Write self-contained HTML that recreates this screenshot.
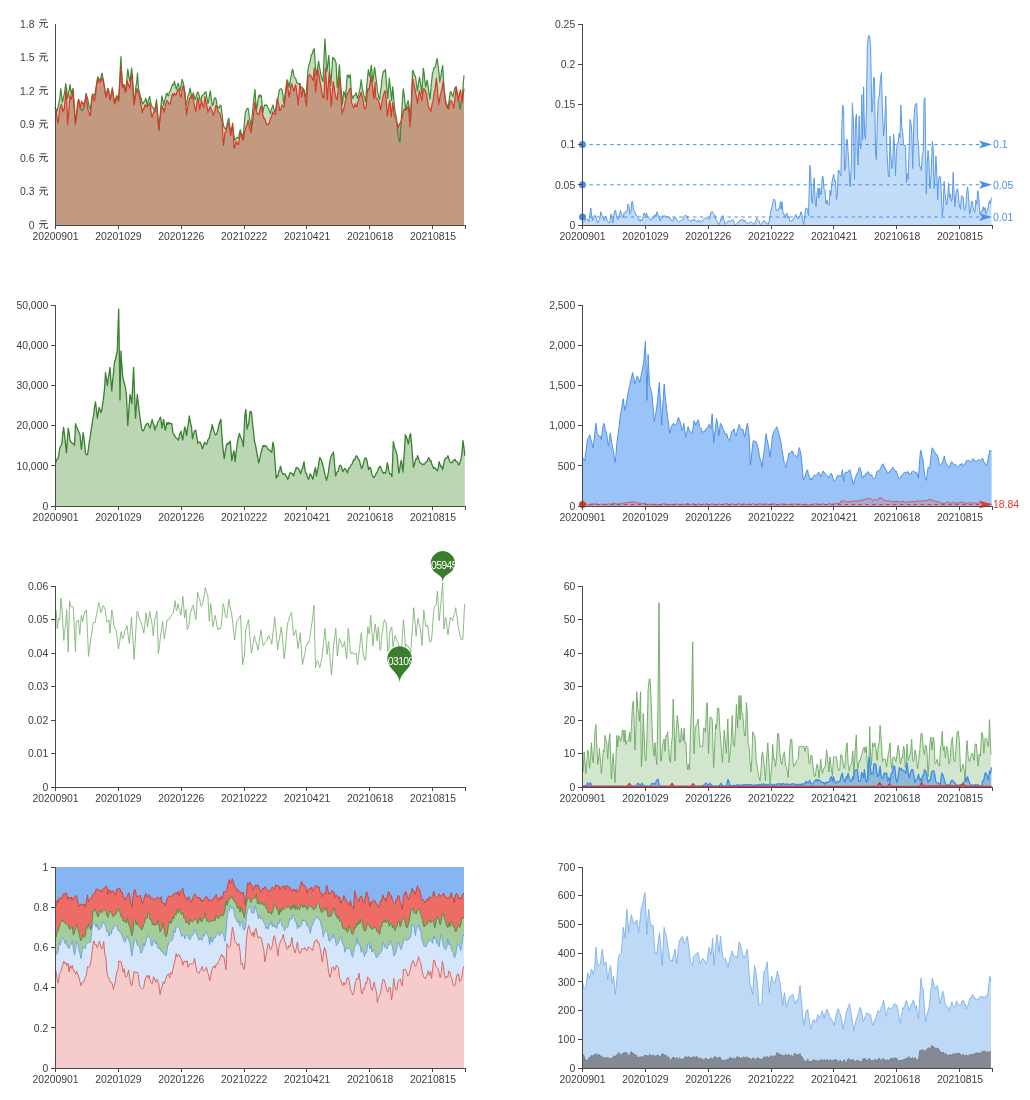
<!DOCTYPE html><html><head><meta charset="utf-8"><style>html,body{margin:0;padding:0;background:#fff;overflow:hidden;}svg{display:block;will-change:transform;filter:blur(0.4px)}text{font-family:"Liberation Sans",sans-serif;font-size:10.4px;fill:#3d3d3d}</style></head><body>
<svg width="1030" height="1100" viewBox="0 0 1030 1100">
<path d="M55.0,107.0 L56.0,109.2 L56.9,111.8 L57.9,107.7 L58.9,103.1 L59.9,97.4 L60.8,88.5 L61.6,95.2 L62.3,102.1 L63.3,98.3 L64.2,94.4 L65.0,89.3 L65.7,83.7 L66.7,89.8 L67.6,98.3 L68.4,93.8 L69.2,89.7 L70.0,84.7 L70.8,90.6 L71.5,94.4 L72.2,90.0 L73.0,88.5 L73.8,99.5 L74.6,110.4 L75.4,123.5 L76.4,116.8 L77.3,108.7 L78.3,100.2 L79.3,101.8 L80.2,108.4 L81.2,109.9 L82.2,110.9 L83.2,109.2 L84.1,108.0 L85.1,101.1 L86.1,93.4 L87.0,96.4 L88.0,100.1 L89.0,106.0 L89.7,108.1 L90.4,109.9 L91.4,100.6 L92.4,94.4 L93.2,93.9 L94.0,94.7 L94.8,96.3 L95.8,88.1 L96.7,83.2 L97.7,76.9 L98.7,78.6 L99.7,80.8 L100.5,79.4 L101.3,75.7 L102.1,73.0 L102.8,77.4 L103.5,80.8 L104.4,86.0 L105.2,91.7 L106.0,96.3 L106.9,92.3 L107.9,88.5 L108.7,91.3 L109.5,97.5 L110.3,99.2 L111.3,95.2 L112.3,87.6 L113.1,94.0 L113.9,98.7 L114.7,103.1 L115.7,98.6 L116.7,95.3 L117.6,96.8 L118.6,100.2 L119.4,84.9 L120.2,69.5 L121.0,56.5 L121.7,72.5 L122.5,86.6 L123.4,85.3 L124.4,84.7 L125.1,88.8 L125.9,90.5 L126.8,79.4 L127.8,69.1 L128.8,76.6 L129.8,80.8 L130.7,75.7 L131.7,68.2 L132.5,77.7 L133.3,89.8 L134.1,102.1 L135.0,96.3 L135.8,87.5 L136.7,82.0 L137.5,73.0 L138.5,88.5 L139.5,92.1 L140.4,96.3 L141.4,98.7 L142.4,104.1 L143.1,103.6 L143.8,102.1 L144.8,101.2 L145.8,98.3 L146.5,101.3 L147.2,106.0 L148.0,101.3 L148.9,98.9 L149.7,96.3 L150.5,101.5 L151.3,104.4 L152.1,107.0 L153.1,107.4 L154.0,109.6 L155.0,112.3 L155.7,104.5 L156.5,99.7 L157.3,108.4 L158.1,121.4 L158.9,130.7 L159.9,117.9 L160.8,107.6 L161.8,95.8 L162.8,100.4 L163.7,105.5 L164.5,100.5 L165.4,98.6 L166.2,93.8 L167.0,93.2 L167.8,95.6 L168.6,95.8 L169.4,92.1 L170.2,91.0 L171.0,89.0 L171.9,86.0 L172.7,84.3 L173.6,84.9 L174.4,81.2 L175.4,86.2 L176.4,89.0 L177.3,85.4 L178.3,83.2 L179.3,88.4 L180.2,90.9 L181.2,84.1 L182.2,79.3 L183.2,82.8 L184.1,87.0 L185.1,97.5 L186.1,105.5 L187.0,101.6 L188.0,95.3 L189.0,94.1 L190.0,88.0 L190.9,92.3 L191.9,98.7 L192.6,94.9 L193.3,92.9 L194.3,97.2 L195.3,99.7 L196.1,96.5 L196.9,93.7 L197.7,91.9 L198.5,93.3 L199.3,96.2 L200.1,100.6 L201.1,99.0 L202.1,95.8 L203.1,94.8 L204.0,94.2 L205.0,92.4 L206.0,91.9 L206.9,97.5 L207.9,103.5 L208.7,101.0 L209.5,95.1 L210.3,90.9 L211.3,98.5 L212.3,105.5 L213.3,104.2 L214.2,99.2 L215.2,97.7 L216.2,99.7 L217.1,105.7 L218.1,107.4 L219.1,107.9 L220.0,105.2 L221.0,105.5 L222.0,113.1 L223.0,123.0 L223.9,126.7 L224.9,128.8 L225.9,128.9 L226.8,125.9 L227.8,120.9 L228.8,118.1 L229.8,126.5 L230.7,131.7 L231.7,130.2 L232.7,125.9 L233.6,133.5 L234.6,140.4 L235.5,139.7 L236.3,138.0 L237.2,137.3 L238.0,138.5 L238.8,137.2 L239.6,131.7 L240.4,129.8 L241.2,133.4 L242.1,134.7 L242.9,138.5 L243.7,130.9 L244.5,121.4 L245.3,112.3 L246.3,110.2 L247.2,108.5 L248.2,108.4 L249.2,116.0 L250.1,120.4 L251.1,128.8 L252.1,116.2 L253.1,105.5 L254.0,97.6 L255.0,89.4 L255.7,100.8 L256.5,109.8 L257.3,105.3 L258.1,99.3 L258.9,95.2 L259.7,97.0 L260.5,94.8 L261.3,96.2 L262.0,102.7 L262.8,112.7 L263.7,108.0 L264.7,104.9 L265.6,105.4 L266.4,104.8 L267.3,105.9 L268.1,107.8 L268.9,109.3 L269.7,112.0 L270.5,113.6 L271.3,109.4 L272.2,107.3 L273.0,104.9 L273.8,108.6 L274.6,111.2 L275.4,111.7 L276.4,106.9 L277.3,101.7 L278.3,96.0 L279.3,90.3 L280.2,89.0 L281.2,88.7 L282.2,90.3 L282.9,94.9 L283.6,103.0 L284.5,98.6 L285.3,92.0 L286.2,87.2 L287.0,79.7 L288.0,81.8 L289.0,87.4 L289.8,83.3 L290.7,78.1 L291.5,74.4 L292.4,69.0 L293.2,71.2 L294.0,76.6 L294.8,77.7 L295.8,78.6 L296.7,82.6 L297.7,83.1 L298.7,84.1 L299.7,83.5 L300.5,86.3 L301.3,87.0 L302.1,87.4 L303.1,89.1 L304.0,89.4 L305.0,94.3 L306.0,97.1 L306.9,85.0 L307.9,70.0 L308.8,65.5 L309.6,62.9 L310.5,59.7 L311.3,54.4 L312.3,53.8 L313.3,50.2 L314.2,48.6 L315.2,63.2 L316.2,75.8 L317.0,72.2 L317.8,66.3 L318.6,61.2 L319.4,66.5 L320.2,70.5 L321.0,75.8 L322.0,79.0 L323.0,81.6 L323.9,60.6 L324.9,38.9 L325.9,53.9 L326.8,71.9 L327.8,64.1 L328.8,55.4 L329.8,72.2 L330.7,85.5 L331.7,72.8 L332.7,57.3 L333.4,59.0 L334.2,58.6 L335.0,59.9 L336.1,63.2 L337.2,87.7 L338.3,77.1 L339.4,64.8 L340.2,76.6 L341.0,87.7 L341.7,95.7 L342.4,104.1 L343.0,99.0 L343.7,91.6 L344.5,93.1 L345.4,97.6 L346.3,87.3 L347.3,75.2 L348.1,74.9 L348.9,77.9 L349.6,76.6 L350.3,74.6 L351.4,94.3 L352.2,96.4 L353.0,98.6 L353.7,96.0 L354.4,95.4 L355.2,94.7 L356.0,92.6 L356.7,95.6 L357.4,98.6 L358.2,96.3 L359.0,93.2 L360.1,87.9 L361.2,79.5 L362.3,88.8 L363.1,91.5 L363.9,95.9 L364.7,97.2 L365.6,101.9 L366.6,87.7 L367.5,78.0 L368.3,69.7 L369.1,73.9 L369.9,76.8 L370.6,70.0 L371.3,65.4 L372.0,72.6 L372.6,82.3 L373.5,76.9 L374.3,68.6 L374.7,67.5 L375.7,76.1 L376.7,83.4 L377.6,91.7 L378.6,97.0 L379.6,99.5 L380.4,92.1 L381.3,86.5 L382.1,78.0 L383.0,72.3 L383.8,71.1 L384.6,71.5 L385.4,69.4 L386.2,80.6 L387.0,90.2 L387.8,98.5 L388.5,87.9 L389.3,78.2 L390.1,85.9 L390.9,92.4 L391.7,100.5 L392.7,86.9 L393.6,96.3 L394.6,108.3 L395.3,112.1 L396.1,116.0 L396.9,124.4 L397.7,131.5 L398.5,137.4 L399.2,140.6 L400.0,142.2 L400.9,126.9 L401.9,108.3 L402.6,97.7 L403.3,88.8 L404.2,94.8 L405.0,102.9 L405.8,110.2 L406.6,106.1 L407.4,102.7 L408.2,100.5 L409.0,106.0 L409.8,112.6 L410.6,118.0 L411.6,94.2 L412.6,70.4 L413.5,71.7 L414.5,75.5 L415.5,76.2 L416.5,85.2 L417.4,90.8 L418.4,83.8 L419.4,77.2 L420.2,81.2 L421.0,86.5 L421.8,93.7 L422.5,82.4 L423.3,68.4 L424.1,72.9 L424.9,81.5 L425.7,86.9 L426.4,83.7 L427.1,80.1 L428.1,85.9 L429.1,94.1 L430.0,99.5 L430.9,89.0 L431.7,80.7 L432.5,73.3 L433.3,71.2 L434.1,67.7 L434.9,67.5 L435.7,65.7 L436.5,60.7 L437.3,58.7 L438.1,65.2 L438.9,72.6 L439.8,82.0 L440.7,77.0 L441.7,70.8 L442.7,65.5 L443.6,81.1 L444.6,95.6 L445.6,100.4 L446.6,105.2 L447.5,108.3 L448.5,104.4 L449.5,97.9 L450.4,91.7 L451.2,92.3 L452.1,94.9 L452.9,96.6 L453.8,92.2 L454.8,88.4 L455.8,86.9 L456.6,91.0 L457.4,96.1 L458.2,99.5 L459.2,103.2 L460.1,109.2 L461.1,103.1 L462.1,98.5 L463.1,86.3 L464.0,75.2 L464.0,225 L55.0,225 Z" fill="#c6ddc0" stroke="none" />
<path d="M55.0,108.0 L56.0,109.9 L56.9,116.6 L57.9,123.5 L58.9,116.3 L59.9,108.0 L60.6,106.6 L61.3,104.1 L62.0,106.7 L62.8,111.8 L63.5,109.1 L64.2,109.9 L65.2,98.8 L66.2,88.5 L66.9,105.7 L67.6,124.5 L68.4,115.9 L69.2,105.7 L70.0,95.3 L70.8,97.6 L71.5,99.2 L72.2,95.1 L73.0,90.5 L73.8,102.4 L74.6,111.9 L75.4,124.5 L76.4,115.0 L77.3,106.0 L78.1,101.4 L78.8,99.2 L79.5,105.1 L80.2,108.0 L81.0,103.0 L81.7,101.2 L82.5,103.9 L83.3,102.9 L84.1,106.0 L85.1,100.9 L86.1,94.4 L87.0,101.5 L88.0,109.9 L88.8,111.5 L89.6,115.0 L90.4,115.7 L91.4,103.8 L92.4,95.3 L93.3,96.7 L94.3,101.2 L95.2,97.1 L96.0,90.0 L96.9,82.9 L97.7,78.8 L98.7,81.6 L99.7,82.4 L100.6,81.7 L101.6,78.4 L102.6,77.9 L103.4,82.4 L104.3,86.3 L105.1,91.8 L106.0,97.3 L106.9,93.3 L107.9,88.5 L108.7,91.2 L109.5,97.0 L110.3,100.2 L111.3,93.2 L112.3,89.5 L113.1,93.2 L113.9,100.4 L114.7,104.1 L115.5,101.5 L116.3,99.3 L117.1,97.3 L117.9,99.6 L118.6,101.2 L119.4,89.4 L120.2,77.4 L121.0,66.2 L121.7,75.2 L122.5,87.6 L123.2,86.9 L123.9,84.7 L124.7,90.2 L125.4,92.4 L126.4,88.3 L127.3,80.8 L128.1,84.0 L128.9,85.4 L129.8,88.5 L130.7,80.3 L131.7,73.0 L132.5,84.4 L133.3,95.0 L134.1,105.0 L135.1,98.2 L136.1,93.1 L137.0,88.5 L138.0,91.3 L139.0,95.1 L140.0,98.3 L140.8,104.2 L141.6,108.0 L142.4,112.8 L143.2,108.5 L144.0,108.8 L144.8,105.0 L145.6,105.4 L146.4,106.4 L147.2,107.0 L148.0,104.7 L148.9,104.1 L149.7,103.1 L150.5,107.6 L151.3,113.8 L152.1,117.7 L153.1,113.5 L154.0,112.3 L155.0,109.4 L155.7,105.3 L156.5,103.5 L157.3,112.7 L158.1,118.7 L158.9,128.8 L159.9,120.2 L160.8,112.7 L161.8,105.5 L162.6,108.2 L163.4,108.4 L164.2,112.3 L165.0,108.3 L165.8,103.5 L166.7,100.6 L167.6,101.1 L168.6,103.1 L169.6,104.5 L170.5,102.6 L171.5,97.3 L172.5,93.8 L173.4,95.8 L174.4,93.3 L175.4,94.8 L176.2,94.9 L177.1,91.4 L177.9,89.3 L178.8,89.0 L179.8,94.2 L180.7,97.7 L181.7,93.4 L182.7,86.1 L183.5,86.6 L184.3,89.8 L185.1,92.9 L185.8,105.0 L186.6,115.2 L187.3,109.8 L188.0,105.5 L188.8,102.0 L189.6,98.5 L190.4,97.7 L191.2,95.1 L192.1,96.2 L192.9,94.8 L193.8,102.0 L194.8,107.6 L195.8,111.3 L196.7,104.5 L197.7,97.7 L198.7,101.8 L199.7,109.4 L200.6,104.4 L201.6,100.6 L202.6,105.1 L203.5,107.4 L204.3,103.3 L205.0,96.7 L206.0,102.4 L206.9,106.1 L207.9,112.3 L208.7,110.4 L209.5,108.3 L210.3,106.5 L211.3,109.8 L212.3,111.4 L213.3,115.2 L214.1,113.6 L214.9,110.1 L215.7,105.5 L216.5,106.0 L217.4,108.1 L218.2,111.9 L219.1,112.3 L220.0,113.7 L221.0,118.4 L222.0,119.1 L222.7,132.2 L223.4,145.3 L224.2,139.7 L224.9,132.7 L225.9,131.0 L226.8,127.8 L227.8,124.4 L228.8,123.0 L229.8,128.5 L230.7,135.6 L231.7,128.4 L232.7,123.0 L233.4,136.2 L234.1,148.2 L234.9,146.6 L235.7,142.3 L236.6,141.4 L237.5,144.3 L238.5,144.3 L239.5,138.2 L240.4,132.7 L241.2,134.3 L242.1,137.6 L242.9,140.4 L243.7,138.3 L244.5,132.9 L245.3,128.8 L246.3,126.3 L247.2,124.5 L248.2,120.0 L249.2,125.9 L250.1,129.4 L251.1,132.7 L252.1,125.1 L253.1,118.1 L254.0,110.4 L255.0,102.0 L255.7,108.3 L256.5,111.7 L257.3,113.7 L258.1,113.9 L258.9,114.6 L259.7,111.1 L260.5,108.3 L261.3,105.9 L262.3,112.1 L263.3,116.6 L264.1,118.7 L264.9,118.7 L265.7,122.4 L266.5,123.8 L267.3,125.1 L268.1,124.3 L268.9,123.5 L269.7,121.9 L270.5,118.5 L271.3,117.7 L272.2,114.1 L273.0,111.7 L273.8,113.7 L274.6,113.2 L275.4,114.6 L276.4,104.9 L277.3,98.1 L278.1,101.8 L278.9,105.8 L279.8,110.7 L280.6,110.3 L281.4,107.5 L282.2,104.9 L283.2,106.0 L284.1,106.8 L285.1,98.9 L286.1,88.7 L287.0,81.6 L288.0,89.5 L289.0,97.1 L289.8,93.3 L290.6,87.7 L291.4,83.5 L292.2,85.2 L293.0,88.4 L293.8,91.3 L294.8,87.3 L295.8,84.5 L296.6,92.0 L297.4,96.8 L298.2,104.9 L299.2,92.7 L300.1,83.5 L300.9,89.7 L301.6,97.1 L302.3,93.5 L303.1,88.4 L303.8,91.8 L304.5,93.3 L305.5,100.1 L306.5,105.9 L307.2,92.9 L307.9,76.7 L308.9,75.9 L309.9,74.4 L310.8,75.8 L311.6,77.4 L312.4,78.8 L313.3,80.6 L314.2,68.0 L315.0,79.0 L315.7,92.3 L316.7,80.7 L317.6,68.0 L318.4,72.0 L319.2,76.1 L320.0,81.6 L321.0,86.8 L322.0,93.3 L323.0,97.3 L323.9,98.1 L324.7,81.3 L325.4,68.0 L326.4,83.5 L327.3,100.0 L328.3,85.2 L329.3,71.9 L330.2,88.3 L331.2,106.8 L332.2,94.0 L333.2,81.6 L334.1,86.4 L335.0,93.2 L336.1,98.0 L337.2,99.7 L338.3,88.3 L339.4,76.8 L340.2,87.1 L341.0,95.9 L342.1,113.9 L342.9,110.5 L343.7,109.6 L344.5,105.3 L345.4,101.4 L346.3,97.7 L347.3,93.2 L348.2,92.8 L349.2,89.9 L350.0,88.5 L350.8,88.8 L351.4,102.5 L352.5,104.8 L353.5,107.4 L354.4,106.7 L355.2,103.6 L356.0,106.4 L356.8,106.8 L357.9,101.8 L359.0,98.6 L360.1,95.5 L361.2,92.1 L362.0,96.3 L362.8,98.6 L363.6,103.5 L364.5,109.0 L365.3,108.5 L366.1,106.8 L366.9,98.4 L367.7,88.8 L368.6,90.0 L369.4,87.7 L370.2,81.9 L371.0,75.7 L371.8,82.1 L372.6,87.2 L373.7,98.6 L375.0,82.3 L375.7,97.6 L376.7,98.0 L377.6,100.4 L378.6,100.5 L379.6,104.7 L380.5,110.2 L381.3,105.7 L382.2,100.6 L383.0,96.6 L383.8,94.0 L384.6,91.4 L385.4,90.8 L386.4,102.4 L387.3,116.0 L388.1,111.0 L388.9,104.8 L389.8,100.5 L390.5,107.1 L391.2,117.0 L391.9,110.8 L392.7,102.4 L393.4,107.5 L394.1,114.1 L395.1,117.6 L396.1,118.0 L397.0,123.2 L398.0,127.7 L398.7,125.3 L399.5,123.8 L400.4,123.2 L401.4,119.9 L402.2,118.1 L403.0,112.8 L403.8,110.2 L404.8,108.8 L405.8,110.2 L406.6,109.4 L407.4,108.8 L408.2,106.3 L409.2,116.9 L410.1,126.7 L411.0,111.5 L411.8,94.0 L412.6,78.2 L413.5,82.9 L414.5,86.9 L415.5,91.5 L416.5,97.6 L417.4,103.4 L418.4,96.7 L419.4,90.8 L420.2,93.6 L421.0,96.9 L421.8,100.5 L422.5,95.8 L423.3,88.8 L424.2,88.9 L425.2,90.4 L426.2,92.7 L427.1,97.7 L428.1,104.4 L429.1,108.3 L430.0,109.0 L431.0,111.2 L432.0,104.1 L433.0,101.4 L433.9,94.7 L434.7,90.5 L435.6,84.8 L436.4,78.2 L437.2,86.4 L438.0,96.5 L438.8,104.4 L439.6,99.5 L440.4,94.6 L441.2,91.7 L442.2,87.7 L443.2,81.1 L444.0,89.4 L444.8,94.3 L445.6,102.4 L446.6,106.1 L447.5,105.2 L448.5,109.2 L449.3,105.6 L450.1,101.6 L450.9,100.5 L451.9,101.9 L452.9,104.5 L453.8,108.3 L454.6,101.9 L455.5,93.3 L456.3,86.9 L457.2,92.6 L458.2,100.5 L459.0,95.8 L459.8,92.7 L460.6,89.8 L461.4,97.4 L462.1,102.4 L463.1,96.0 L464.0,88.8 L464.0,225 L55.0,225 Z" fill="#c19a80" stroke="none" />
<path d="M55.0,107.0 L56.0,109.2 L56.9,111.8 L57.9,107.7 L58.9,103.1 L59.9,97.4 L60.8,88.5 L61.6,95.2 L62.3,102.1 L63.3,98.3 L64.2,94.4 L65.0,89.3 L65.7,83.7 L66.7,89.8 L67.6,98.3 L68.4,93.8 L69.2,89.7 L70.0,84.7 L70.8,90.6 L71.5,94.4 L72.2,90.0 L73.0,88.5 L73.8,99.5 L74.6,110.4 L75.4,123.5 L76.4,116.8 L77.3,108.7 L78.3,100.2 L79.3,101.8 L80.2,108.4 L81.2,109.9 L82.2,110.9 L83.2,109.2 L84.1,108.0 L85.1,101.1 L86.1,93.4 L87.0,96.4 L88.0,100.1 L89.0,106.0 L89.7,108.1 L90.4,109.9 L91.4,100.6 L92.4,94.4 L93.2,93.9 L94.0,94.7 L94.8,96.3 L95.8,88.1 L96.7,83.2 L97.7,76.9 L98.7,78.6 L99.7,80.8 L100.5,79.4 L101.3,75.7 L102.1,73.0 L102.8,77.4 L103.5,80.8 L104.4,86.0 L105.2,91.7 L106.0,96.3 L106.9,92.3 L107.9,88.5 L108.7,91.3 L109.5,97.5 L110.3,99.2 L111.3,95.2 L112.3,87.6 L113.1,94.0 L113.9,98.7 L114.7,103.1 L115.7,98.6 L116.7,95.3 L117.6,96.8 L118.6,100.2 L119.4,84.9 L120.2,69.5 L121.0,56.5 L121.7,72.5 L122.5,86.6 L123.4,85.3 L124.4,84.7 L125.1,88.8 L125.9,90.5 L126.8,79.4 L127.8,69.1 L128.8,76.6 L129.8,80.8 L130.7,75.7 L131.7,68.2 L132.5,77.7 L133.3,89.8 L134.1,102.1 L135.0,96.3 L135.8,87.5 L136.7,82.0 L137.5,73.0 L138.5,88.5 L139.5,92.1 L140.4,96.3 L141.4,98.7 L142.4,104.1 L143.1,103.6 L143.8,102.1 L144.8,101.2 L145.8,98.3 L146.5,101.3 L147.2,106.0 L148.0,101.3 L148.9,98.9 L149.7,96.3 L150.5,101.5 L151.3,104.4 L152.1,107.0 L153.1,107.4 L154.0,109.6 L155.0,112.3 L155.7,104.5 L156.5,99.7 L157.3,108.4 L158.1,121.4 L158.9,130.7 L159.9,117.9 L160.8,107.6 L161.8,95.8 L162.8,100.4 L163.7,105.5 L164.5,100.5 L165.4,98.6 L166.2,93.8 L167.0,93.2 L167.8,95.6 L168.6,95.8 L169.4,92.1 L170.2,91.0 L171.0,89.0 L171.9,86.0 L172.7,84.3 L173.6,84.9 L174.4,81.2 L175.4,86.2 L176.4,89.0 L177.3,85.4 L178.3,83.2 L179.3,88.4 L180.2,90.9 L181.2,84.1 L182.2,79.3 L183.2,82.8 L184.1,87.0 L185.1,97.5 L186.1,105.5 L187.0,101.6 L188.0,95.3 L189.0,94.1 L190.0,88.0 L190.9,92.3 L191.9,98.7 L192.6,94.9 L193.3,92.9 L194.3,97.2 L195.3,99.7 L196.1,96.5 L196.9,93.7 L197.7,91.9 L198.5,93.3 L199.3,96.2 L200.1,100.6 L201.1,99.0 L202.1,95.8 L203.1,94.8 L204.0,94.2 L205.0,92.4 L206.0,91.9 L206.9,97.5 L207.9,103.5 L208.7,101.0 L209.5,95.1 L210.3,90.9 L211.3,98.5 L212.3,105.5 L213.3,104.2 L214.2,99.2 L215.2,97.7 L216.2,99.7 L217.1,105.7 L218.1,107.4 L219.1,107.9 L220.0,105.2 L221.0,105.5 L222.0,113.1 L223.0,123.0 L223.9,126.7 L224.9,128.8 L225.9,128.9 L226.8,125.9 L227.8,120.9 L228.8,118.1 L229.8,126.5 L230.7,131.7 L231.7,130.2 L232.7,125.9 L233.6,133.5 L234.6,140.4 L235.5,139.7 L236.3,138.0 L237.2,137.3 L238.0,138.5 L238.8,137.2 L239.6,131.7 L240.4,129.8 L241.2,133.4 L242.1,134.7 L242.9,138.5 L243.7,130.9 L244.5,121.4 L245.3,112.3 L246.3,110.2 L247.2,108.5 L248.2,108.4 L249.2,116.0 L250.1,120.4 L251.1,128.8 L252.1,116.2 L253.1,105.5 L254.0,97.6 L255.0,89.4 L255.7,100.8 L256.5,109.8 L257.3,105.3 L258.1,99.3 L258.9,95.2 L259.7,97.0 L260.5,94.8 L261.3,96.2 L262.0,102.7 L262.8,112.7 L263.7,108.0 L264.7,104.9 L265.6,105.4 L266.4,104.8 L267.3,105.9 L268.1,107.8 L268.9,109.3 L269.7,112.0 L270.5,113.6 L271.3,109.4 L272.2,107.3 L273.0,104.9 L273.8,108.6 L274.6,111.2 L275.4,111.7 L276.4,106.9 L277.3,101.7 L278.3,96.0 L279.3,90.3 L280.2,89.0 L281.2,88.7 L282.2,90.3 L282.9,94.9 L283.6,103.0 L284.5,98.6 L285.3,92.0 L286.2,87.2 L287.0,79.7 L288.0,81.8 L289.0,87.4 L289.8,83.3 L290.7,78.1 L291.5,74.4 L292.4,69.0 L293.2,71.2 L294.0,76.6 L294.8,77.7 L295.8,78.6 L296.7,82.6 L297.7,83.1 L298.7,84.1 L299.7,83.5 L300.5,86.3 L301.3,87.0 L302.1,87.4 L303.1,89.1 L304.0,89.4 L305.0,94.3 L306.0,97.1 L306.9,85.0 L307.9,70.0 L308.8,65.5 L309.6,62.9 L310.5,59.7 L311.3,54.4 L312.3,53.8 L313.3,50.2 L314.2,48.6 L315.2,63.2 L316.2,75.8 L317.0,72.2 L317.8,66.3 L318.6,61.2 L319.4,66.5 L320.2,70.5 L321.0,75.8 L322.0,79.0 L323.0,81.6 L323.9,60.6 L324.9,38.9 L325.9,53.9 L326.8,71.9 L327.8,64.1 L328.8,55.4 L329.8,72.2 L330.7,85.5 L331.7,72.8 L332.7,57.3 L333.4,59.0 L334.2,58.6 L335.0,59.9 L336.1,63.2 L337.2,87.7 L338.3,77.1 L339.4,64.8 L340.2,76.6 L341.0,87.7 L341.7,95.7 L342.4,104.1 L343.0,99.0 L343.7,91.6 L344.5,93.1 L345.4,97.6 L346.3,87.3 L347.3,75.2 L348.1,74.9 L348.9,77.9 L349.6,76.6 L350.3,74.6 L351.4,94.3 L352.2,96.4 L353.0,98.6 L353.7,96.0 L354.4,95.4 L355.2,94.7 L356.0,92.6 L356.7,95.6 L357.4,98.6 L358.2,96.3 L359.0,93.2 L360.1,87.9 L361.2,79.5 L362.3,88.8 L363.1,91.5 L363.9,95.9 L364.7,97.2 L365.6,101.9 L366.6,87.7 L367.5,78.0 L368.3,69.7 L369.1,73.9 L369.9,76.8 L370.6,70.0 L371.3,65.4 L372.0,72.6 L372.6,82.3 L373.5,76.9 L374.3,68.6 L374.7,67.5 L375.7,76.1 L376.7,83.4 L377.6,91.7 L378.6,97.0 L379.6,99.5 L380.4,92.1 L381.3,86.5 L382.1,78.0 L383.0,72.3 L383.8,71.1 L384.6,71.5 L385.4,69.4 L386.2,80.6 L387.0,90.2 L387.8,98.5 L388.5,87.9 L389.3,78.2 L390.1,85.9 L390.9,92.4 L391.7,100.5 L392.7,86.9 L393.6,96.3 L394.6,108.3 L395.3,112.1 L396.1,116.0 L396.9,124.4 L397.7,131.5 L398.5,137.4 L399.2,140.6 L400.0,142.2 L400.9,126.9 L401.9,108.3 L402.6,97.7 L403.3,88.8 L404.2,94.8 L405.0,102.9 L405.8,110.2 L406.6,106.1 L407.4,102.7 L408.2,100.5 L409.0,106.0 L409.8,112.6 L410.6,118.0 L411.6,94.2 L412.6,70.4 L413.5,71.7 L414.5,75.5 L415.5,76.2 L416.5,85.2 L417.4,90.8 L418.4,83.8 L419.4,77.2 L420.2,81.2 L421.0,86.5 L421.8,93.7 L422.5,82.4 L423.3,68.4 L424.1,72.9 L424.9,81.5 L425.7,86.9 L426.4,83.7 L427.1,80.1 L428.1,85.9 L429.1,94.1 L430.0,99.5 L430.9,89.0 L431.7,80.7 L432.5,73.3 L433.3,71.2 L434.1,67.7 L434.9,67.5 L435.7,65.7 L436.5,60.7 L437.3,58.7 L438.1,65.2 L438.9,72.6 L439.8,82.0 L440.7,77.0 L441.7,70.8 L442.7,65.5 L443.6,81.1 L444.6,95.6 L445.6,100.4 L446.6,105.2 L447.5,108.3 L448.5,104.4 L449.5,97.9 L450.4,91.7 L451.2,92.3 L452.1,94.9 L452.9,96.6 L453.8,92.2 L454.8,88.4 L455.8,86.9 L456.6,91.0 L457.4,96.1 L458.2,99.5 L459.2,103.2 L460.1,109.2 L461.1,103.1 L462.1,98.5 L463.1,86.3 L464.0,75.2" fill="none" stroke="#3d8b35" stroke-width="1.2" stroke-linejoin="round"/>
<path d="M55.0,108.0 L56.0,109.9 L56.9,116.6 L57.9,123.5 L58.9,116.3 L59.9,108.0 L60.6,106.6 L61.3,104.1 L62.0,106.7 L62.8,111.8 L63.5,109.1 L64.2,109.9 L65.2,98.8 L66.2,88.5 L66.9,105.7 L67.6,124.5 L68.4,115.9 L69.2,105.7 L70.0,95.3 L70.8,97.6 L71.5,99.2 L72.2,95.1 L73.0,90.5 L73.8,102.4 L74.6,111.9 L75.4,124.5 L76.4,115.0 L77.3,106.0 L78.1,101.4 L78.8,99.2 L79.5,105.1 L80.2,108.0 L81.0,103.0 L81.7,101.2 L82.5,103.9 L83.3,102.9 L84.1,106.0 L85.1,100.9 L86.1,94.4 L87.0,101.5 L88.0,109.9 L88.8,111.5 L89.6,115.0 L90.4,115.7 L91.4,103.8 L92.4,95.3 L93.3,96.7 L94.3,101.2 L95.2,97.1 L96.0,90.0 L96.9,82.9 L97.7,78.8 L98.7,81.6 L99.7,82.4 L100.6,81.7 L101.6,78.4 L102.6,77.9 L103.4,82.4 L104.3,86.3 L105.1,91.8 L106.0,97.3 L106.9,93.3 L107.9,88.5 L108.7,91.2 L109.5,97.0 L110.3,100.2 L111.3,93.2 L112.3,89.5 L113.1,93.2 L113.9,100.4 L114.7,104.1 L115.5,101.5 L116.3,99.3 L117.1,97.3 L117.9,99.6 L118.6,101.2 L119.4,89.4 L120.2,77.4 L121.0,66.2 L121.7,75.2 L122.5,87.6 L123.2,86.9 L123.9,84.7 L124.7,90.2 L125.4,92.4 L126.4,88.3 L127.3,80.8 L128.1,84.0 L128.9,85.4 L129.8,88.5 L130.7,80.3 L131.7,73.0 L132.5,84.4 L133.3,95.0 L134.1,105.0 L135.1,98.2 L136.1,93.1 L137.0,88.5 L138.0,91.3 L139.0,95.1 L140.0,98.3 L140.8,104.2 L141.6,108.0 L142.4,112.8 L143.2,108.5 L144.0,108.8 L144.8,105.0 L145.6,105.4 L146.4,106.4 L147.2,107.0 L148.0,104.7 L148.9,104.1 L149.7,103.1 L150.5,107.6 L151.3,113.8 L152.1,117.7 L153.1,113.5 L154.0,112.3 L155.0,109.4 L155.7,105.3 L156.5,103.5 L157.3,112.7 L158.1,118.7 L158.9,128.8 L159.9,120.2 L160.8,112.7 L161.8,105.5 L162.6,108.2 L163.4,108.4 L164.2,112.3 L165.0,108.3 L165.8,103.5 L166.7,100.6 L167.6,101.1 L168.6,103.1 L169.6,104.5 L170.5,102.6 L171.5,97.3 L172.5,93.8 L173.4,95.8 L174.4,93.3 L175.4,94.8 L176.2,94.9 L177.1,91.4 L177.9,89.3 L178.8,89.0 L179.8,94.2 L180.7,97.7 L181.7,93.4 L182.7,86.1 L183.5,86.6 L184.3,89.8 L185.1,92.9 L185.8,105.0 L186.6,115.2 L187.3,109.8 L188.0,105.5 L188.8,102.0 L189.6,98.5 L190.4,97.7 L191.2,95.1 L192.1,96.2 L192.9,94.8 L193.8,102.0 L194.8,107.6 L195.8,111.3 L196.7,104.5 L197.7,97.7 L198.7,101.8 L199.7,109.4 L200.6,104.4 L201.6,100.6 L202.6,105.1 L203.5,107.4 L204.3,103.3 L205.0,96.7 L206.0,102.4 L206.9,106.1 L207.9,112.3 L208.7,110.4 L209.5,108.3 L210.3,106.5 L211.3,109.8 L212.3,111.4 L213.3,115.2 L214.1,113.6 L214.9,110.1 L215.7,105.5 L216.5,106.0 L217.4,108.1 L218.2,111.9 L219.1,112.3 L220.0,113.7 L221.0,118.4 L222.0,119.1 L222.7,132.2 L223.4,145.3 L224.2,139.7 L224.9,132.7 L225.9,131.0 L226.8,127.8 L227.8,124.4 L228.8,123.0 L229.8,128.5 L230.7,135.6 L231.7,128.4 L232.7,123.0 L233.4,136.2 L234.1,148.2 L234.9,146.6 L235.7,142.3 L236.6,141.4 L237.5,144.3 L238.5,144.3 L239.5,138.2 L240.4,132.7 L241.2,134.3 L242.1,137.6 L242.9,140.4 L243.7,138.3 L244.5,132.9 L245.3,128.8 L246.3,126.3 L247.2,124.5 L248.2,120.0 L249.2,125.9 L250.1,129.4 L251.1,132.7 L252.1,125.1 L253.1,118.1 L254.0,110.4 L255.0,102.0 L255.7,108.3 L256.5,111.7 L257.3,113.7 L258.1,113.9 L258.9,114.6 L259.7,111.1 L260.5,108.3 L261.3,105.9 L262.3,112.1 L263.3,116.6 L264.1,118.7 L264.9,118.7 L265.7,122.4 L266.5,123.8 L267.3,125.1 L268.1,124.3 L268.9,123.5 L269.7,121.9 L270.5,118.5 L271.3,117.7 L272.2,114.1 L273.0,111.7 L273.8,113.7 L274.6,113.2 L275.4,114.6 L276.4,104.9 L277.3,98.1 L278.1,101.8 L278.9,105.8 L279.8,110.7 L280.6,110.3 L281.4,107.5 L282.2,104.9 L283.2,106.0 L284.1,106.8 L285.1,98.9 L286.1,88.7 L287.0,81.6 L288.0,89.5 L289.0,97.1 L289.8,93.3 L290.6,87.7 L291.4,83.5 L292.2,85.2 L293.0,88.4 L293.8,91.3 L294.8,87.3 L295.8,84.5 L296.6,92.0 L297.4,96.8 L298.2,104.9 L299.2,92.7 L300.1,83.5 L300.9,89.7 L301.6,97.1 L302.3,93.5 L303.1,88.4 L303.8,91.8 L304.5,93.3 L305.5,100.1 L306.5,105.9 L307.2,92.9 L307.9,76.7 L308.9,75.9 L309.9,74.4 L310.8,75.8 L311.6,77.4 L312.4,78.8 L313.3,80.6 L314.2,68.0 L315.0,79.0 L315.7,92.3 L316.7,80.7 L317.6,68.0 L318.4,72.0 L319.2,76.1 L320.0,81.6 L321.0,86.8 L322.0,93.3 L323.0,97.3 L323.9,98.1 L324.7,81.3 L325.4,68.0 L326.4,83.5 L327.3,100.0 L328.3,85.2 L329.3,71.9 L330.2,88.3 L331.2,106.8 L332.2,94.0 L333.2,81.6 L334.1,86.4 L335.0,93.2 L336.1,98.0 L337.2,99.7 L338.3,88.3 L339.4,76.8 L340.2,87.1 L341.0,95.9 L342.1,113.9 L342.9,110.5 L343.7,109.6 L344.5,105.3 L345.4,101.4 L346.3,97.7 L347.3,93.2 L348.2,92.8 L349.2,89.9 L350.0,88.5 L350.8,88.8 L351.4,102.5 L352.5,104.8 L353.5,107.4 L354.4,106.7 L355.2,103.6 L356.0,106.4 L356.8,106.8 L357.9,101.8 L359.0,98.6 L360.1,95.5 L361.2,92.1 L362.0,96.3 L362.8,98.6 L363.6,103.5 L364.5,109.0 L365.3,108.5 L366.1,106.8 L366.9,98.4 L367.7,88.8 L368.6,90.0 L369.4,87.7 L370.2,81.9 L371.0,75.7 L371.8,82.1 L372.6,87.2 L373.7,98.6 L375.0,82.3 L375.7,97.6 L376.7,98.0 L377.6,100.4 L378.6,100.5 L379.6,104.7 L380.5,110.2 L381.3,105.7 L382.2,100.6 L383.0,96.6 L383.8,94.0 L384.6,91.4 L385.4,90.8 L386.4,102.4 L387.3,116.0 L388.1,111.0 L388.9,104.8 L389.8,100.5 L390.5,107.1 L391.2,117.0 L391.9,110.8 L392.7,102.4 L393.4,107.5 L394.1,114.1 L395.1,117.6 L396.1,118.0 L397.0,123.2 L398.0,127.7 L398.7,125.3 L399.5,123.8 L400.4,123.2 L401.4,119.9 L402.2,118.1 L403.0,112.8 L403.8,110.2 L404.8,108.8 L405.8,110.2 L406.6,109.4 L407.4,108.8 L408.2,106.3 L409.2,116.9 L410.1,126.7 L411.0,111.5 L411.8,94.0 L412.6,78.2 L413.5,82.9 L414.5,86.9 L415.5,91.5 L416.5,97.6 L417.4,103.4 L418.4,96.7 L419.4,90.8 L420.2,93.6 L421.0,96.9 L421.8,100.5 L422.5,95.8 L423.3,88.8 L424.2,88.9 L425.2,90.4 L426.2,92.7 L427.1,97.7 L428.1,104.4 L429.1,108.3 L430.0,109.0 L431.0,111.2 L432.0,104.1 L433.0,101.4 L433.9,94.7 L434.7,90.5 L435.6,84.8 L436.4,78.2 L437.2,86.4 L438.0,96.5 L438.8,104.4 L439.6,99.5 L440.4,94.6 L441.2,91.7 L442.2,87.7 L443.2,81.1 L444.0,89.4 L444.8,94.3 L445.6,102.4 L446.6,106.1 L447.5,105.2 L448.5,109.2 L449.3,105.6 L450.1,101.6 L450.9,100.5 L451.9,101.9 L452.9,104.5 L453.8,108.3 L454.6,101.9 L455.5,93.3 L456.3,86.9 L457.2,92.6 L458.2,100.5 L459.0,95.8 L459.8,92.7 L460.6,89.8 L461.4,97.4 L462.1,102.4 L463.1,96.0 L464.0,88.8" fill="none" stroke="#d8392b" stroke-width="1.2" stroke-linejoin="round"/>
<line x1="55.5" y1="24" x2="55.5" y2="226" stroke="#4a4a4a" stroke-width="1"/>
<path d="M40.30,220.80H46.40 M39.20,223.50H47.50 M42.00,223.50C42.00,226.20 41.20,227.60 39.30,228.70 M44.40,223.50V227.60C44.40,228.30 44.80,228.40 45.60,228.40H47.60V226.90" fill="none" stroke="#3d3d3d" stroke-width="0.95"/>
<text x="34.5" y="228.7" text-anchor="end">0</text>
<path d="M40.30,187.30H46.40 M39.20,190.00H47.50 M42.00,190.00C42.00,192.70 41.20,194.10 39.30,195.20 M44.40,190.00V194.10C44.40,194.80 44.80,194.90 45.60,194.90H47.60V193.40" fill="none" stroke="#3d3d3d" stroke-width="0.95"/>
<text x="34.5" y="195.2" text-anchor="end">0.3</text>
<path d="M40.30,153.80H46.40 M39.20,156.50H47.50 M42.00,156.50C42.00,159.20 41.20,160.60 39.30,161.70 M44.40,156.50V160.60C44.40,161.30 44.80,161.40 45.60,161.40H47.60V159.90" fill="none" stroke="#3d3d3d" stroke-width="0.95"/>
<text x="34.5" y="161.7" text-anchor="end">0.6</text>
<path d="M40.30,120.30H46.40 M39.20,123.00H47.50 M42.00,123.00C42.00,125.70 41.20,127.10 39.30,128.20 M44.40,123.00V127.10C44.40,127.80 44.80,127.90 45.60,127.90H47.60V126.40" fill="none" stroke="#3d3d3d" stroke-width="0.95"/>
<text x="34.5" y="128.2" text-anchor="end">0.9</text>
<path d="M40.30,86.80H46.40 M39.20,89.50H47.50 M42.00,89.50C42.00,92.20 41.20,93.60 39.30,94.70 M44.40,89.50V93.60C44.40,94.30 44.80,94.40 45.60,94.40H47.60V92.90" fill="none" stroke="#3d3d3d" stroke-width="0.95"/>
<text x="34.5" y="94.7" text-anchor="end">1.2</text>
<path d="M40.30,53.30H46.40 M39.20,56.00H47.50 M42.00,56.00C42.00,58.70 41.20,60.10 39.30,61.20 M44.40,56.00V60.10C44.40,60.80 44.80,60.90 45.60,60.90H47.60V59.40" fill="none" stroke="#3d3d3d" stroke-width="0.95"/>
<text x="34.5" y="61.2" text-anchor="end">1.5</text>
<path d="M40.30,19.80H46.40 M39.20,22.50H47.50 M42.00,22.50C42.00,25.20 41.20,26.60 39.30,27.70 M44.40,22.50V26.60C44.40,27.30 44.80,27.40 45.60,27.40H47.60V25.90" fill="none" stroke="#3d3d3d" stroke-width="0.95"/>
<text x="34.5" y="27.7" text-anchor="end">1.8</text>
<line x1="55" y1="225.5" x2="466" y2="225.5" stroke="#4a4a4a" stroke-width="1"/>
<line x1="55.5" y1="225" x2="55.5" y2="229" stroke="#4a4a4a" stroke-width="1"/>
<text x="55.5" y="240.0" text-anchor="middle">20200901</text>
<line x1="118.5" y1="225" x2="118.5" y2="229" stroke="#4a4a4a" stroke-width="1"/>
<text x="118.4" y="240.0" text-anchor="middle">20201029</text>
<line x1="181.5" y1="225" x2="181.5" y2="229" stroke="#4a4a4a" stroke-width="1"/>
<text x="181.3" y="240.0" text-anchor="middle">20201226</text>
<line x1="244.5" y1="225" x2="244.5" y2="229" stroke="#4a4a4a" stroke-width="1"/>
<text x="244.2" y="240.0" text-anchor="middle">20210222</text>
<line x1="306.5" y1="225" x2="306.5" y2="229" stroke="#4a4a4a" stroke-width="1"/>
<text x="307.1" y="240.0" text-anchor="middle">20210421</text>
<line x1="369.5" y1="225" x2="369.5" y2="229" stroke="#4a4a4a" stroke-width="1"/>
<text x="370.1" y="240.0" text-anchor="middle">20210618</text>
<line x1="432.5" y1="225" x2="432.5" y2="229" stroke="#4a4a4a" stroke-width="1"/>
<text x="433.0" y="240.0" text-anchor="middle">20210815</text>
<line x1="465.5" y1="225" x2="465.5" y2="229" stroke="#4a4a4a" stroke-width="1"/>
<path d="M582.6,223.1 L583.5,222.5 L584.5,220.5 L585.5,219.5 L586.6,219.3 L587.6,219.3 L588.9,221.8 L589.8,215.0 L590.8,207.9 L591.7,216.4 L592.7,220.5 L593.5,217.6 L594.4,215.5 L595.2,215.5 L596.0,217.9 L596.9,220.5 L597.7,223.1 L598.8,220.3 L599.8,218.8 L600.9,211.7 L601.7,215.2 L602.6,216.3 L603.4,219.3 L604.2,220.4 L605.1,216.7 L605.9,216.7 L607.0,220.0 L608.0,221.7 L609.1,223.1 L609.9,221.7 L610.8,214.4 L611.6,214.2 L612.9,223.1 L613.8,215.4 L614.8,210.4 L615.6,210.4 L616.4,215.6 L617.3,219.3 L618.3,219.2 L619.4,214.8 L620.4,210.4 L621.4,213.6 L622.3,216.7 L623.2,218.0 L624.0,213.0 L624.9,213.0 L625.9,211.4 L627.0,211.4 L628.0,204.1 L629.0,205.7 L629.9,214.2 L630.9,212.4 L631.8,201.6 L632.6,201.6 L633.5,208.9 L634.3,211.7 L635.2,212.5 L636.0,215.4 L636.8,215.5 L637.7,216.8 L638.5,219.5 L639.4,219.3 L640.2,221.4 L641.1,219.3 L641.9,220.5 L642.7,219.3 L643.6,213.6 L644.4,213.0 L645.5,216.4 L646.5,213.0 L647.6,216.7 L648.6,216.7 L649.7,218.3 L650.7,220.5 L651.8,218.7 L652.8,218.5 L653.9,218.0 L654.9,214.4 L656.0,216.8 L657.0,211.7 L657.9,214.8 L658.7,215.9 L659.6,220.5 L660.4,220.8 L661.2,218.0 L662.1,218.0 L662.9,215.5 L663.8,216.9 L664.6,215.5 L665.6,216.7 L666.5,216.4 L667.5,217.1 L668.4,216.7 L669.2,216.7 L670.1,219.0 L670.9,219.3 L671.9,221.0 L672.8,220.5 L673.8,218.0 L674.7,218.0 L675.7,218.0 L676.6,219.9 L677.5,220.9 L678.5,221.8 L679.5,221.2 L680.6,220.5 L681.7,220.5 L682.7,220.0 L683.8,216.6 L684.8,215.5 L685.6,215.5 L686.5,215.6 L687.3,216.7 L688.3,219.6 L689.2,220.6 L690.2,221.0 L691.1,221.8 L692.0,219.7 L692.8,220.6 L693.6,219.3 L694.6,219.3 L695.5,220.6 L696.5,221.5 L697.4,220.5 L698.4,222.1 L699.3,220.5 L700.3,220.8 L701.2,221.8 L702.3,221.2 L703.4,219.3 L704.6,218.3 L705.7,218.2 L706.7,218.2 L707.8,218.2 L708.8,219.4 L709.8,218.0 L710.7,212.4 L711.7,211.8 L712.6,211.8 L713.7,213.7 L714.7,214.7 L715.8,219.4 L716.8,221.1 L717.9,223.0 L718.9,224.5 L719.9,222.7 L720.8,218.7 L721.8,219.5 L722.7,215.6 L723.6,220.5 L724.4,220.8 L725.2,224.5 L726.2,223.2 L727.1,222.6 L728.1,220.8 L729.0,220.7 L730.0,221.8 L730.9,220.9 L731.9,220.5 L732.8,219.4 L733.7,221.3 L734.5,223.3 L735.3,224.5 L736.3,224.2 L737.2,223.4 L738.2,221.9 L739.1,221.9 L740.1,220.1 L741.0,219.9 L742.0,220.1 L742.9,219.4 L743.9,221.2 L744.8,220.1 L745.8,222.2 L746.7,223.2 L747.6,222.6 L748.6,223.4 L749.5,222.8 L750.5,221.9 L751.4,222.0 L752.4,222.8 L753.3,223.5 L754.3,224.5 L755.1,222.2 L756.0,220.5 L756.8,218.2 L757.7,219.4 L758.7,220.4 L759.6,223.2 L760.6,224.5 L761.5,223.5 L762.5,223.0 L763.4,221.0 L764.4,220.7 L765.3,222.8 L766.3,222.3 L767.2,223.0 L768.2,224.5 L769.1,221.7 L770.0,215.6 L771.0,210.3 L771.9,206.8 L772.8,202.2 L773.6,199.2 L774.5,199.2 L775.3,201.7 L776.1,209.9 L777.0,210.6 L777.8,210.7 L778.7,208.1 L779.5,208.1 L780.4,201.7 L781.2,209.3 L782.0,201.7 L782.9,211.4 L783.7,214.4 L784.6,214.4 L785.4,217.6 L786.2,214.0 L787.1,213.1 L787.9,218.0 L788.8,216.4 L789.6,220.7 L790.5,220.7 L791.3,221.8 L792.1,220.7 L793.1,218.9 L794.0,218.4 L795.0,216.0 L795.9,214.4 L796.8,217.5 L797.6,218.8 L798.4,218.2 L799.3,218.0 L800.1,214.9 L801.0,211.8 L801.8,214.7 L802.7,220.1 L803.5,224.5 L804.3,220.9 L805.2,211.8 L806.0,208.1 L806.9,208.1 L807.7,210.8 L808.5,215.6 L809.8,165.1 L810.8,174.2 L811.7,200.5 L812.5,204.0 L813.4,186.3 L814.2,177.8 L815.2,202.3 L816.1,206.8 L817.1,192.2 L818.0,187.9 L818.9,197.9 L819.7,187.9 L820.5,194.2 L821.4,194.6 L822.2,176.5 L823.1,176.5 L824.0,188.9 L825.0,190.4 L826.0,204.0 L827.0,199.8 L828.1,204.5 L829.1,205.0 L830.0,190.1 L830.9,195.4 L831.8,183.2 L832.7,178.5 L833.6,174.1 L834.5,181.1 L835.5,180.4 L836.4,199.5 L837.3,196.2 L838.2,170.5 L839.1,170.5 L840.0,173.8 L840.9,175.9 L841.8,126.6 L842.7,105.0 L843.6,109.2 L844.5,170.5 L845.5,168.8 L846.4,139.5 L847.3,139.5 L848.2,154.0 L849.1,168.8 L850.0,186.8 L851.2,169.4 L852.4,103.2 L853.5,122.9 L854.5,179.5 L855.5,120.7 L856.4,114.1 L857.3,148.2 L858.2,165.0 L859.1,115.9 L860.0,144.1 L860.9,148.6 L861.8,94.6 L862.7,139.7 L863.6,86.8 L864.5,133.4 L865.5,139.1 L866.4,110.5 L867.3,46.8 L868.4,35.9 L869.5,35.9 L870.6,46.6 L871.8,112.3 L872.7,105.3 L873.6,77.7 L874.5,77.7 L875.5,154.4 L876.4,159.5 L877.3,119.9 L878.2,99.5 L879.3,95.9 L880.4,79.6 L881.5,72.3 L882.5,113.5 L883.6,135.9 L884.7,123.4 L885.8,95.9 L887.0,152.3 L888.2,174.1 L889.1,177.1 L890.0,135.9 L890.9,155.6 L891.8,168.6 L892.7,164.4 L893.6,134.1 L894.5,145.0 L895.5,175.9 L896.4,151.7 L897.3,143.2 L898.2,143.2 L899.1,133.4 L900.0,137.5 L900.9,105.0 L901.8,126.9 L902.7,132.5 L903.6,145.0 L904.5,145.2 L905.5,145.0 L906.4,182.9 L907.3,173.4 L908.2,179.5 L909.1,150.0 L910.0,119.5 L910.9,122.4 L911.8,132.4 L912.7,168.6 L913.9,119.6 L915.0,105.0 L916.4,103.2 L916.8,103.2 L917.7,137.7 L918.6,145.8 L919.5,166.8 L920.5,166.8 L921.4,170.5 L922.3,153.9 L923.2,152.3 L924.1,99.9 L925.0,97.7 L926.3,194.1 L927.2,164.9 L928.1,150.5 L929.0,162.4 L929.9,188.6 L931.1,175.7 L932.3,141.4 L933.2,147.5 L934.1,188.6 L935.0,176.5 L935.9,155.9 L936.8,173.9 L937.7,199.5 L938.6,179.3 L939.5,175.9 L940.5,177.6 L941.4,194.9 L942.3,215.9 L943.2,207.7 L944.1,181.4 L945.0,193.9 L945.9,200.8 L946.8,205.0 L947.7,196.4 L948.6,183.2 L949.5,198.1 L950.5,194.2 L951.4,201.4 L952.3,198.1 L953.2,172.3 L954.1,194.4 L955.0,206.8 L955.9,193.2 L956.8,189.6 L957.7,188.6 L958.6,198.4 L959.5,206.8 L960.5,209.2 L961.4,195.9 L962.3,195.9 L963.2,197.3 L964.1,209.6 L965.0,210.5 L965.9,205.2 L966.8,191.7 L967.7,186.8 L968.6,197.3 L969.5,214.1 L970.5,212.4 L971.4,201.4 L972.3,201.4 L973.2,207.5 L974.1,211.5 L975.0,212.3 L975.9,200.2 L976.8,204.3 L977.7,190.5 L978.6,195.0 L979.5,210.2 L980.5,214.1 L981.4,210.8 L982.3,211.7 L983.2,206.8 L984.1,210.6 L985.0,207.6 L985.9,214.1 L986.8,211.4 L987.7,208.8 L988.6,205.0 L989.5,200.7 L990.5,204.0 L991.4,197.7 L991.4,225 L582.6,225 Z" fill="#c3dcf7" stroke="none" />
<path d="M582.6,223.1 L583.5,222.5 L584.5,220.5 L585.5,219.5 L586.6,219.3 L587.6,219.3 L588.9,221.8 L589.8,215.0 L590.8,207.9 L591.7,216.4 L592.7,220.5 L593.5,217.6 L594.4,215.5 L595.2,215.5 L596.0,217.9 L596.9,220.5 L597.7,223.1 L598.8,220.3 L599.8,218.8 L600.9,211.7 L601.7,215.2 L602.6,216.3 L603.4,219.3 L604.2,220.4 L605.1,216.7 L605.9,216.7 L607.0,220.0 L608.0,221.7 L609.1,223.1 L609.9,221.7 L610.8,214.4 L611.6,214.2 L612.9,223.1 L613.8,215.4 L614.8,210.4 L615.6,210.4 L616.4,215.6 L617.3,219.3 L618.3,219.2 L619.4,214.8 L620.4,210.4 L621.4,213.6 L622.3,216.7 L623.2,218.0 L624.0,213.0 L624.9,213.0 L625.9,211.4 L627.0,211.4 L628.0,204.1 L629.0,205.7 L629.9,214.2 L630.9,212.4 L631.8,201.6 L632.6,201.6 L633.5,208.9 L634.3,211.7 L635.2,212.5 L636.0,215.4 L636.8,215.5 L637.7,216.8 L638.5,219.5 L639.4,219.3 L640.2,221.4 L641.1,219.3 L641.9,220.5 L642.7,219.3 L643.6,213.6 L644.4,213.0 L645.5,216.4 L646.5,213.0 L647.6,216.7 L648.6,216.7 L649.7,218.3 L650.7,220.5 L651.8,218.7 L652.8,218.5 L653.9,218.0 L654.9,214.4 L656.0,216.8 L657.0,211.7 L657.9,214.8 L658.7,215.9 L659.6,220.5 L660.4,220.8 L661.2,218.0 L662.1,218.0 L662.9,215.5 L663.8,216.9 L664.6,215.5 L665.6,216.7 L666.5,216.4 L667.5,217.1 L668.4,216.7 L669.2,216.7 L670.1,219.0 L670.9,219.3 L671.9,221.0 L672.8,220.5 L673.8,218.0 L674.7,218.0 L675.7,218.0 L676.6,219.9 L677.5,220.9 L678.5,221.8 L679.5,221.2 L680.6,220.5 L681.7,220.5 L682.7,220.0 L683.8,216.6 L684.8,215.5 L685.6,215.5 L686.5,215.6 L687.3,216.7 L688.3,219.6 L689.2,220.6 L690.2,221.0 L691.1,221.8 L692.0,219.7 L692.8,220.6 L693.6,219.3 L694.6,219.3 L695.5,220.6 L696.5,221.5 L697.4,220.5 L698.4,222.1 L699.3,220.5 L700.3,220.8 L701.2,221.8 L702.3,221.2 L703.4,219.3 L704.6,218.3 L705.7,218.2 L706.7,218.2 L707.8,218.2 L708.8,219.4 L709.8,218.0 L710.7,212.4 L711.7,211.8 L712.6,211.8 L713.7,213.7 L714.7,214.7 L715.8,219.4 L716.8,221.1 L717.9,223.0 L718.9,224.5 L719.9,222.7 L720.8,218.7 L721.8,219.5 L722.7,215.6 L723.6,220.5 L724.4,220.8 L725.2,224.5 L726.2,223.2 L727.1,222.6 L728.1,220.8 L729.0,220.7 L730.0,221.8 L730.9,220.9 L731.9,220.5 L732.8,219.4 L733.7,221.3 L734.5,223.3 L735.3,224.5 L736.3,224.2 L737.2,223.4 L738.2,221.9 L739.1,221.9 L740.1,220.1 L741.0,219.9 L742.0,220.1 L742.9,219.4 L743.9,221.2 L744.8,220.1 L745.8,222.2 L746.7,223.2 L747.6,222.6 L748.6,223.4 L749.5,222.8 L750.5,221.9 L751.4,222.0 L752.4,222.8 L753.3,223.5 L754.3,224.5 L755.1,222.2 L756.0,220.5 L756.8,218.2 L757.7,219.4 L758.7,220.4 L759.6,223.2 L760.6,224.5 L761.5,223.5 L762.5,223.0 L763.4,221.0 L764.4,220.7 L765.3,222.8 L766.3,222.3 L767.2,223.0 L768.2,224.5 L769.1,221.7 L770.0,215.6 L771.0,210.3 L771.9,206.8 L772.8,202.2 L773.6,199.2 L774.5,199.2 L775.3,201.7 L776.1,209.9 L777.0,210.6 L777.8,210.7 L778.7,208.1 L779.5,208.1 L780.4,201.7 L781.2,209.3 L782.0,201.7 L782.9,211.4 L783.7,214.4 L784.6,214.4 L785.4,217.6 L786.2,214.0 L787.1,213.1 L787.9,218.0 L788.8,216.4 L789.6,220.7 L790.5,220.7 L791.3,221.8 L792.1,220.7 L793.1,218.9 L794.0,218.4 L795.0,216.0 L795.9,214.4 L796.8,217.5 L797.6,218.8 L798.4,218.2 L799.3,218.0 L800.1,214.9 L801.0,211.8 L801.8,214.7 L802.7,220.1 L803.5,224.5 L804.3,220.9 L805.2,211.8 L806.0,208.1 L806.9,208.1 L807.7,210.8 L808.5,215.6 L809.8,165.1 L810.8,174.2 L811.7,200.5 L812.5,204.0 L813.4,186.3 L814.2,177.8 L815.2,202.3 L816.1,206.8 L817.1,192.2 L818.0,187.9 L818.9,197.9 L819.7,187.9 L820.5,194.2 L821.4,194.6 L822.2,176.5 L823.1,176.5 L824.0,188.9 L825.0,190.4 L826.0,204.0 L827.0,199.8 L828.1,204.5 L829.1,205.0 L830.0,190.1 L830.9,195.4 L831.8,183.2 L832.7,178.5 L833.6,174.1 L834.5,181.1 L835.5,180.4 L836.4,199.5 L837.3,196.2 L838.2,170.5 L839.1,170.5 L840.0,173.8 L840.9,175.9 L841.8,126.6 L842.7,105.0 L843.6,109.2 L844.5,170.5 L845.5,168.8 L846.4,139.5 L847.3,139.5 L848.2,154.0 L849.1,168.8 L850.0,186.8 L851.2,169.4 L852.4,103.2 L853.5,122.9 L854.5,179.5 L855.5,120.7 L856.4,114.1 L857.3,148.2 L858.2,165.0 L859.1,115.9 L860.0,144.1 L860.9,148.6 L861.8,94.6 L862.7,139.7 L863.6,86.8 L864.5,133.4 L865.5,139.1 L866.4,110.5 L867.3,46.8 L868.4,35.9 L869.5,35.9 L870.6,46.6 L871.8,112.3 L872.7,105.3 L873.6,77.7 L874.5,77.7 L875.5,154.4 L876.4,159.5 L877.3,119.9 L878.2,99.5 L879.3,95.9 L880.4,79.6 L881.5,72.3 L882.5,113.5 L883.6,135.9 L884.7,123.4 L885.8,95.9 L887.0,152.3 L888.2,174.1 L889.1,177.1 L890.0,135.9 L890.9,155.6 L891.8,168.6 L892.7,164.4 L893.6,134.1 L894.5,145.0 L895.5,175.9 L896.4,151.7 L897.3,143.2 L898.2,143.2 L899.1,133.4 L900.0,137.5 L900.9,105.0 L901.8,126.9 L902.7,132.5 L903.6,145.0 L904.5,145.2 L905.5,145.0 L906.4,182.9 L907.3,173.4 L908.2,179.5 L909.1,150.0 L910.0,119.5 L910.9,122.4 L911.8,132.4 L912.7,168.6 L913.9,119.6 L915.0,105.0 L916.4,103.2 L916.8,103.2 L917.7,137.7 L918.6,145.8 L919.5,166.8 L920.5,166.8 L921.4,170.5 L922.3,153.9 L923.2,152.3 L924.1,99.9 L925.0,97.7 L926.3,194.1 L927.2,164.9 L928.1,150.5 L929.0,162.4 L929.9,188.6 L931.1,175.7 L932.3,141.4 L933.2,147.5 L934.1,188.6 L935.0,176.5 L935.9,155.9 L936.8,173.9 L937.7,199.5 L938.6,179.3 L939.5,175.9 L940.5,177.6 L941.4,194.9 L942.3,215.9 L943.2,207.7 L944.1,181.4 L945.0,193.9 L945.9,200.8 L946.8,205.0 L947.7,196.4 L948.6,183.2 L949.5,198.1 L950.5,194.2 L951.4,201.4 L952.3,198.1 L953.2,172.3 L954.1,194.4 L955.0,206.8 L955.9,193.2 L956.8,189.6 L957.7,188.6 L958.6,198.4 L959.5,206.8 L960.5,209.2 L961.4,195.9 L962.3,195.9 L963.2,197.3 L964.1,209.6 L965.0,210.5 L965.9,205.2 L966.8,191.7 L967.7,186.8 L968.6,197.3 L969.5,214.1 L970.5,212.4 L971.4,201.4 L972.3,201.4 L973.2,207.5 L974.1,211.5 L975.0,212.3 L975.9,200.2 L976.8,204.3 L977.7,190.5 L978.6,195.0 L979.5,210.2 L980.5,214.1 L981.4,210.8 L982.3,211.7 L983.2,206.8 L984.1,210.6 L985.0,207.6 L985.9,214.1 L986.8,211.4 L987.7,208.8 L988.6,205.0 L989.5,200.7 L990.5,204.0 L991.4,197.7" fill="none" stroke="#5a9ae6" stroke-width="1" stroke-linejoin="round"/>
<line x1="582.5" y1="144.6" x2="984" y2="144.6" stroke="#4a8fe7" stroke-width="1" stroke-dasharray="3.5 3.4"/>
<circle cx="582.5" cy="144.6" r="3.5" fill="#4a8fe7"/>
<path d="M979,140.6 L992,144.6 L979,148.6 L982,144.6 Z" fill="#4a8fe7"/>
<text x="993" y="148.3" style="fill:#4a8fe7">0.1</text>
<line x1="582.5" y1="184.8" x2="984" y2="184.8" stroke="#4a8fe7" stroke-width="1" stroke-dasharray="3.5 3.4"/>
<circle cx="582.5" cy="184.8" r="3.5" fill="#4a8fe7"/>
<path d="M979,180.8 L992,184.8 L979,188.8 L982,184.8 Z" fill="#4a8fe7"/>
<text x="993" y="188.5" style="fill:#4a8fe7">0.05</text>
<line x1="582.5" y1="217.0" x2="984" y2="217.0" stroke="#4a8fe7" stroke-width="1" stroke-dasharray="3.5 3.4"/>
<circle cx="582.5" cy="217.0" r="3.5" fill="#4a8fe7"/>
<path d="M979,212.96 L992,216.96 L979,220.96 L982,216.96 Z" fill="#4a8fe7"/>
<text x="993" y="220.7" style="fill:#4a8fe7">0.01</text>
<line x1="582.5" y1="24" x2="582.5" y2="226" stroke="#4a4a4a" stroke-width="1"/>
<line x1="578" y1="225.5" x2="582.5" y2="225.5" stroke="#4a4a4a" stroke-width="1"/>
<text x="575.2" y="228.7" text-anchor="end">0</text>
<line x1="578" y1="184.5" x2="582.5" y2="184.5" stroke="#4a4a4a" stroke-width="1"/>
<text x="575.2" y="188.5" text-anchor="end">0.05</text>
<line x1="578" y1="144.5" x2="582.5" y2="144.5" stroke="#4a4a4a" stroke-width="1"/>
<text x="575.2" y="148.3" text-anchor="end">0.1</text>
<line x1="578" y1="104.5" x2="582.5" y2="104.5" stroke="#4a4a4a" stroke-width="1"/>
<text x="575.2" y="108.1" text-anchor="end">0.15</text>
<line x1="578" y1="64.5" x2="582.5" y2="64.5" stroke="#4a4a4a" stroke-width="1"/>
<text x="575.2" y="67.9" text-anchor="end">0.2</text>
<line x1="578" y1="24.5" x2="582.5" y2="24.5" stroke="#4a4a4a" stroke-width="1"/>
<text x="575.2" y="27.7" text-anchor="end">0.25</text>
<line x1="582" y1="225.5" x2="993" y2="225.5" stroke="#4a4a4a" stroke-width="1"/>
<line x1="582.5" y1="225" x2="582.5" y2="229" stroke="#4a4a4a" stroke-width="1"/>
<text x="582.5" y="240.0" text-anchor="middle">20200901</text>
<line x1="645.5" y1="225" x2="645.5" y2="229" stroke="#4a4a4a" stroke-width="1"/>
<text x="645.4" y="240.0" text-anchor="middle">20201029</text>
<line x1="708.5" y1="225" x2="708.5" y2="229" stroke="#4a4a4a" stroke-width="1"/>
<text x="708.3" y="240.0" text-anchor="middle">20201226</text>
<line x1="771.5" y1="225" x2="771.5" y2="229" stroke="#4a4a4a" stroke-width="1"/>
<text x="771.2" y="240.0" text-anchor="middle">20210222</text>
<line x1="833.5" y1="225" x2="833.5" y2="229" stroke="#4a4a4a" stroke-width="1"/>
<text x="834.1" y="240.0" text-anchor="middle">20210421</text>
<line x1="896.5" y1="225" x2="896.5" y2="229" stroke="#4a4a4a" stroke-width="1"/>
<text x="897.1" y="240.0" text-anchor="middle">20210618</text>
<line x1="959.5" y1="225" x2="959.5" y2="229" stroke="#4a4a4a" stroke-width="1"/>
<text x="960.0" y="240.0" text-anchor="middle">20210815</text>
<line x1="992.5" y1="225" x2="992.5" y2="229" stroke="#4a4a4a" stroke-width="1"/>
<path d="M55.5,463.6 L56.4,460.4 L57.3,458.8 L58.2,458.2 L59.1,452.4 L60.0,447.3 L60.9,446.0 L61.8,443.6 L62.7,434.4 L63.6,427.3 L64.5,434.6 L65.5,443.4 L66.4,452.7 L67.3,441.2 L68.2,428.2 L69.1,433.0 L70.0,440.0 L70.9,441.9 L71.8,442.9 L72.7,443.6 L73.6,443.5 L74.5,445.5 L75.5,423.6 L76.4,426.2 L77.3,428.3 L78.2,430.9 L79.1,432.5 L80.0,434.5 L81.3,449.1 L82.2,442.4 L83.1,432.7 L83.9,438.2 L84.7,444.6 L85.5,452.7 L86.5,455.0 L87.6,454.5 L88.4,448.8 L89.2,442.7 L90.0,438.2 L90.9,431.6 L91.8,425.7 L92.7,420.0 L93.6,415.3 L94.5,407.0 L95.5,401.8 L96.4,409.2 L97.3,418.2 L98.2,413.0 L99.1,407.3 L100.0,410.1 L100.9,412.7 L101.8,409.5 L102.7,403.6 L103.6,397.4 L104.5,389.1 L105.5,372.7 L106.4,378.7 L107.3,385.5 L108.2,378.5 L109.1,374.3 L110.0,367.3 L110.9,380.6 L111.8,390.9 L112.7,379.8 L113.6,372.2 L114.5,361.8 L115.5,359.3 L116.4,355.0 L117.3,350.9 L118.0,329.2 L118.7,309.1 L120.0,400.0 L120.9,350.9 L121.8,364.5 L122.7,376.4 L123.6,380.7 L124.5,383.6 L125.5,388.2 L126.4,394.5 L127.1,410.4 L127.8,425.5 L128.9,409.2 L130.0,394.5 L130.9,397.7 L131.8,403.6 L132.7,385.0 L133.6,367.3 L134.5,392.2 L135.5,418.2 L136.4,406.1 L137.3,394.5 L138.2,402.3 L139.1,410.1 L140.0,417.7 L140.9,423.6 L141.8,428.7 L142.7,430.9 L143.6,430.6 L144.5,428.1 L145.5,425.5 L146.4,424.3 L147.3,423.3 L148.2,423.6 L149.1,426.2 L150.0,428.0 L151.1,423.8 L152.2,419.3 L153.1,423.4 L154.0,425.3 L154.9,430.2 L155.8,426.7 L156.7,426.4 L157.6,422.5 L158.5,421.0 L159.5,419.5 L160.4,417.1 L161.2,421.3 L162.0,428.0 L162.8,423.3 L163.6,419.3 L164.5,426.0 L165.3,430.2 L166.1,426.8 L166.9,422.5 L167.8,424.4 L168.7,422.4 L169.6,423.6 L170.7,423.5 L171.8,423.6 L172.9,432.4 L173.7,434.6 L174.5,434.9 L175.4,437.3 L176.2,437.8 L177.3,439.1 L178.4,440.0 L179.3,435.9 L180.2,433.0 L181.1,431.3 L181.9,437.1 L182.7,440.0 L183.8,432.3 L184.9,426.9 L185.7,430.4 L186.5,435.6 L187.5,428.6 L188.4,423.2 L189.3,416.0 L190.4,422.5 L191.5,426.9 L192.5,438.9 L193.4,435.0 L194.2,431.3 L195.0,430.7 L195.8,430.2 L196.9,437.6 L198.0,443.3 L199.1,442.1 L200.2,442.2 L201.3,445.1 L202.4,448.7 L203.5,445.8 L204.5,442.2 L205.6,443.7 L206.7,444.4 L207.6,440.8 L208.5,438.8 L209.5,437.8 L210.4,432.4 L211.3,429.8 L212.2,424.7 L213.3,429.1 L214.4,432.4 L215.5,434.9 L216.5,434.5 L217.6,431.0 L218.7,425.8 L219.8,421.8 L220.9,419.3 L221.7,432.1 L222.5,443.3 L223.4,452.4 L224.2,458.5 L225.3,451.5 L226.4,445.5 L227.2,443.4 L228.0,444.4 L229.1,442.4 L230.2,441.1 L231.0,450.3 L231.8,460.7 L232.9,454.8 L234.0,450.9 L235.1,461.8 L236.2,451.2 L237.3,443.3 L238.4,437.2 L239.5,433.5 L240.5,437.3 L241.6,438.9 L242.5,441.4 L243.3,446.5 L244.1,431.1 L244.9,414.9 L245.8,409.5 L247.1,429.1 L247.9,425.5 L248.7,423.6 L250.0,411.6 L250.8,411.3 L251.6,412.7 L252.5,423.1 L253.5,431.0 L254.4,441.1 L255.5,445.0 L256.5,450.9 L257.6,456.8 L258.7,462.9 L259.8,458.6 L260.9,453.1 L262.0,449.3 L263.1,445.5 L264.2,446.5 L265.3,445.5 L266.2,446.2 L267.2,447.7 L268.1,449.4 L269.1,449.8 L270.0,450.4 L270.9,451.9 L271.8,452.0 L272.9,442.2 L274.0,447.6 L275.1,462.8 L276.2,478.2 L277.0,476.0 L277.8,476.0 L278.7,471.6 L279.6,470.3 L280.5,466.2 L281.4,470.2 L282.2,472.7 L283.1,474.4 L284.0,474.0 L284.9,473.8 L285.8,475.9 L286.7,476.4 L287.6,479.3 L288.5,478.1 L289.5,473.8 L290.4,472.7 L291.2,473.3 L292.0,473.3 L292.8,474.8 L293.6,476.0 L294.5,472.5 L295.5,470.0 L296.4,467.3 L297.5,468.4 L298.5,468.4 L299.6,471.2 L300.7,473.8 L301.5,470.0 L302.4,468.7 L303.2,465.5 L304.0,461.8 L304.8,468.3 L305.6,472.7 L306.5,473.5 L307.5,477.4 L308.4,479.3 L309.2,477.7 L310.0,473.8 L310.9,474.9 L311.8,476.6 L312.7,479.3 L313.6,476.2 L314.5,470.9 L315.5,467.3 L316.5,476.0 L317.4,471.1 L318.2,467.7 L319.0,461.7 L319.8,457.5 L320.7,458.7 L321.6,461.0 L322.5,464.0 L323.5,467.6 L324.5,472.8 L325.4,475.9 L326.4,480.4 L327.5,476.8 L328.5,471.6 L329.6,463.2 L330.7,457.5 L331.6,454.9 L332.5,454.2 L333.5,452.0 L334.5,463.9 L335.6,476.0 L336.5,473.8 L337.3,471.6 L338.1,471.3 L338.9,467.7 L339.7,465.8 L340.5,465.1 L341.6,467.0 L342.7,471.6 L343.8,469.9 L344.9,468.4 L345.8,469.2 L346.7,471.2 L347.6,472.7 L348.4,469.4 L349.2,467.6 L350.0,467.3 L351.0,465.0 L352.0,464.2 L352.9,461.6 L353.8,459.5 L354.7,459.9 L355.5,457.4 L356.4,455.7 L357.2,456.6 L358.0,458.9 L358.7,459.2 L359.7,461.5 L360.7,465.8 L361.7,468.5 L362.5,467.0 L363.4,463.4 L364.3,460.1 L365.1,458.1 L366.0,458.0 L366.9,460.4 L367.8,465.3 L368.6,469.7 L369.5,467.6 L370.4,467.4 L371.3,471.1 L372.1,475.5 L372.9,476.1 L373.7,477.6 L374.5,476.7 L375.3,475.5 L376.2,473.3 L377.1,472.5 L378.0,469.7 L378.7,468.0 L379.5,467.0 L380.3,466.2 L381.3,469.1 L382.2,471.0 L383.2,473.2 L384.0,472.4 L384.8,472.9 L385.5,473.2 L386.4,468.9 L387.3,462.7 L388.2,466.6 L389.0,472.0 L390.0,474.2 L391.0,473.8 L391.9,476.7 L392.6,460.6 L393.3,441.7 L394.4,446.4 L395.4,449.9 L396.3,452.3 L397.2,455.7 L398.1,465.9 L398.9,473.2 L399.7,469.8 L400.5,463.3 L401.3,460.4 L402.1,465.5 L403.0,472.0 L403.8,459.6 L404.6,448.7 L405.3,434.8 L406.3,436.8 L407.3,439.6 L408.3,444.1 L409.0,440.0 L409.8,435.7 L410.6,433.6 L411.6,444.6 L412.5,456.2 L413.5,467.4 L414.3,464.9 L415.1,461.6 L415.9,459.0 L416.8,459.0 L417.6,455.7 L418.4,457.9 L419.1,460.3 L419.9,462.7 L420.8,462.9 L421.7,463.9 L422.5,464.8 L423.4,463.9 L424.3,464.3 L425.1,463.4 L426.0,461.7 L426.9,461.6 L427.7,459.4 L428.4,458.0 L429.2,458.1 L430.1,461.2 L431.0,460.8 L431.8,464.4 L432.7,466.2 L433.7,468.4 L434.6,467.5 L435.5,468.7 L436.4,469.7 L437.4,470.9 L438.3,467.6 L439.1,461.6 L440.0,464.1 L440.9,466.7 L441.8,466.3 L442.6,469.7 L443.5,465.7 L444.4,460.4 L445.2,459.1 L446.1,457.8 L447.0,457.8 L447.9,455.7 L448.8,458.8 L449.8,461.6 L450.8,462.7 L451.6,462.7 L452.4,462.6 L453.2,460.4 L454.0,460.1 L454.9,459.2 L455.7,461.2 L456.5,461.4 L457.3,461.6 L458.1,464.1 L458.9,465.1 L459.9,462.7 L460.9,459.2 L461.8,454.6 L463.0,440.6 L463.9,447.0 L464.8,455.7 L464.8,506 L55.5,506 Z" fill="#bad6b3" stroke="none" />
<path d="M55.5,463.6 L56.4,460.4 L57.3,458.8 L58.2,458.2 L59.1,452.4 L60.0,447.3 L60.9,446.0 L61.8,443.6 L62.7,434.4 L63.6,427.3 L64.5,434.6 L65.5,443.4 L66.4,452.7 L67.3,441.2 L68.2,428.2 L69.1,433.0 L70.0,440.0 L70.9,441.9 L71.8,442.9 L72.7,443.6 L73.6,443.5 L74.5,445.5 L75.5,423.6 L76.4,426.2 L77.3,428.3 L78.2,430.9 L79.1,432.5 L80.0,434.5 L81.3,449.1 L82.2,442.4 L83.1,432.7 L83.9,438.2 L84.7,444.6 L85.5,452.7 L86.5,455.0 L87.6,454.5 L88.4,448.8 L89.2,442.7 L90.0,438.2 L90.9,431.6 L91.8,425.7 L92.7,420.0 L93.6,415.3 L94.5,407.0 L95.5,401.8 L96.4,409.2 L97.3,418.2 L98.2,413.0 L99.1,407.3 L100.0,410.1 L100.9,412.7 L101.8,409.5 L102.7,403.6 L103.6,397.4 L104.5,389.1 L105.5,372.7 L106.4,378.7 L107.3,385.5 L108.2,378.5 L109.1,374.3 L110.0,367.3 L110.9,380.6 L111.8,390.9 L112.7,379.8 L113.6,372.2 L114.5,361.8 L115.5,359.3 L116.4,355.0 L117.3,350.9 L118.0,329.2 L118.7,309.1 L120.0,400.0 L120.9,350.9 L121.8,364.5 L122.7,376.4 L123.6,380.7 L124.5,383.6 L125.5,388.2 L126.4,394.5 L127.1,410.4 L127.8,425.5 L128.9,409.2 L130.0,394.5 L130.9,397.7 L131.8,403.6 L132.7,385.0 L133.6,367.3 L134.5,392.2 L135.5,418.2 L136.4,406.1 L137.3,394.5 L138.2,402.3 L139.1,410.1 L140.0,417.7 L140.9,423.6 L141.8,428.7 L142.7,430.9 L143.6,430.6 L144.5,428.1 L145.5,425.5 L146.4,424.3 L147.3,423.3 L148.2,423.6 L149.1,426.2 L150.0,428.0 L151.1,423.8 L152.2,419.3 L153.1,423.4 L154.0,425.3 L154.9,430.2 L155.8,426.7 L156.7,426.4 L157.6,422.5 L158.5,421.0 L159.5,419.5 L160.4,417.1 L161.2,421.3 L162.0,428.0 L162.8,423.3 L163.6,419.3 L164.5,426.0 L165.3,430.2 L166.1,426.8 L166.9,422.5 L167.8,424.4 L168.7,422.4 L169.6,423.6 L170.7,423.5 L171.8,423.6 L172.9,432.4 L173.7,434.6 L174.5,434.9 L175.4,437.3 L176.2,437.8 L177.3,439.1 L178.4,440.0 L179.3,435.9 L180.2,433.0 L181.1,431.3 L181.9,437.1 L182.7,440.0 L183.8,432.3 L184.9,426.9 L185.7,430.4 L186.5,435.6 L187.5,428.6 L188.4,423.2 L189.3,416.0 L190.4,422.5 L191.5,426.9 L192.5,438.9 L193.4,435.0 L194.2,431.3 L195.0,430.7 L195.8,430.2 L196.9,437.6 L198.0,443.3 L199.1,442.1 L200.2,442.2 L201.3,445.1 L202.4,448.7 L203.5,445.8 L204.5,442.2 L205.6,443.7 L206.7,444.4 L207.6,440.8 L208.5,438.8 L209.5,437.8 L210.4,432.4 L211.3,429.8 L212.2,424.7 L213.3,429.1 L214.4,432.4 L215.5,434.9 L216.5,434.5 L217.6,431.0 L218.7,425.8 L219.8,421.8 L220.9,419.3 L221.7,432.1 L222.5,443.3 L223.4,452.4 L224.2,458.5 L225.3,451.5 L226.4,445.5 L227.2,443.4 L228.0,444.4 L229.1,442.4 L230.2,441.1 L231.0,450.3 L231.8,460.7 L232.9,454.8 L234.0,450.9 L235.1,461.8 L236.2,451.2 L237.3,443.3 L238.4,437.2 L239.5,433.5 L240.5,437.3 L241.6,438.9 L242.5,441.4 L243.3,446.5 L244.1,431.1 L244.9,414.9 L245.8,409.5 L247.1,429.1 L247.9,425.5 L248.7,423.6 L250.0,411.6 L250.8,411.3 L251.6,412.7 L252.5,423.1 L253.5,431.0 L254.4,441.1 L255.5,445.0 L256.5,450.9 L257.6,456.8 L258.7,462.9 L259.8,458.6 L260.9,453.1 L262.0,449.3 L263.1,445.5 L264.2,446.5 L265.3,445.5 L266.2,446.2 L267.2,447.7 L268.1,449.4 L269.1,449.8 L270.0,450.4 L270.9,451.9 L271.8,452.0 L272.9,442.2 L274.0,447.6 L275.1,462.8 L276.2,478.2 L277.0,476.0 L277.8,476.0 L278.7,471.6 L279.6,470.3 L280.5,466.2 L281.4,470.2 L282.2,472.7 L283.1,474.4 L284.0,474.0 L284.9,473.8 L285.8,475.9 L286.7,476.4 L287.6,479.3 L288.5,478.1 L289.5,473.8 L290.4,472.7 L291.2,473.3 L292.0,473.3 L292.8,474.8 L293.6,476.0 L294.5,472.5 L295.5,470.0 L296.4,467.3 L297.5,468.4 L298.5,468.4 L299.6,471.2 L300.7,473.8 L301.5,470.0 L302.4,468.7 L303.2,465.5 L304.0,461.8 L304.8,468.3 L305.6,472.7 L306.5,473.5 L307.5,477.4 L308.4,479.3 L309.2,477.7 L310.0,473.8 L310.9,474.9 L311.8,476.6 L312.7,479.3 L313.6,476.2 L314.5,470.9 L315.5,467.3 L316.5,476.0 L317.4,471.1 L318.2,467.7 L319.0,461.7 L319.8,457.5 L320.7,458.7 L321.6,461.0 L322.5,464.0 L323.5,467.6 L324.5,472.8 L325.4,475.9 L326.4,480.4 L327.5,476.8 L328.5,471.6 L329.6,463.2 L330.7,457.5 L331.6,454.9 L332.5,454.2 L333.5,452.0 L334.5,463.9 L335.6,476.0 L336.5,473.8 L337.3,471.6 L338.1,471.3 L338.9,467.7 L339.7,465.8 L340.5,465.1 L341.6,467.0 L342.7,471.6 L343.8,469.9 L344.9,468.4 L345.8,469.2 L346.7,471.2 L347.6,472.7 L348.4,469.4 L349.2,467.6 L350.0,467.3 L351.0,465.0 L352.0,464.2 L352.9,461.6 L353.8,459.5 L354.7,459.9 L355.5,457.4 L356.4,455.7 L357.2,456.6 L358.0,458.9 L358.7,459.2 L359.7,461.5 L360.7,465.8 L361.7,468.5 L362.5,467.0 L363.4,463.4 L364.3,460.1 L365.1,458.1 L366.0,458.0 L366.9,460.4 L367.8,465.3 L368.6,469.7 L369.5,467.6 L370.4,467.4 L371.3,471.1 L372.1,475.5 L372.9,476.1 L373.7,477.6 L374.5,476.7 L375.3,475.5 L376.2,473.3 L377.1,472.5 L378.0,469.7 L378.7,468.0 L379.5,467.0 L380.3,466.2 L381.3,469.1 L382.2,471.0 L383.2,473.2 L384.0,472.4 L384.8,472.9 L385.5,473.2 L386.4,468.9 L387.3,462.7 L388.2,466.6 L389.0,472.0 L390.0,474.2 L391.0,473.8 L391.9,476.7 L392.6,460.6 L393.3,441.7 L394.4,446.4 L395.4,449.9 L396.3,452.3 L397.2,455.7 L398.1,465.9 L398.9,473.2 L399.7,469.8 L400.5,463.3 L401.3,460.4 L402.1,465.5 L403.0,472.0 L403.8,459.6 L404.6,448.7 L405.3,434.8 L406.3,436.8 L407.3,439.6 L408.3,444.1 L409.0,440.0 L409.8,435.7 L410.6,433.6 L411.6,444.6 L412.5,456.2 L413.5,467.4 L414.3,464.9 L415.1,461.6 L415.9,459.0 L416.8,459.0 L417.6,455.7 L418.4,457.9 L419.1,460.3 L419.9,462.7 L420.8,462.9 L421.7,463.9 L422.5,464.8 L423.4,463.9 L424.3,464.3 L425.1,463.4 L426.0,461.7 L426.9,461.6 L427.7,459.4 L428.4,458.0 L429.2,458.1 L430.1,461.2 L431.0,460.8 L431.8,464.4 L432.7,466.2 L433.7,468.4 L434.6,467.5 L435.5,468.7 L436.4,469.7 L437.4,470.9 L438.3,467.6 L439.1,461.6 L440.0,464.1 L440.9,466.7 L441.8,466.3 L442.6,469.7 L443.5,465.7 L444.4,460.4 L445.2,459.1 L446.1,457.8 L447.0,457.8 L447.9,455.7 L448.8,458.8 L449.8,461.6 L450.8,462.7 L451.6,462.7 L452.4,462.6 L453.2,460.4 L454.0,460.1 L454.9,459.2 L455.7,461.2 L456.5,461.4 L457.3,461.6 L458.1,464.1 L458.9,465.1 L459.9,462.7 L460.9,459.2 L461.8,454.6 L463.0,440.6 L463.9,447.0 L464.8,455.7" fill="none" stroke="#3a8030" stroke-width="1.3" stroke-linejoin="round"/>
<line x1="55.5" y1="305" x2="55.5" y2="507" stroke="#4a4a4a" stroke-width="1"/>
<line x1="51" y1="506.5" x2="55.5" y2="506.5" stroke="#4a4a4a" stroke-width="1"/>
<text x="48.2" y="509.7" text-anchor="end">0</text>
<line x1="51" y1="465.5" x2="55.5" y2="465.5" stroke="#4a4a4a" stroke-width="1"/>
<text x="48.2" y="469.5" text-anchor="end">10,000</text>
<line x1="51" y1="425.5" x2="55.5" y2="425.5" stroke="#4a4a4a" stroke-width="1"/>
<text x="48.2" y="429.3" text-anchor="end">20,000</text>
<line x1="51" y1="385.5" x2="55.5" y2="385.5" stroke="#4a4a4a" stroke-width="1"/>
<text x="48.2" y="389.1" text-anchor="end">30,000</text>
<line x1="51" y1="345.5" x2="55.5" y2="345.5" stroke="#4a4a4a" stroke-width="1"/>
<text x="48.2" y="348.9" text-anchor="end">40,000</text>
<line x1="51" y1="305.5" x2="55.5" y2="305.5" stroke="#4a4a4a" stroke-width="1"/>
<text x="48.2" y="308.7" text-anchor="end">50,000</text>
<line x1="55" y1="506.5" x2="466" y2="506.5" stroke="#4a4a4a" stroke-width="1"/>
<line x1="55.5" y1="506" x2="55.5" y2="510" stroke="#4a4a4a" stroke-width="1"/>
<text x="55.5" y="521.0" text-anchor="middle">20200901</text>
<line x1="118.5" y1="506" x2="118.5" y2="510" stroke="#4a4a4a" stroke-width="1"/>
<text x="118.4" y="521.0" text-anchor="middle">20201029</text>
<line x1="181.5" y1="506" x2="181.5" y2="510" stroke="#4a4a4a" stroke-width="1"/>
<text x="181.3" y="521.0" text-anchor="middle">20201226</text>
<line x1="244.5" y1="506" x2="244.5" y2="510" stroke="#4a4a4a" stroke-width="1"/>
<text x="244.2" y="521.0" text-anchor="middle">20210222</text>
<line x1="306.5" y1="506" x2="306.5" y2="510" stroke="#4a4a4a" stroke-width="1"/>
<text x="307.1" y="521.0" text-anchor="middle">20210421</text>
<line x1="369.5" y1="506" x2="369.5" y2="510" stroke="#4a4a4a" stroke-width="1"/>
<text x="370.1" y="521.0" text-anchor="middle">20210618</text>
<line x1="432.5" y1="506" x2="432.5" y2="510" stroke="#4a4a4a" stroke-width="1"/>
<text x="433.0" y="521.0" text-anchor="middle">20210815</text>
<line x1="465.5" y1="506" x2="465.5" y2="510" stroke="#4a4a4a" stroke-width="1"/>
<path d="M582.4,457.6 L583.2,458.4 L584.0,459.0 L584.8,460.9 L585.6,452.8 L586.5,448.0 L587.3,439.6 L588.1,438.2 L588.9,436.9 L589.7,434.7 L590.5,438.2 L591.4,441.3 L592.2,444.2 L593.0,447.8 L594.0,440.3 L595.0,431.7 L595.9,423.3 L597.1,433.1 L597.9,434.8 L598.7,435.2 L599.5,436.6 L600.4,436.4 L601.2,439.6 L602.0,434.0 L602.8,427.7 L603.6,423.3 L604.5,425.0 L605.3,429.4 L606.1,431.5 L606.9,435.4 L607.7,441.7 L608.5,446.2 L609.4,440.0 L610.2,433.1 L611.0,436.7 L611.8,443.8 L612.6,447.8 L613.5,451.3 L614.3,458.7 L615.1,462.5 L615.9,455.4 L616.7,445.3 L617.5,438.0 L618.4,432.1 L619.2,425.6 L620.0,418.4 L620.8,412.3 L621.6,409.1 L622.5,402.5 L623.3,398.7 L624.1,405.7 L624.9,410.2 L625.7,406.4 L626.5,402.9 L627.4,397.1 L628.2,391.7 L629.0,388.4 L629.8,385.2 L630.6,380.7 L631.6,377.0 L632.6,372.5 L633.7,377.3 L634.7,384.0 L635.5,382.4 L636.4,379.6 L637.2,375.8 L638.0,377.4 L638.8,379.1 L639.6,382.4 L640.5,378.9 L641.3,374.2 L642.1,371.1 L642.9,366.6 L643.7,362.7 L644.5,351.8 L645.4,341.5 L646.2,369.5 L647.0,400.4 L648.1,354.5 L649.5,385.6 L650.3,387.3 L651.1,391.0 L651.9,393.8 L652.7,403.8 L653.5,412.1 L654.4,421.6 L655.2,417.5 L656.0,411.9 L656.8,406.9 L657.6,399.9 L658.5,391.0 L659.3,382.4 L660.1,396.0 L660.9,409.6 L661.7,424.9 L662.5,410.0 L663.4,396.3 L664.2,384.0 L665.0,393.3 L665.8,401.5 L666.6,408.5 L667.6,417.5 L668.6,423.7 L669.6,433.1 L670.5,430.8 L671.4,426.5 L672.4,424.9 L673.5,423.1 L674.3,425.1 L675.0,425.1 L675.8,425.4 L676.7,423.5 L677.5,420.3 L678.4,417.3 L679.4,420.0 L680.5,423.1 L681.4,427.6 L682.2,430.1 L683.0,428.0 L683.7,423.1 L684.7,429.3 L685.7,437.1 L686.5,433.4 L687.3,430.8 L688.1,426.6 L688.8,429.1 L689.6,430.2 L690.4,432.4 L691.3,432.9 L692.1,433.6 L693.0,428.6 L693.9,420.8 L694.8,422.4 L695.6,425.4 L696.4,422.6 L697.2,422.1 L698.0,419.6 L698.7,421.7 L699.5,426.2 L700.3,427.8 L701.3,428.8 L702.2,432.1 L703.2,432.4 L704.2,430.9 L705.1,431.3 L706.1,428.9 L707.1,428.1 L708.1,426.5 L709.0,424.3 L709.9,425.7 L710.8,428.9 L711.5,420.4 L712.2,413.8 L712.9,426.9 L713.7,442.9 L714.7,433.8 L715.6,427.1 L716.6,418.4 L717.4,423.0 L718.2,429.3 L718.9,435.9 L719.6,429.7 L720.3,423.1 L721.4,424.4 L722.4,427.8 L723.2,429.2 L724.0,430.8 L724.8,433.6 L725.5,434.5 L726.3,433.2 L727.1,434.8 L727.9,438.2 L728.6,438.9 L729.4,440.6 L730.2,438.1 L731.0,434.5 L731.7,431.3 L732.5,430.5 L733.3,431.1 L734.1,428.9 L735.0,433.6 L735.8,435.9 L736.7,434.0 L737.6,428.7 L738.4,427.5 L739.3,424.3 L740.1,427.5 L740.9,428.6 L741.7,430.1 L742.8,428.9 L743.7,433.1 L744.6,437.1 L745.5,432.9 L746.5,426.8 L747.5,423.1 L748.4,430.2 L749.2,435.9 L750.4,465.1 L751.4,457.7 L752.3,447.5 L753.3,440.6 L754.3,441.0 L755.2,441.6 L756.2,441.7 L757.0,444.0 L757.8,447.7 L758.5,449.9 L759.4,455.5 L760.3,459.9 L761.2,462.4 L762.0,467.4 L762.9,459.6 L763.7,454.9 L764.5,447.4 L765.3,441.3 L766.1,433.6 L767.0,439.4 L767.9,442.9 L768.6,446.9 L769.4,452.5 L770.2,456.9 L771.0,448.9 L771.8,443.0 L772.5,434.8 L773.3,433.7 L774.2,430.7 L775.0,429.9 L775.8,428.5 L776.6,426.6 L777.6,428.9 L778.5,431.9 L779.5,435.9 L780.3,440.1 L781.1,443.2 L781.8,448.7 L782.7,454.0 L783.6,459.2 L784.4,463.3 L785.2,465.6 L785.9,467.4 L786.9,461.4 L787.9,459.0 L788.8,453.4 L789.8,453.3 L790.8,452.5 L791.7,451.1 L792.7,451.2 L793.7,455.0 L794.7,455.7 L795.6,455.2 L796.6,457.4 L797.6,456.9 L798.4,451.7 L799.3,447.6 L800.2,450.7 L801.1,454.6 L801.8,462.1 L802.6,472.8 L803.4,480.2 L804.2,477.3 L805.0,477.1 L805.8,473.9 L806.7,470.8 L807.5,469.7 L808.4,473.7 L809.4,476.8 L810.4,480.2 L811.2,478.0 L811.9,479.6 L812.7,477.9 L813.7,476.4 L814.7,474.9 L815.6,475.5 L816.6,475.2 L817.6,473.9 L818.5,472.0 L819.3,473.3 L820.1,474.2 L820.9,476.7 L821.7,474.8 L822.4,473.1 L823.2,470.9 L824.2,472.6 L825.1,473.2 L826.1,474.4 L827.1,475.7 L828.1,477.4 L829.0,477.9 L829.8,475.4 L830.6,473.8 L831.4,473.2 L832.3,475.9 L833.3,479.4 L834.3,481.4 L835.1,480.8 L836.0,479.5 L836.9,476.8 L837.8,475.5 L838.6,476.5 L839.5,474.9 L840.4,476.1 L841.3,476.7 L842.4,469.7 L843.6,481.4 L844.5,475.4 L845.3,472.0 L846.3,472.7 L847.3,472.8 L848.3,470.9 L849.1,470.8 L850.0,469.7 L850.9,474.3 L851.7,476.9 L852.6,482.0 L853.5,484.9 L854.4,480.7 L855.2,478.6 L856.1,475.7 L857.0,473.2 L858.0,472.4 L858.9,468.3 L859.9,467.4 L860.7,469.9 L861.5,473.1 L862.2,477.9 L863.1,477.9 L864.0,475.4 L864.9,476.2 L865.7,473.4 L866.6,474.0 L867.5,472.0 L868.3,471.6 L869.1,474.2 L869.9,474.9 L870.7,475.0 L871.6,474.4 L872.3,476.5 L873.1,478.7 L873.9,479.0 L874.9,477.9 L875.8,475.8 L876.8,472.0 L877.7,470.5 L878.5,471.3 L879.4,470.3 L880.3,468.5 L881.3,466.5 L882.2,464.4 L883.2,463.9 L884.1,466.8 L885.0,467.3 L885.8,469.2 L886.7,470.9 L887.5,472.8 L888.3,472.4 L889.0,473.2 L889.9,471.0 L890.8,470.9 L891.7,468.9 L892.5,467.4 L893.4,467.6 L894.3,469.7 L895.1,471.2 L896.0,470.9 L896.9,472.2 L897.8,475.9 L898.6,477.8 L899.5,479.0 L900.3,477.9 L901.1,475.8 L901.8,475.5 L902.7,475.2 L903.6,473.1 L904.5,472.2 L905.3,472.0 L906.3,473.4 L907.2,471.9 L908.1,471.6 L909.1,474.2 L910.0,473.4 L910.9,474.3 L911.7,471.7 L912.6,471.4 L913.5,471.1 L914.5,471.6 L915.4,472.6 L916.4,472.2 L917.4,473.7 L918.4,478.1 L919.4,464.5 L920.5,450.1 L921.3,452.0 L922.0,456.8 L922.8,458.3 L923.7,466.2 L924.6,474.6 L925.4,478.8 L926.3,480.4 L927.2,473.8 L928.1,467.6 L928.9,468.0 L929.8,467.6 L930.6,459.6 L931.4,453.5 L932.1,447.8 L932.9,448.7 L933.7,450.5 L934.5,452.4 L935.3,452.6 L936.2,454.5 L937.1,454.7 L938.0,457.1 L938.8,461.4 L939.7,465.2 L940.7,465.5 L941.7,464.0 L942.6,461.7 L943.5,459.2 L944.4,455.9 L945.2,460.9 L946.1,462.9 L947.1,465.2 L948.1,466.4 L949.0,467.6 L950.0,465.5 L951.0,462.4 L951.9,461.7 L952.8,463.5 L953.7,464.1 L954.6,464.4 L955.4,464.1 L956.2,465.4 L957.0,466.6 L957.8,466.4 L958.5,467.0 L959.3,466.3 L960.1,464.1 L960.9,465.1 L961.7,463.1 L962.5,466.1 L963.4,465.2 L964.2,465.2 L965.0,463.5 L965.7,461.9 L966.5,460.6 L967.5,460.3 L968.4,460.0 L969.4,461.7 L970.4,461.3 L971.4,460.5 L972.3,459.4 L973.3,458.6 L974.3,461.5 L975.2,460.6 L976.1,461.5 L977.0,461.1 L977.9,459.8 L978.7,459.4 L979.6,459.7 L980.5,460.6 L981.3,459.7 L982.0,458.6 L982.8,458.3 L983.6,461.2 L984.4,462.6 L985.1,462.9 L986.0,465.3 L986.9,465.2 L987.9,460.3 L988.8,455.2 L989.8,450.1 L990.7,451.2 L991.6,451.3 L991.6,506 L582.4,506 Z" fill="#9ac3f7" stroke="none" />
<path d="M582.4,457.6 L583.2,458.4 L584.0,459.0 L584.8,460.9 L585.6,452.8 L586.5,448.0 L587.3,439.6 L588.1,438.2 L588.9,436.9 L589.7,434.7 L590.5,438.2 L591.4,441.3 L592.2,444.2 L593.0,447.8 L594.0,440.3 L595.0,431.7 L595.9,423.3 L597.1,433.1 L597.9,434.8 L598.7,435.2 L599.5,436.6 L600.4,436.4 L601.2,439.6 L602.0,434.0 L602.8,427.7 L603.6,423.3 L604.5,425.0 L605.3,429.4 L606.1,431.5 L606.9,435.4 L607.7,441.7 L608.5,446.2 L609.4,440.0 L610.2,433.1 L611.0,436.7 L611.8,443.8 L612.6,447.8 L613.5,451.3 L614.3,458.7 L615.1,462.5 L615.9,455.4 L616.7,445.3 L617.5,438.0 L618.4,432.1 L619.2,425.6 L620.0,418.4 L620.8,412.3 L621.6,409.1 L622.5,402.5 L623.3,398.7 L624.1,405.7 L624.9,410.2 L625.7,406.4 L626.5,402.9 L627.4,397.1 L628.2,391.7 L629.0,388.4 L629.8,385.2 L630.6,380.7 L631.6,377.0 L632.6,372.5 L633.7,377.3 L634.7,384.0 L635.5,382.4 L636.4,379.6 L637.2,375.8 L638.0,377.4 L638.8,379.1 L639.6,382.4 L640.5,378.9 L641.3,374.2 L642.1,371.1 L642.9,366.6 L643.7,362.7 L644.5,351.8 L645.4,341.5 L646.2,369.5 L647.0,400.4 L648.1,354.5 L649.5,385.6 L650.3,387.3 L651.1,391.0 L651.9,393.8 L652.7,403.8 L653.5,412.1 L654.4,421.6 L655.2,417.5 L656.0,411.9 L656.8,406.9 L657.6,399.9 L658.5,391.0 L659.3,382.4 L660.1,396.0 L660.9,409.6 L661.7,424.9 L662.5,410.0 L663.4,396.3 L664.2,384.0 L665.0,393.3 L665.8,401.5 L666.6,408.5 L667.6,417.5 L668.6,423.7 L669.6,433.1 L670.5,430.8 L671.4,426.5 L672.4,424.9 L673.5,423.1 L674.3,425.1 L675.0,425.1 L675.8,425.4 L676.7,423.5 L677.5,420.3 L678.4,417.3 L679.4,420.0 L680.5,423.1 L681.4,427.6 L682.2,430.1 L683.0,428.0 L683.7,423.1 L684.7,429.3 L685.7,437.1 L686.5,433.4 L687.3,430.8 L688.1,426.6 L688.8,429.1 L689.6,430.2 L690.4,432.4 L691.3,432.9 L692.1,433.6 L693.0,428.6 L693.9,420.8 L694.8,422.4 L695.6,425.4 L696.4,422.6 L697.2,422.1 L698.0,419.6 L698.7,421.7 L699.5,426.2 L700.3,427.8 L701.3,428.8 L702.2,432.1 L703.2,432.4 L704.2,430.9 L705.1,431.3 L706.1,428.9 L707.1,428.1 L708.1,426.5 L709.0,424.3 L709.9,425.7 L710.8,428.9 L711.5,420.4 L712.2,413.8 L712.9,426.9 L713.7,442.9 L714.7,433.8 L715.6,427.1 L716.6,418.4 L717.4,423.0 L718.2,429.3 L718.9,435.9 L719.6,429.7 L720.3,423.1 L721.4,424.4 L722.4,427.8 L723.2,429.2 L724.0,430.8 L724.8,433.6 L725.5,434.5 L726.3,433.2 L727.1,434.8 L727.9,438.2 L728.6,438.9 L729.4,440.6 L730.2,438.1 L731.0,434.5 L731.7,431.3 L732.5,430.5 L733.3,431.1 L734.1,428.9 L735.0,433.6 L735.8,435.9 L736.7,434.0 L737.6,428.7 L738.4,427.5 L739.3,424.3 L740.1,427.5 L740.9,428.6 L741.7,430.1 L742.8,428.9 L743.7,433.1 L744.6,437.1 L745.5,432.9 L746.5,426.8 L747.5,423.1 L748.4,430.2 L749.2,435.9 L750.4,465.1 L751.4,457.7 L752.3,447.5 L753.3,440.6 L754.3,441.0 L755.2,441.6 L756.2,441.7 L757.0,444.0 L757.8,447.7 L758.5,449.9 L759.4,455.5 L760.3,459.9 L761.2,462.4 L762.0,467.4 L762.9,459.6 L763.7,454.9 L764.5,447.4 L765.3,441.3 L766.1,433.6 L767.0,439.4 L767.9,442.9 L768.6,446.9 L769.4,452.5 L770.2,456.9 L771.0,448.9 L771.8,443.0 L772.5,434.8 L773.3,433.7 L774.2,430.7 L775.0,429.9 L775.8,428.5 L776.6,426.6 L777.6,428.9 L778.5,431.9 L779.5,435.9 L780.3,440.1 L781.1,443.2 L781.8,448.7 L782.7,454.0 L783.6,459.2 L784.4,463.3 L785.2,465.6 L785.9,467.4 L786.9,461.4 L787.9,459.0 L788.8,453.4 L789.8,453.3 L790.8,452.5 L791.7,451.1 L792.7,451.2 L793.7,455.0 L794.7,455.7 L795.6,455.2 L796.6,457.4 L797.6,456.9 L798.4,451.7 L799.3,447.6 L800.2,450.7 L801.1,454.6 L801.8,462.1 L802.6,472.8 L803.4,480.2 L804.2,477.3 L805.0,477.1 L805.8,473.9 L806.7,470.8 L807.5,469.7 L808.4,473.7 L809.4,476.8 L810.4,480.2 L811.2,478.0 L811.9,479.6 L812.7,477.9 L813.7,476.4 L814.7,474.9 L815.6,475.5 L816.6,475.2 L817.6,473.9 L818.5,472.0 L819.3,473.3 L820.1,474.2 L820.9,476.7 L821.7,474.8 L822.4,473.1 L823.2,470.9 L824.2,472.6 L825.1,473.2 L826.1,474.4 L827.1,475.7 L828.1,477.4 L829.0,477.9 L829.8,475.4 L830.6,473.8 L831.4,473.2 L832.3,475.9 L833.3,479.4 L834.3,481.4 L835.1,480.8 L836.0,479.5 L836.9,476.8 L837.8,475.5 L838.6,476.5 L839.5,474.9 L840.4,476.1 L841.3,476.7 L842.4,469.7 L843.6,481.4 L844.5,475.4 L845.3,472.0 L846.3,472.7 L847.3,472.8 L848.3,470.9 L849.1,470.8 L850.0,469.7 L850.9,474.3 L851.7,476.9 L852.6,482.0 L853.5,484.9 L854.4,480.7 L855.2,478.6 L856.1,475.7 L857.0,473.2 L858.0,472.4 L858.9,468.3 L859.9,467.4 L860.7,469.9 L861.5,473.1 L862.2,477.9 L863.1,477.9 L864.0,475.4 L864.9,476.2 L865.7,473.4 L866.6,474.0 L867.5,472.0 L868.3,471.6 L869.1,474.2 L869.9,474.9 L870.7,475.0 L871.6,474.4 L872.3,476.5 L873.1,478.7 L873.9,479.0 L874.9,477.9 L875.8,475.8 L876.8,472.0 L877.7,470.5 L878.5,471.3 L879.4,470.3 L880.3,468.5 L881.3,466.5 L882.2,464.4 L883.2,463.9 L884.1,466.8 L885.0,467.3 L885.8,469.2 L886.7,470.9 L887.5,472.8 L888.3,472.4 L889.0,473.2 L889.9,471.0 L890.8,470.9 L891.7,468.9 L892.5,467.4 L893.4,467.6 L894.3,469.7 L895.1,471.2 L896.0,470.9 L896.9,472.2 L897.8,475.9 L898.6,477.8 L899.5,479.0 L900.3,477.9 L901.1,475.8 L901.8,475.5 L902.7,475.2 L903.6,473.1 L904.5,472.2 L905.3,472.0 L906.3,473.4 L907.2,471.9 L908.1,471.6 L909.1,474.2 L910.0,473.4 L910.9,474.3 L911.7,471.7 L912.6,471.4 L913.5,471.1 L914.5,471.6 L915.4,472.6 L916.4,472.2 L917.4,473.7 L918.4,478.1 L919.4,464.5 L920.5,450.1 L921.3,452.0 L922.0,456.8 L922.8,458.3 L923.7,466.2 L924.6,474.6 L925.4,478.8 L926.3,480.4 L927.2,473.8 L928.1,467.6 L928.9,468.0 L929.8,467.6 L930.6,459.6 L931.4,453.5 L932.1,447.8 L932.9,448.7 L933.7,450.5 L934.5,452.4 L935.3,452.6 L936.2,454.5 L937.1,454.7 L938.0,457.1 L938.8,461.4 L939.7,465.2 L940.7,465.5 L941.7,464.0 L942.6,461.7 L943.5,459.2 L944.4,455.9 L945.2,460.9 L946.1,462.9 L947.1,465.2 L948.1,466.4 L949.0,467.6 L950.0,465.5 L951.0,462.4 L951.9,461.7 L952.8,463.5 L953.7,464.1 L954.6,464.4 L955.4,464.1 L956.2,465.4 L957.0,466.6 L957.8,466.4 L958.5,467.0 L959.3,466.3 L960.1,464.1 L960.9,465.1 L961.7,463.1 L962.5,466.1 L963.4,465.2 L964.2,465.2 L965.0,463.5 L965.7,461.9 L966.5,460.6 L967.5,460.3 L968.4,460.0 L969.4,461.7 L970.4,461.3 L971.4,460.5 L972.3,459.4 L973.3,458.6 L974.3,461.5 L975.2,460.6 L976.1,461.5 L977.0,461.1 L977.9,459.8 L978.7,459.4 L979.6,459.7 L980.5,460.6 L981.3,459.7 L982.0,458.6 L982.8,458.3 L983.6,461.2 L984.4,462.6 L985.1,462.9 L986.0,465.3 L986.9,465.2 L987.9,460.3 L988.8,455.2 L989.8,450.1 L990.7,451.2 L991.6,451.3" fill="none" stroke="#4d90e6" stroke-width="1" stroke-linejoin="round"/>
<path d="M582.3,504.4 L583.4,504.6 L584.4,503.7 L585.5,504.1 L586.6,504.0 L587.6,504.8 L588.7,504.7 L589.8,505.0 L590.8,503.8 L591.9,504.3 L593.0,503.7 L594.0,504.0 L595.1,504.4 L596.2,503.7 L597.2,503.9 L598.3,504.4 L599.4,504.6 L600.5,504.4 L601.6,503.9 L602.7,504.4 L603.8,504.7 L605.0,503.4 L606.1,504.7 L607.2,504.5 L608.3,503.9 L609.4,503.5 L610.5,504.8 L611.6,503.8 L612.7,503.3 L613.8,504.0 L614.9,503.2 L616.1,504.3 L617.2,503.9 L618.3,504.1 L619.4,503.9 L620.5,503.5 L621.6,503.3 L622.6,503.9 L623.7,502.8 L624.7,502.9 L625.7,503.2 L626.8,502.7 L627.8,502.4 L628.9,502.8 L629.9,502.1 L630.9,501.8 L632.0,502.4 L633.0,501.6 L634.0,502.1 L635.1,502.5 L636.1,502.4 L637.1,503.3 L638.2,503.0 L639.2,502.8 L640.2,503.1 L641.3,503.8 L642.3,503.4 L643.3,503.6 L644.4,503.6 L645.4,503.4 L646.5,503.7 L647.5,504.9 L648.5,504.5 L649.6,504.4 L650.6,504.6 L651.7,503.9 L652.8,504.8 L653.9,503.9 L655.0,504.2 L656.1,505.0 L657.1,504.6 L658.2,504.5 L659.3,504.7 L660.4,504.9 L661.5,504.8 L662.5,504.0 L663.6,503.6 L664.7,504.1 L665.8,504.0 L666.9,503.9 L667.9,505.0 L669.0,505.0 L670.1,504.1 L671.2,504.6 L672.3,504.2 L673.4,505.0 L674.4,504.3 L675.5,504.0 L676.6,504.0 L677.7,504.5 L678.8,504.0 L679.8,504.5 L680.9,505.0 L682.0,504.2 L683.1,503.9 L684.2,505.0 L685.3,504.4 L686.3,503.7 L687.4,503.6 L688.5,503.7 L689.6,504.5 L690.7,504.8 L691.7,504.2 L692.8,503.6 L693.9,504.1 L695.0,505.0 L696.1,504.4 L697.1,505.0 L698.2,504.9 L699.3,503.5 L700.4,504.7 L701.5,504.6 L702.6,504.4 L703.6,503.9 L704.7,504.5 L705.8,503.7 L706.9,504.2 L708.0,504.2 L709.0,505.0 L710.1,504.9 L711.2,503.9 L712.3,504.3 L713.4,503.8 L714.5,505.0 L715.5,504.9 L716.6,504.0 L717.7,504.5 L718.8,504.5 L719.9,503.7 L720.9,504.7 L722.0,504.3 L723.1,504.7 L724.2,504.3 L725.3,503.5 L726.3,504.0 L727.4,503.5 L728.5,505.0 L729.6,504.9 L730.7,504.8 L731.8,504.0 L732.8,503.6 L733.9,504.9 L735.0,504.3 L736.1,505.0 L737.2,503.6 L738.3,504.2 L739.3,503.6 L740.4,504.7 L741.5,504.7 L742.6,503.7 L743.7,504.2 L744.8,504.4 L745.9,503.9 L747.0,504.9 L748.0,504.2 L749.1,503.8 L750.2,504.4 L751.3,504.7 L752.4,503.8 L753.5,504.0 L754.6,505.0 L755.6,504.5 L756.7,504.2 L757.8,504.3 L758.9,503.7 L760.0,503.9 L761.1,504.1 L762.2,504.5 L763.3,503.9 L764.3,503.9 L765.4,503.6 L766.5,504.5 L767.6,503.9 L768.7,505.0 L769.8,504.9 L770.9,503.6 L771.9,503.9 L773.0,504.6 L774.1,503.9 L775.2,503.8 L776.3,505.0 L777.4,504.5 L778.5,504.3 L779.6,504.8 L780.6,504.8 L781.7,503.9 L782.8,503.7 L783.9,504.3 L785.0,504.2 L786.1,504.3 L787.2,504.7 L788.2,504.6 L789.3,505.0 L790.4,503.7 L791.5,504.2 L792.6,504.1 L793.7,505.0 L794.8,504.0 L795.9,503.9 L796.9,504.3 L798.0,504.3 L799.1,504.0 L800.2,504.0 L801.3,505.0 L802.4,504.3 L803.5,505.0 L804.5,504.5 L805.6,503.7 L806.7,505.0 L807.8,504.9 L808.9,505.0 L810.0,505.0 L811.1,504.4 L812.1,504.9 L813.2,503.8 L814.3,504.3 L815.4,503.8 L816.4,504.1 L817.5,503.5 L818.6,504.0 L819.7,505.0 L820.7,503.8 L821.8,504.6 L822.9,504.0 L824.0,503.9 L825.0,504.8 L826.1,504.8 L827.2,504.1 L828.3,504.3 L829.4,503.4 L830.4,503.6 L831.5,504.6 L832.6,503.9 L833.7,503.9 L834.7,504.2 L835.8,503.0 L836.9,503.8 L838.0,503.7 L839.0,503.6 L840.1,503.2 L841.1,501.0 L842.1,500.5 L843.3,501.7 L844.5,500.6 L845.6,501.2 L846.8,502.1 L847.8,502.1 L848.9,502.1 L849.9,501.3 L850.9,501.0 L852.0,502.1 L853.0,501.3 L854.1,500.8 L855.2,501.2 L856.3,501.2 L857.4,500.7 L858.6,500.9 L859.7,500.7 L860.8,500.5 L861.8,501.0 L862.8,499.5 L863.9,500.1 L864.9,499.1 L866.0,499.1 L867.0,499.0 L868.2,498.9 L869.3,498.2 L870.3,498.5 L871.3,499.1 L872.2,500.4 L873.2,500.5 L874.3,499.5 L875.4,499.8 L876.5,500.3 L877.6,500.0 L878.8,498.2 L879.9,498.1 L881.0,498.2 L882.1,498.4 L883.3,500.1 L884.5,500.6 L885.6,500.5 L886.7,501.3 L887.7,500.6 L888.7,500.4 L889.8,501.6 L890.8,501.5 L891.8,501.3 L892.9,501.6 L893.9,502.2 L895.0,501.8 L896.0,500.8 L897.0,502.1 L898.1,501.4 L899.1,502.0 L900.1,502.5 L901.2,501.3 L902.2,501.3 L903.2,501.4 L904.3,502.1 L905.4,502.1 L906.5,501.6 L907.6,502.1 L908.7,502.2 L909.8,501.3 L910.9,502.0 L912.0,501.3 L913.1,501.6 L914.3,502.2 L915.4,502.1 L916.5,500.8 L917.6,501.3 L918.7,501.0 L919.8,501.3 L920.8,500.4 L921.9,501.5 L922.9,501.1 L923.9,500.4 L925.0,501.0 L926.0,500.5 L927.1,500.5 L928.1,500.2 L929.1,499.4 L930.2,499.3 L931.2,500.5 L932.2,499.8 L933.3,500.8 L934.5,500.7 L935.6,501.6 L936.7,501.7 L937.8,501.4 L938.9,501.8 L940.0,502.9 L941.1,502.5 L942.1,503.5 L943.2,503.3 L944.2,503.4 L945.3,503.4 L946.3,502.3 L947.4,502.3 L948.4,502.1 L949.5,503.1 L950.5,503.3 L951.6,502.5 L952.6,502.8 L953.7,502.1 L954.7,503.3 L955.8,503.2 L956.8,503.3 L957.9,503.0 L958.9,503.1 L960.0,502.5 L961.1,501.8 L962.1,502.9 L963.2,502.3 L964.3,503.3 L965.4,503.2 L966.4,503.3 L967.5,503.2 L968.6,502.4 L969.6,503.3 L970.7,502.2 L971.8,503.5 L972.9,503.5 L973.9,502.5 L975.0,503.0 L976.1,503.6 L977.2,503.0 L978.3,502.8 L979.4,503.7 L980.5,502.8 L981.6,502.6 L982.7,502.9 L983.8,503.2 L984.9,504.1 L986.0,504.3 L987.1,503.2 L988.2,503.9 L989.3,503.5 L990.4,504.5 L991.5,503.8 L991.5,506 L582.3,506 Z" fill="rgba(217,83,79,0.22)" stroke="none" />
<path d="M582.3,504.4 L583.4,504.6 L584.4,503.7 L585.5,504.1 L586.6,504.0 L587.6,504.8 L588.7,504.7 L589.8,505.0 L590.8,503.8 L591.9,504.3 L593.0,503.7 L594.0,504.0 L595.1,504.4 L596.2,503.7 L597.2,503.9 L598.3,504.4 L599.4,504.6 L600.5,504.4 L601.6,503.9 L602.7,504.4 L603.8,504.7 L605.0,503.4 L606.1,504.7 L607.2,504.5 L608.3,503.9 L609.4,503.5 L610.5,504.8 L611.6,503.8 L612.7,503.3 L613.8,504.0 L614.9,503.2 L616.1,504.3 L617.2,503.9 L618.3,504.1 L619.4,503.9 L620.5,503.5 L621.6,503.3 L622.6,503.9 L623.7,502.8 L624.7,502.9 L625.7,503.2 L626.8,502.7 L627.8,502.4 L628.9,502.8 L629.9,502.1 L630.9,501.8 L632.0,502.4 L633.0,501.6 L634.0,502.1 L635.1,502.5 L636.1,502.4 L637.1,503.3 L638.2,503.0 L639.2,502.8 L640.2,503.1 L641.3,503.8 L642.3,503.4 L643.3,503.6 L644.4,503.6 L645.4,503.4 L646.5,503.7 L647.5,504.9 L648.5,504.5 L649.6,504.4 L650.6,504.6 L651.7,503.9 L652.8,504.8 L653.9,503.9 L655.0,504.2 L656.1,505.0 L657.1,504.6 L658.2,504.5 L659.3,504.7 L660.4,504.9 L661.5,504.8 L662.5,504.0 L663.6,503.6 L664.7,504.1 L665.8,504.0 L666.9,503.9 L667.9,505.0 L669.0,505.0 L670.1,504.1 L671.2,504.6 L672.3,504.2 L673.4,505.0 L674.4,504.3 L675.5,504.0 L676.6,504.0 L677.7,504.5 L678.8,504.0 L679.8,504.5 L680.9,505.0 L682.0,504.2 L683.1,503.9 L684.2,505.0 L685.3,504.4 L686.3,503.7 L687.4,503.6 L688.5,503.7 L689.6,504.5 L690.7,504.8 L691.7,504.2 L692.8,503.6 L693.9,504.1 L695.0,505.0 L696.1,504.4 L697.1,505.0 L698.2,504.9 L699.3,503.5 L700.4,504.7 L701.5,504.6 L702.6,504.4 L703.6,503.9 L704.7,504.5 L705.8,503.7 L706.9,504.2 L708.0,504.2 L709.0,505.0 L710.1,504.9 L711.2,503.9 L712.3,504.3 L713.4,503.8 L714.5,505.0 L715.5,504.9 L716.6,504.0 L717.7,504.5 L718.8,504.5 L719.9,503.7 L720.9,504.7 L722.0,504.3 L723.1,504.7 L724.2,504.3 L725.3,503.5 L726.3,504.0 L727.4,503.5 L728.5,505.0 L729.6,504.9 L730.7,504.8 L731.8,504.0 L732.8,503.6 L733.9,504.9 L735.0,504.3 L736.1,505.0 L737.2,503.6 L738.3,504.2 L739.3,503.6 L740.4,504.7 L741.5,504.7 L742.6,503.7 L743.7,504.2 L744.8,504.4 L745.9,503.9 L747.0,504.9 L748.0,504.2 L749.1,503.8 L750.2,504.4 L751.3,504.7 L752.4,503.8 L753.5,504.0 L754.6,505.0 L755.6,504.5 L756.7,504.2 L757.8,504.3 L758.9,503.7 L760.0,503.9 L761.1,504.1 L762.2,504.5 L763.3,503.9 L764.3,503.9 L765.4,503.6 L766.5,504.5 L767.6,503.9 L768.7,505.0 L769.8,504.9 L770.9,503.6 L771.9,503.9 L773.0,504.6 L774.1,503.9 L775.2,503.8 L776.3,505.0 L777.4,504.5 L778.5,504.3 L779.6,504.8 L780.6,504.8 L781.7,503.9 L782.8,503.7 L783.9,504.3 L785.0,504.2 L786.1,504.3 L787.2,504.7 L788.2,504.6 L789.3,505.0 L790.4,503.7 L791.5,504.2 L792.6,504.1 L793.7,505.0 L794.8,504.0 L795.9,503.9 L796.9,504.3 L798.0,504.3 L799.1,504.0 L800.2,504.0 L801.3,505.0 L802.4,504.3 L803.5,505.0 L804.5,504.5 L805.6,503.7 L806.7,505.0 L807.8,504.9 L808.9,505.0 L810.0,505.0 L811.1,504.4 L812.1,504.9 L813.2,503.8 L814.3,504.3 L815.4,503.8 L816.4,504.1 L817.5,503.5 L818.6,504.0 L819.7,505.0 L820.7,503.8 L821.8,504.6 L822.9,504.0 L824.0,503.9 L825.0,504.8 L826.1,504.8 L827.2,504.1 L828.3,504.3 L829.4,503.4 L830.4,503.6 L831.5,504.6 L832.6,503.9 L833.7,503.9 L834.7,504.2 L835.8,503.0 L836.9,503.8 L838.0,503.7 L839.0,503.6 L840.1,503.2 L841.1,501.0 L842.1,500.5 L843.3,501.7 L844.5,500.6 L845.6,501.2 L846.8,502.1 L847.8,502.1 L848.9,502.1 L849.9,501.3 L850.9,501.0 L852.0,502.1 L853.0,501.3 L854.1,500.8 L855.2,501.2 L856.3,501.2 L857.4,500.7 L858.6,500.9 L859.7,500.7 L860.8,500.5 L861.8,501.0 L862.8,499.5 L863.9,500.1 L864.9,499.1 L866.0,499.1 L867.0,499.0 L868.2,498.9 L869.3,498.2 L870.3,498.5 L871.3,499.1 L872.2,500.4 L873.2,500.5 L874.3,499.5 L875.4,499.8 L876.5,500.3 L877.6,500.0 L878.8,498.2 L879.9,498.1 L881.0,498.2 L882.1,498.4 L883.3,500.1 L884.5,500.6 L885.6,500.5 L886.7,501.3 L887.7,500.6 L888.7,500.4 L889.8,501.6 L890.8,501.5 L891.8,501.3 L892.9,501.6 L893.9,502.2 L895.0,501.8 L896.0,500.8 L897.0,502.1 L898.1,501.4 L899.1,502.0 L900.1,502.5 L901.2,501.3 L902.2,501.3 L903.2,501.4 L904.3,502.1 L905.4,502.1 L906.5,501.6 L907.6,502.1 L908.7,502.2 L909.8,501.3 L910.9,502.0 L912.0,501.3 L913.1,501.6 L914.3,502.2 L915.4,502.1 L916.5,500.8 L917.6,501.3 L918.7,501.0 L919.8,501.3 L920.8,500.4 L921.9,501.5 L922.9,501.1 L923.9,500.4 L925.0,501.0 L926.0,500.5 L927.1,500.5 L928.1,500.2 L929.1,499.4 L930.2,499.3 L931.2,500.5 L932.2,499.8 L933.3,500.8 L934.5,500.7 L935.6,501.6 L936.7,501.7 L937.8,501.4 L938.9,501.8 L940.0,502.9 L941.1,502.5 L942.1,503.5 L943.2,503.3 L944.2,503.4 L945.3,503.4 L946.3,502.3 L947.4,502.3 L948.4,502.1 L949.5,503.1 L950.5,503.3 L951.6,502.5 L952.6,502.8 L953.7,502.1 L954.7,503.3 L955.8,503.2 L956.8,503.3 L957.9,503.0 L958.9,503.1 L960.0,502.5 L961.1,501.8 L962.1,502.9 L963.2,502.3 L964.3,503.3 L965.4,503.2 L966.4,503.3 L967.5,503.2 L968.6,502.4 L969.6,503.3 L970.7,502.2 L971.8,503.5 L972.9,503.5 L973.9,502.5 L975.0,503.0 L976.1,503.6 L977.2,503.0 L978.3,502.8 L979.4,503.7 L980.5,502.8 L981.6,502.6 L982.7,502.9 L983.8,503.2 L984.9,504.1 L986.0,504.3 L987.1,503.2 L988.2,503.9 L989.3,503.5 L990.4,504.5 L991.5,503.8" fill="none" stroke="#d9534f" stroke-width="1" stroke-linejoin="round"/>
<line x1="582.5" y1="504.5" x2="984" y2="504.5" stroke="#e03a2e" stroke-width="1" stroke-dasharray="3.5 3.4"/>
<circle cx="582.5" cy="504.5" r="3.5" fill="#e03a2e"/>
<path d="M979,500.5 L992,504.5 L979,508.5 L982,504.5 Z" fill="#e03a2e"/>
<text x="993" y="508.2" style="fill:#e03a2e">18.84</text>
<line x1="582.5" y1="305" x2="582.5" y2="507" stroke="#4a4a4a" stroke-width="1"/>
<line x1="578" y1="506.5" x2="582.5" y2="506.5" stroke="#4a4a4a" stroke-width="1"/>
<text x="575.2" y="509.7" text-anchor="end">0</text>
<line x1="578" y1="465.5" x2="582.5" y2="465.5" stroke="#4a4a4a" stroke-width="1"/>
<text x="575.2" y="469.5" text-anchor="end">500</text>
<line x1="578" y1="425.5" x2="582.5" y2="425.5" stroke="#4a4a4a" stroke-width="1"/>
<text x="575.2" y="429.3" text-anchor="end">1,000</text>
<line x1="578" y1="385.5" x2="582.5" y2="385.5" stroke="#4a4a4a" stroke-width="1"/>
<text x="575.2" y="389.1" text-anchor="end">1,500</text>
<line x1="578" y1="345.5" x2="582.5" y2="345.5" stroke="#4a4a4a" stroke-width="1"/>
<text x="575.2" y="348.9" text-anchor="end">2,000</text>
<line x1="578" y1="305.5" x2="582.5" y2="305.5" stroke="#4a4a4a" stroke-width="1"/>
<text x="575.2" y="308.7" text-anchor="end">2,500</text>
<line x1="582" y1="506.5" x2="993" y2="506.5" stroke="#4a4a4a" stroke-width="1"/>
<line x1="582.5" y1="506" x2="582.5" y2="510" stroke="#4a4a4a" stroke-width="1"/>
<text x="582.5" y="521.0" text-anchor="middle">20200901</text>
<line x1="645.5" y1="506" x2="645.5" y2="510" stroke="#4a4a4a" stroke-width="1"/>
<text x="645.4" y="521.0" text-anchor="middle">20201029</text>
<line x1="708.5" y1="506" x2="708.5" y2="510" stroke="#4a4a4a" stroke-width="1"/>
<text x="708.3" y="521.0" text-anchor="middle">20201226</text>
<line x1="771.5" y1="506" x2="771.5" y2="510" stroke="#4a4a4a" stroke-width="1"/>
<text x="771.2" y="521.0" text-anchor="middle">20210222</text>
<line x1="833.5" y1="506" x2="833.5" y2="510" stroke="#4a4a4a" stroke-width="1"/>
<text x="834.1" y="521.0" text-anchor="middle">20210421</text>
<line x1="896.5" y1="506" x2="896.5" y2="510" stroke="#4a4a4a" stroke-width="1"/>
<text x="897.1" y="521.0" text-anchor="middle">20210618</text>
<line x1="959.5" y1="506" x2="959.5" y2="510" stroke="#4a4a4a" stroke-width="1"/>
<text x="960.0" y="521.0" text-anchor="middle">20210815</text>
<line x1="992.5" y1="506" x2="992.5" y2="510" stroke="#4a4a4a" stroke-width="1"/>
<path d="M56.1,609.8 L57.3,628.7 L58.0,622.8 L58.7,618.5 L59.9,620.0 L60.9,598.2 L61.9,606.9 L62.9,623.6 L63.8,640.4 L64.5,632.7 L65.3,627.3 L66.0,619.6 L66.7,609.8 L67.5,630.0 L68.2,652.0 L68.9,626.7 L69.6,601.1 L70.4,605.4 L71.1,606.9 L72.2,606.6 L73.3,606.9 L74.4,631.0 L75.5,652.0 L76.2,621.5 L77.3,621.5 L78.4,620.0 L79.1,627.4 L79.8,634.5 L80.5,625.5 L81.3,615.6 L82.0,618.8 L82.7,621.5 L83.8,615.9 L84.9,611.3 L85.6,612.1 L86.4,609.8 L87.5,632.8 L88.5,656.4 L89.6,649.2 L90.7,638.9 L91.8,632.8 L92.9,624.4 L94.0,622.1 L95.1,622.9 L96.0,617.0 L96.9,612.7 L97.8,608.6 L98.7,602.5 L99.8,606.6 L100.9,612.7 L102.0,609.5 L103.1,605.5 L104.2,607.2 L105.3,609.8 L106.0,616.6 L106.7,621.5 L107.8,622.1 L108.9,620.0 L109.9,633.1 L110.9,622.3 L111.8,609.8 L112.9,616.8 L114.0,625.8 L115.1,628.8 L116.2,630.2 L117.3,639.4 L118.4,649.1 L119.3,644.4 L120.3,637.4 L121.3,631.6 L122.0,636.6 L122.7,638.9 L123.8,636.1 L124.9,630.2 L126.0,629.0 L127.1,625.8 L128.2,635.6 L129.3,643.3 L130.4,631.2 L131.5,617.1 L132.3,631.4 L133.2,644.2 L134.1,659.3 L135.0,644.8 L136.0,627.2 L137.0,611.3 L137.8,612.1 L138.6,615.9 L139.5,618.5 L140.5,621.2 L141.6,624.4 L142.7,627.8 L143.8,633.1 L144.9,624.4 L146.0,612.7 L146.7,618.8 L147.5,627.3 L148.5,620.6 L149.6,611.3 L150.7,617.3 L151.8,622.9 L152.5,628.4 L153.3,636.0 L154.0,627.5 L154.7,620.0 L155.8,615.5 L156.9,611.3 L157.6,631.1 L158.4,653.5 L159.5,645.6 L160.5,636.0 L161.6,629.2 L162.7,621.5 L163.5,631.7 L164.2,638.9 L165.2,633.7 L166.1,627.2 L167.1,620.0 L168.1,620.6 L169.0,619.3 L170.0,617.4 L171.0,616.0 L171.9,614.9 L172.9,613.8 L174.0,608.3 L175.1,600.7 L175.8,607.2 L176.5,610.9 L177.3,608.3 L178.0,603.6 L179.0,608.6 L179.9,609.9 L180.9,615.3 L181.9,605.6 L182.8,596.4 L183.7,606.0 L184.5,618.2 L185.3,614.1 L186.0,609.5 L187.2,629.8 L188.0,627.9 L188.9,625.5 L189.6,619.1 L190.4,612.4 L191.3,611.1 L192.3,606.6 L193.3,605.1 L194.1,610.7 L195.0,615.1 L195.9,619.6 L196.8,604.9 L197.6,592.0 L198.5,597.2 L199.5,597.8 L200.4,602.8 L201.3,606.5 L202.0,605.2 L202.7,603.6 L203.6,598.6 L204.4,594.5 L205.2,587.6 L206.1,590.2 L206.9,593.7 L207.8,594.9 L208.5,607.3 L209.3,621.1 L210.0,612.3 L210.7,603.6 L211.8,614.1 L212.9,626.9 L214.0,621.5 L215.1,615.3 L216.1,619.9 L217.0,625.9 L218.0,629.8 L219.0,628.1 L219.9,628.7 L220.9,628.4 L222.0,617.5 L223.1,603.6 L224.2,607.9 L225.3,615.3 L226.0,617.2 L226.7,618.2 L227.8,609.3 L228.9,599.3 L229.9,605.3 L230.8,610.1 L231.8,615.3 L232.8,623.5 L233.8,633.2 L234.7,640.0 L235.8,629.9 L236.9,621.1 L237.8,620.3 L238.7,618.7 L239.6,617.5 L240.5,615.3 L241.6,639.9 L242.7,664.7 L243.6,658.8 L244.5,656.0 L245.6,629.8 L246.6,627.3 L247.6,622.3 L248.5,619.6 L249.5,631.7 L250.5,643.5 L251.5,653.1 L252.4,648.2 L253.4,641.1 L254.4,635.6 L255.3,640.4 L256.2,642.5 L257.1,646.0 L258.0,650.2 L259.0,643.6 L259.9,637.1 L260.9,629.8 L262.0,638.4 L263.1,645.8 L264.1,644.5 L265.0,642.6 L266.0,641.5 L267.0,640.3 L267.9,637.0 L268.9,635.6 L269.9,638.9 L270.8,639.9 L271.8,644.4 L272.8,634.0 L273.8,627.1 L274.7,616.7 L275.7,627.0 L276.7,638.8 L277.6,650.2 L278.5,642.9 L279.5,639.4 L280.4,632.2 L281.3,626.9 L282.2,636.1 L283.2,647.5 L284.2,658.9 L285.1,651.2 L286.0,641.5 L286.9,630.0 L287.8,622.5 L288.7,621.5 L289.6,616.1 L290.5,614.9 L291.5,612.4 L292.5,624.1 L293.6,635.6 L294.7,633.6 L295.8,629.8 L296.9,638.1 L298.0,648.7 L299.1,641.8 L300.2,632.7 L301.3,648.0 L302.4,664.7 L303.5,660.4 L304.5,654.5 L305.3,651.5 L306.0,645.8 L307.0,645.1 L307.9,642.3 L308.9,642.9 L309.9,637.1 L310.8,630.1 L311.8,624.0 L312.9,615.3 L314.0,605.1 L314.7,637.3 L315.5,667.6 L316.5,662.7 L317.6,660.4 L318.7,664.2 L319.8,667.6 L320.8,662.8 L321.8,658.3 L322.7,651.6 L323.8,640.4 L324.9,628.4 L326.0,641.8 L327.1,654.5 L327.8,648.9 L328.5,641.5 L329.5,651.5 L330.5,664.9 L331.5,674.9 L332.5,660.6 L333.6,645.8 L334.7,637.5 L335.8,628.4 L336.5,641.1 L337.3,656.0 L338.4,647.3 L339.5,638.5 L340.4,641.2 L341.4,643.4 L342.4,647.3 L343.5,645.8 L344.5,641.5 L345.6,651.3 L346.7,658.9 L347.5,643.5 L348.2,628.4 L349.3,638.6 L350.4,651.6 L351.3,653.9 L352.2,651.9 L353.1,653.8 L354.0,654.5 L355.1,654.0 L356.2,653.1 L356.9,660.0 L357.6,664.7 L358.5,657.2 L359.5,649.1 L360.4,640.8 L361.3,632.7 L362.4,645.9 L363.5,656.0 L364.5,659.2 L365.6,660.4 L366.7,643.2 L367.8,626.9 L368.5,631.5 L369.3,634.2 L370.0,626.2 L370.7,615.3 L371.8,630.5 L372.9,645.8 L374.0,633.6 L375.1,624.0 L376.1,631.0 L377.1,640.8 L378.3,626.6 L378.7,629.8 L380.0,650.3 L380.9,648.7 L381.8,634.9 L382.6,631.7 L383.4,624.5 L384.2,620.7 L384.5,619.6 L385.3,621.7 L386.0,621.9 L386.7,629.8 L387.7,651.5 L388.9,650.2 L389.5,633.7 L390.3,630.5 L391.0,628.3 L391.8,626.9 L393.0,646.7 L393.6,644.4 L394.8,636.1 L395.5,635.6 L396.6,640.8 L397.6,641.5 L399.0,646.7 L399.8,647.4 L400.5,650.2 L401.2,648.3 L401.9,644.4 L402.7,630.7 L403.5,619.6 L404.5,633.1 L405.5,646.7 L406.4,644.4 L407.1,645.9 L407.8,645.6 L408.8,648.0 L409.8,648.7 L410.8,652.6 L411.8,636.1 L412.8,623.8 L413.7,607.7 L414.5,616.5 L415.3,625.3 L416.1,636.1 L417.0,627.3 L417.9,618.4 L418.7,622.4 L419.4,624.0 L420.2,627.8 L421.1,635.5 L422.0,645.6 L422.9,626.8 L423.8,610.1 L424.7,617.7 L425.6,625.5 L426.3,626.8 L427.1,624.9 L427.9,626.6 L428.8,635.2 L429.7,642.0 L430.6,642.0 L431.5,640.8 L432.3,630.8 L433.0,620.0 L433.8,610.1 L434.6,606.6 L435.4,606.2 L436.2,604.2 L437.4,591.2 L438.3,605.7 L439.1,620.7 L440.0,612.4 L440.9,603.0 L441.8,591.6 L442.7,582.9 L443.9,629.0 L444.8,622.0 L445.7,617.2 L446.4,621.6 L447.2,629.0 L448.0,634.9 L448.8,627.6 L449.6,623.2 L450.4,617.2 L451.2,618.2 L452.0,619.0 L452.7,620.7 L453.7,615.4 L454.7,613.4 L455.7,607.7 L456.5,613.6 L457.3,618.3 L458.1,625.5 L459.0,630.4 L460.0,635.8 L461.0,639.6 L461.9,639.6 L462.8,639.6 L463.7,623.2 L464.6,604.2" fill="none" stroke="#7fb576" stroke-width="0.9" stroke-linejoin="round"/>
<clipPath id="pc1"><path d="M432.19,569.01 A12.10,12.10 0 1 1 453.41,569.01 C449.93,575.38 442.80,574.13 442.80,582.60 C442.80,574.13 435.67,575.38 432.19,569.01 Z"/></clipPath>
<path d="M432.19,569.01 A12.10,12.10 0 1 1 453.41,569.01 C449.93,575.38 442.80,574.13 442.80,582.60 C442.80,574.13 435.67,575.38 432.19,569.01 Z" fill="#3a7d2c"/>
<text x="442.80" y="569.2" text-anchor="middle" clip-path="url(#pc1)" style="fill:#fff;font-size:10.4px;letter-spacing:-0.6px">0.059453</text>
<clipPath id="pc2"><path d="M388.42,663.72 A12.30,12.30 0 1 1 410.78,663.72 C407.71,670.43 399.60,674.39 399.60,683.00 C399.60,674.39 391.49,670.43 388.42,663.72 Z"/></clipPath>
<path d="M388.42,663.72 A12.30,12.30 0 1 1 410.78,663.72 C407.71,670.43 399.60,674.39 399.60,683.00 C399.60,674.39 391.49,670.43 388.42,663.72 Z" fill="#3a7d2c"/>
<text x="399.60" y="664.6" text-anchor="middle" clip-path="url(#pc2)" style="fill:#fff;font-size:10.4px;letter-spacing:-0.6px">0.031093</text>
<line x1="55.5" y1="586" x2="55.5" y2="788" stroke="#4a4a4a" stroke-width="1"/>
<line x1="51" y1="787.5" x2="55.5" y2="787.5" stroke="#4a4a4a" stroke-width="1"/>
<text x="48.2" y="790.7" text-anchor="end">0</text>
<line x1="51" y1="753.5" x2="55.5" y2="753.5" stroke="#4a4a4a" stroke-width="1"/>
<text x="48.2" y="757.2" text-anchor="end">0.01</text>
<line x1="51" y1="720.5" x2="55.5" y2="720.5" stroke="#4a4a4a" stroke-width="1"/>
<text x="48.2" y="723.7" text-anchor="end">0.02</text>
<line x1="51" y1="686.5" x2="55.5" y2="686.5" stroke="#4a4a4a" stroke-width="1"/>
<text x="48.2" y="690.2" text-anchor="end">0.03</text>
<line x1="51" y1="653.5" x2="55.5" y2="653.5" stroke="#4a4a4a" stroke-width="1"/>
<text x="48.2" y="656.7" text-anchor="end">0.04</text>
<line x1="51" y1="619.5" x2="55.5" y2="619.5" stroke="#4a4a4a" stroke-width="1"/>
<text x="48.2" y="623.2" text-anchor="end">0.05</text>
<line x1="51" y1="586.5" x2="55.5" y2="586.5" stroke="#4a4a4a" stroke-width="1"/>
<text x="48.2" y="589.7" text-anchor="end">0.06</text>
<line x1="55" y1="787.5" x2="466" y2="787.5" stroke="#4a4a4a" stroke-width="1"/>
<line x1="55.5" y1="787" x2="55.5" y2="791" stroke="#4a4a4a" stroke-width="1"/>
<text x="55.5" y="802.0" text-anchor="middle">20200901</text>
<line x1="118.5" y1="787" x2="118.5" y2="791" stroke="#4a4a4a" stroke-width="1"/>
<text x="118.4" y="802.0" text-anchor="middle">20201029</text>
<line x1="181.5" y1="787" x2="181.5" y2="791" stroke="#4a4a4a" stroke-width="1"/>
<text x="181.3" y="802.0" text-anchor="middle">20201226</text>
<line x1="244.5" y1="787" x2="244.5" y2="791" stroke="#4a4a4a" stroke-width="1"/>
<text x="244.2" y="802.0" text-anchor="middle">20210222</text>
<line x1="306.5" y1="787" x2="306.5" y2="791" stroke="#4a4a4a" stroke-width="1"/>
<text x="307.1" y="802.0" text-anchor="middle">20210421</text>
<line x1="369.5" y1="787" x2="369.5" y2="791" stroke="#4a4a4a" stroke-width="1"/>
<text x="370.1" y="802.0" text-anchor="middle">20210618</text>
<line x1="432.5" y1="787" x2="432.5" y2="791" stroke="#4a4a4a" stroke-width="1"/>
<text x="433.0" y="802.0" text-anchor="middle">20210815</text>
<line x1="465.5" y1="787" x2="465.5" y2="791" stroke="#4a4a4a" stroke-width="1"/>
<path d="M583.2,771.8 L584.1,751.8 L585.0,762.8 L585.9,773.6 L586.8,761.0 L587.7,750.0 L588.6,753.9 L589.5,768.2 L590.5,758.8 L591.4,742.7 L592.3,756.4 L593.2,762.7 L594.1,750.0 L595.0,731.5 L595.9,724.5 L596.8,744.9 L597.7,764.5 L598.6,758.9 L599.5,748.2 L600.5,762.4 L601.4,773.6 L602.3,764.4 L603.2,750.0 L604.1,751.6 L605.0,735.5 L605.9,739.9 L606.8,742.8 L607.7,759.1 L608.8,741.8 L609.9,733.6 L611.4,779.1 L612.3,764.7 L613.2,753.6 L614.1,770.0 L615.0,782.7 L615.9,760.2 L616.8,735.5 L617.7,746.9 L618.6,735.5 L619.5,737.3 L620.5,741.2 L621.4,739.2 L622.3,730.0 L623.2,730.0 L624.1,742.0 L625.0,730.0 L625.9,744.5 L626.8,740.9 L627.7,740.9 L628.6,740.9 L629.5,732.1 L630.5,742.0 L631.4,726.4 L632.5,704.3 L633.5,700.9 L635.0,750.0 L635.9,730.5 L636.8,691.8 L637.7,707.4 L638.6,713.6 L639.5,721.4 L640.5,691.8 L641.4,766.4 L642.3,752.5 L643.2,713.6 L644.1,734.0 L645.0,757.4 L645.9,760.9 L647.0,737.3 L648.1,689.4 L649.2,679.1 L650.1,679.1 L651.0,697.3 L652.1,726.6 L653.2,750.0 L654.1,755.9 L655.0,742.7 L655.9,756.7 L656.8,764.5 L657.9,710.7 L659.0,602.7 L660.5,760.9 L661.4,760.8 L662.3,747.3 L663.2,741.6 L664.1,739.1 L665.0,751.3 L665.9,735.8 L666.8,736.1 L667.7,731.8 L668.6,744.9 L669.5,760.0 L670.5,762.7 L671.4,744.4 L672.3,736.2 L673.2,699.1 L674.1,723.6 L675.0,760.9 L676.1,733.8 L677.2,715.5 L678.4,724.6 L679.5,742.7 L680.5,742.4 L681.4,728.2 L682.3,738.2 L683.2,741.0 L684.1,728.2 L685.0,743.3 L685.9,742.3 L686.8,762.7 L687.7,769.6 L688.6,764.5 L689.5,770.0 L690.5,728.8 L691.4,711.8 L692.7,641.8 L694.0,753.6 L695.2,729.0 L696.4,724.5 L697.3,723.2 L698.2,719.1 L699.1,734.4 L700.0,746.4 L700.9,746.4 L701.8,746.4 L702.7,746.4 L703.6,728.2 L704.5,728.2 L705.5,732.7 L706.4,706.3 L707.3,702.7 L708.5,753.6 L710.0,717.3 L711.1,717.3 L712.2,719.1 L713.6,768.2 L714.5,752.7 L715.5,724.5 L716.5,728.8 L717.6,708.2 L718.8,708.2 L720.0,731.8 L721.2,745.6 L722.4,762.7 L723.3,748.6 L724.2,730.0 L725.3,742.2 L726.4,753.6 L727.8,719.1 L729.1,762.7 L730.1,752.8 L731.2,739.7 L732.2,715.5 L733.4,744.2 L734.5,746.4 L735.5,729.1 L736.4,704.5 L737.6,728.2 L739.1,695.5 L740.0,719.6 L740.9,695.5 L741.8,713.6 L742.7,713.6 L743.6,725.0 L744.5,735.5 L745.5,735.8 L746.4,702.7 L747.3,713.1 L748.2,743.2 L749.1,746.4 L750.0,761.2 L750.9,771.8 L751.8,759.7 L752.7,731.8 L753.9,734.6 L755.1,737.3 L756.2,760.8 L757.3,766.4 L758.2,773.3 L759.1,777.8 L760.0,780.9 L760.9,771.5 L761.8,754.9 L762.7,751.8 L763.6,760.3 L764.5,768.5 L765.5,780.9 L766.6,758.4 L767.8,742.7 L768.9,762.3 L770.0,782.7 L770.9,774.4 L771.8,765.2 L772.7,744.5 L773.6,759.5 L774.5,758.8 L775.5,766.4 L776.5,758.5 L777.6,733.6 L778.7,733.6 L779.8,751.7 L780.8,761.5 L781.8,764.5 L782.7,758.0 L783.6,754.1 L784.5,751.8 L785.5,765.9 L786.4,766.6 L787.3,771.4 L788.2,777.3 L789.1,760.2 L790.0,745.9 L790.9,739.1 L791.8,739.5 L792.7,756.6 L793.6,766.4 L794.5,764.5 L795.5,764.5 L796.4,760.5 L797.3,759.4 L798.2,758.7 L799.1,746.4 L800.1,746.4 L801.1,746.4 L802.0,746.4 L803.0,746.4 L804.0,746.4 L805.0,751.7 L806.0,746.4 L806.9,746.4 L807.9,747.6 L808.8,761.8 L809.7,763.9 L810.8,755.7 L812.0,755.7 L813.2,767.3 L814.3,776.7 L815.3,775.8 L816.3,768.1 L817.2,763.9 L818.1,768.2 L819.0,777.9 L819.9,768.6 L820.7,759.2 L821.6,769.1 L822.5,773.2 L823.4,768.5 L824.2,768.5 L825.4,765.9 L826.6,749.9 L827.7,758.3 L828.9,772.0 L830.0,756.9 L831.2,767.9 L832.4,775.5 L833.5,756.9 L834.5,756.9 L835.5,756.9 L836.5,756.9 L837.6,766.9 L838.8,770.9 L839.8,769.3 L840.7,754.8 L841.7,754.6 L842.7,759.9 L843.6,766.9 L844.6,768.5 L845.5,758.5 L846.3,745.7 L847.2,742.9 L848.2,764.3 L849.3,770.9 L850.4,764.8 L851.6,763.8 L852.8,751.1 L853.9,775.5 L855.1,750.0 L856.3,734.8 L857.1,761.3 L858.0,768.5 L859.2,760.4 L860.3,760.4 L861.3,755.4 L862.3,752.3 L863.3,748.7 L864.2,747.1 L865.2,752.5 L866.2,746.4 L867.3,764.0 L868.5,780.2 L869.7,726.6 L870.5,754.0 L871.4,765.1 L872.6,742.9 L873.7,746.7 L874.9,742.9 L876.1,749.6 L877.2,760.4 L878.2,746.2 L879.2,742.4 L880.1,725.4 L881.3,740.5 L882.5,761.6 L883.4,759.2 L884.4,759.2 L885.4,759.2 L886.6,767.1 L887.7,758.1 L888.9,750.5 L890.1,742.9 L890.9,761.9 L891.8,768.5 L892.7,758.1 L893.5,756.9 L894.7,757.8 L895.9,761.6 L897.0,754.6 L898.2,745.2 L899.1,751.2 L900.0,761.6 L900.5,763.9 L901.5,757.9 L902.5,758.3 L903.5,746.4 L904.4,749.4 L905.2,767.4 L906.1,764.1 L907.0,744.1 L908.2,760.7 L909.3,756.9 L910.5,753.0 L911.7,739.4 L912.5,758.3 L913.4,761.6 L914.3,758.1 L915.1,749.9 L916.3,757.3 L917.5,768.5 L918.6,761.1 L919.8,749.9 L921.0,733.6 L922.1,733.6 L923.3,748.5 L924.5,754.6 L925.3,745.2 L926.2,745.2 L927.1,753.5 L928.0,776.7 L928.9,762.8 L929.9,743.6 L930.9,737.1 L932.0,749.8 L933.2,737.1 L934.1,741.0 L935.0,763.9 L936.1,762.4 L937.3,759.2 L938.4,765.1 L939.6,766.2 L940.5,746.4 L941.3,745.5 L942.2,731.3 L943.2,750.7 L944.3,746.4 L945.4,757.9 L946.6,746.4 L947.8,749.4 L948.9,763.9 L950.1,761.1 L951.3,742.7 L952.4,737.1 L953.6,758.7 L954.8,761.6 L955.9,749.9 L957.1,731.8 L958.3,731.3 L959.4,741.7 L960.6,772.0 L961.7,769.5 L962.9,763.9 L964.1,769.4 L965.2,780.2 L966.1,754.0 L967.0,740.6 L968.2,756.8 L969.3,761.6 L970.5,757.9 L971.7,753.4 L972.8,753.4 L974.0,760.4 L975.1,744.1 L976.3,744.1 L977.2,753.9 L978.1,766.2 L979.2,754.0 L980.4,756.1 L981.6,732.4 L982.7,734.2 L983.9,753.4 L985.1,738.3 L986.2,738.3 L987.1,740.6 L988.0,746.4 L988.7,741.7 L989.5,719.6 L990.9,754.6 L990.9,787 L583.2,787 Z" fill="#d2e5cd" stroke="none" />
<path d="M583.2,771.8 L584.1,751.8 L585.0,762.8 L585.9,773.6 L586.8,761.0 L587.7,750.0 L588.6,753.9 L589.5,768.2 L590.5,758.8 L591.4,742.7 L592.3,756.4 L593.2,762.7 L594.1,750.0 L595.0,731.5 L595.9,724.5 L596.8,744.9 L597.7,764.5 L598.6,758.9 L599.5,748.2 L600.5,762.4 L601.4,773.6 L602.3,764.4 L603.2,750.0 L604.1,751.6 L605.0,735.5 L605.9,739.9 L606.8,742.8 L607.7,759.1 L608.8,741.8 L609.9,733.6 L611.4,779.1 L612.3,764.7 L613.2,753.6 L614.1,770.0 L615.0,782.7 L615.9,760.2 L616.8,735.5 L617.7,746.9 L618.6,735.5 L619.5,737.3 L620.5,741.2 L621.4,739.2 L622.3,730.0 L623.2,730.0 L624.1,742.0 L625.0,730.0 L625.9,744.5 L626.8,740.9 L627.7,740.9 L628.6,740.9 L629.5,732.1 L630.5,742.0 L631.4,726.4 L632.5,704.3 L633.5,700.9 L635.0,750.0 L635.9,730.5 L636.8,691.8 L637.7,707.4 L638.6,713.6 L639.5,721.4 L640.5,691.8 L641.4,766.4 L642.3,752.5 L643.2,713.6 L644.1,734.0 L645.0,757.4 L645.9,760.9 L647.0,737.3 L648.1,689.4 L649.2,679.1 L650.1,679.1 L651.0,697.3 L652.1,726.6 L653.2,750.0 L654.1,755.9 L655.0,742.7 L655.9,756.7 L656.8,764.5 L657.9,710.7 L659.0,602.7 L660.5,760.9 L661.4,760.8 L662.3,747.3 L663.2,741.6 L664.1,739.1 L665.0,751.3 L665.9,735.8 L666.8,736.1 L667.7,731.8 L668.6,744.9 L669.5,760.0 L670.5,762.7 L671.4,744.4 L672.3,736.2 L673.2,699.1 L674.1,723.6 L675.0,760.9 L676.1,733.8 L677.2,715.5 L678.4,724.6 L679.5,742.7 L680.5,742.4 L681.4,728.2 L682.3,738.2 L683.2,741.0 L684.1,728.2 L685.0,743.3 L685.9,742.3 L686.8,762.7 L687.7,769.6 L688.6,764.5 L689.5,770.0 L690.5,728.8 L691.4,711.8 L692.7,641.8 L694.0,753.6 L695.2,729.0 L696.4,724.5 L697.3,723.2 L698.2,719.1 L699.1,734.4 L700.0,746.4 L700.9,746.4 L701.8,746.4 L702.7,746.4 L703.6,728.2 L704.5,728.2 L705.5,732.7 L706.4,706.3 L707.3,702.7 L708.5,753.6 L710.0,717.3 L711.1,717.3 L712.2,719.1 L713.6,768.2 L714.5,752.7 L715.5,724.5 L716.5,728.8 L717.6,708.2 L718.8,708.2 L720.0,731.8 L721.2,745.6 L722.4,762.7 L723.3,748.6 L724.2,730.0 L725.3,742.2 L726.4,753.6 L727.8,719.1 L729.1,762.7 L730.1,752.8 L731.2,739.7 L732.2,715.5 L733.4,744.2 L734.5,746.4 L735.5,729.1 L736.4,704.5 L737.6,728.2 L739.1,695.5 L740.0,719.6 L740.9,695.5 L741.8,713.6 L742.7,713.6 L743.6,725.0 L744.5,735.5 L745.5,735.8 L746.4,702.7 L747.3,713.1 L748.2,743.2 L749.1,746.4 L750.0,761.2 L750.9,771.8 L751.8,759.7 L752.7,731.8 L753.9,734.6 L755.1,737.3 L756.2,760.8 L757.3,766.4 L758.2,773.3 L759.1,777.8 L760.0,780.9 L760.9,771.5 L761.8,754.9 L762.7,751.8 L763.6,760.3 L764.5,768.5 L765.5,780.9 L766.6,758.4 L767.8,742.7 L768.9,762.3 L770.0,782.7 L770.9,774.4 L771.8,765.2 L772.7,744.5 L773.6,759.5 L774.5,758.8 L775.5,766.4 L776.5,758.5 L777.6,733.6 L778.7,733.6 L779.8,751.7 L780.8,761.5 L781.8,764.5 L782.7,758.0 L783.6,754.1 L784.5,751.8 L785.5,765.9 L786.4,766.6 L787.3,771.4 L788.2,777.3 L789.1,760.2 L790.0,745.9 L790.9,739.1 L791.8,739.5 L792.7,756.6 L793.6,766.4 L794.5,764.5 L795.5,764.5 L796.4,760.5 L797.3,759.4 L798.2,758.7 L799.1,746.4 L800.1,746.4 L801.1,746.4 L802.0,746.4 L803.0,746.4 L804.0,746.4 L805.0,751.7 L806.0,746.4 L806.9,746.4 L807.9,747.6 L808.8,761.8 L809.7,763.9 L810.8,755.7 L812.0,755.7 L813.2,767.3 L814.3,776.7 L815.3,775.8 L816.3,768.1 L817.2,763.9 L818.1,768.2 L819.0,777.9 L819.9,768.6 L820.7,759.2 L821.6,769.1 L822.5,773.2 L823.4,768.5 L824.2,768.5 L825.4,765.9 L826.6,749.9 L827.7,758.3 L828.9,772.0 L830.0,756.9 L831.2,767.9 L832.4,775.5 L833.5,756.9 L834.5,756.9 L835.5,756.9 L836.5,756.9 L837.6,766.9 L838.8,770.9 L839.8,769.3 L840.7,754.8 L841.7,754.6 L842.7,759.9 L843.6,766.9 L844.6,768.5 L845.5,758.5 L846.3,745.7 L847.2,742.9 L848.2,764.3 L849.3,770.9 L850.4,764.8 L851.6,763.8 L852.8,751.1 L853.9,775.5 L855.1,750.0 L856.3,734.8 L857.1,761.3 L858.0,768.5 L859.2,760.4 L860.3,760.4 L861.3,755.4 L862.3,752.3 L863.3,748.7 L864.2,747.1 L865.2,752.5 L866.2,746.4 L867.3,764.0 L868.5,780.2 L869.7,726.6 L870.5,754.0 L871.4,765.1 L872.6,742.9 L873.7,746.7 L874.9,742.9 L876.1,749.6 L877.2,760.4 L878.2,746.2 L879.2,742.4 L880.1,725.4 L881.3,740.5 L882.5,761.6 L883.4,759.2 L884.4,759.2 L885.4,759.2 L886.6,767.1 L887.7,758.1 L888.9,750.5 L890.1,742.9 L890.9,761.9 L891.8,768.5 L892.7,758.1 L893.5,756.9 L894.7,757.8 L895.9,761.6 L897.0,754.6 L898.2,745.2 L899.1,751.2 L900.0,761.6 L900.5,763.9 L901.5,757.9 L902.5,758.3 L903.5,746.4 L904.4,749.4 L905.2,767.4 L906.1,764.1 L907.0,744.1 L908.2,760.7 L909.3,756.9 L910.5,753.0 L911.7,739.4 L912.5,758.3 L913.4,761.6 L914.3,758.1 L915.1,749.9 L916.3,757.3 L917.5,768.5 L918.6,761.1 L919.8,749.9 L921.0,733.6 L922.1,733.6 L923.3,748.5 L924.5,754.6 L925.3,745.2 L926.2,745.2 L927.1,753.5 L928.0,776.7 L928.9,762.8 L929.9,743.6 L930.9,737.1 L932.0,749.8 L933.2,737.1 L934.1,741.0 L935.0,763.9 L936.1,762.4 L937.3,759.2 L938.4,765.1 L939.6,766.2 L940.5,746.4 L941.3,745.5 L942.2,731.3 L943.2,750.7 L944.3,746.4 L945.4,757.9 L946.6,746.4 L947.8,749.4 L948.9,763.9 L950.1,761.1 L951.3,742.7 L952.4,737.1 L953.6,758.7 L954.8,761.6 L955.9,749.9 L957.1,731.8 L958.3,731.3 L959.4,741.7 L960.6,772.0 L961.7,769.5 L962.9,763.9 L964.1,769.4 L965.2,780.2 L966.1,754.0 L967.0,740.6 L968.2,756.8 L969.3,761.6 L970.5,757.9 L971.7,753.4 L972.8,753.4 L974.0,760.4 L975.1,744.1 L976.3,744.1 L977.2,753.9 L978.1,766.2 L979.2,754.0 L980.4,756.1 L981.6,732.4 L982.7,734.2 L983.9,753.4 L985.1,738.3 L986.2,738.3 L987.1,740.6 L988.0,746.4 L988.7,741.7 L989.5,719.6 L990.9,754.6" fill="none" stroke="#6aa860" stroke-width="0.9" stroke-linejoin="round"/>
<path d="M582.3,786.4 L583.2,785.9 L584.1,786.3 L585.0,785.6 L585.9,785.6 L586.7,784.9 L587.4,783.0 L588.2,784.0 L589.0,784.9 L589.8,783.0 L590.5,783.0 L591.3,784.9 L592.1,786.1 L593.1,786.1 L594.1,786.4 L595.1,786.1 L596.1,786.1 L597.1,786.4 L598.2,786.4 L599.2,786.1 L600.2,786.1 L601.2,786.1 L602.2,786.2 L603.2,786.1 L604.2,786.4 L605.2,786.3 L606.2,786.4 L607.3,786.1 L608.3,786.1 L609.3,786.1 L610.3,786.1 L611.3,786.3 L612.3,786.2 L613.3,786.1 L614.3,786.1 L615.4,786.3 L616.4,786.3 L617.4,786.2 L618.4,786.1 L619.4,786.3 L620.4,786.4 L621.4,786.1 L622.4,786.1 L623.4,786.1 L624.5,786.5 L625.5,786.3 L626.5,786.4 L627.5,786.2 L628.5,786.1 L629.5,786.1 L630.5,786.1 L631.5,786.2 L632.5,786.1 L633.6,786.1 L634.6,786.2 L635.6,786.1 L636.7,784.9 L637.9,783.3 L639.1,784.0 L640.2,785.6 L641.0,784.8 L641.8,783.3 L643.0,784.8 L644.1,786.1 L645.2,786.2 L646.3,786.1 L647.4,786.1 L648.5,786.4 L649.6,786.1 L650.7,785.7 L651.9,783.3 L653.1,783.3 L654.2,784.1 L655.4,783.8 L656.6,780.2 L657.3,779.4 L658.1,779.4 L658.9,783.8 L659.7,786.1 L660.7,786.1 L661.6,786.2 L662.6,786.1 L663.6,786.4 L664.6,786.2 L665.6,786.1 L666.6,786.3 L667.6,786.1 L668.6,786.1 L669.6,786.1 L670.6,786.1 L671.6,786.1 L672.6,786.1 L673.6,786.1 L674.6,786.2 L675.6,786.4 L676.5,786.1 L677.5,786.1 L678.5,786.3 L679.5,786.2 L680.5,786.3 L681.5,786.1 L682.5,786.4 L683.5,786.1 L684.5,786.5 L685.5,786.2 L686.5,786.1 L687.5,786.1 L688.5,786.4 L689.5,786.5 L690.5,786.1 L691.5,786.4 L692.4,786.3 L693.4,786.1 L694.4,786.3 L695.4,786.5 L696.4,786.1 L697.4,786.1 L698.4,786.1 L699.4,786.4 L700.4,786.1 L701.4,786.1 L702.4,786.1 L703.4,785.1 L704.4,784.8 L705.5,783.3 L706.7,783.5 L707.8,785.6 L709.0,784.8 L710.1,783.3 L711.3,784.7 L712.5,786.1 L713.5,786.4 L714.5,786.1 L715.6,786.1 L716.6,786.1 L717.7,786.1 L718.7,786.1 L719.9,785.0 L721.0,783.3 L722.2,784.8 L723.3,786.1 L724.5,786.1 L725.7,786.1 L726.8,784.6 L728.0,779.4 L728.8,781.7 L729.6,785.6 L730.6,785.3 L731.6,786.2 L732.6,786.0 L733.6,785.2 L734.6,785.7 L735.6,786.0 L736.6,785.2 L737.6,784.7 L738.6,785.6 L739.6,785.2 L740.6,785.3 L741.6,785.2 L742.6,785.1 L743.6,784.6 L744.7,784.7 L745.7,784.6 L746.7,784.9 L747.7,784.7 L748.7,784.7 L749.7,784.7 L750.7,784.8 L751.7,784.6 L752.7,785.8 L753.7,785.6 L754.7,784.7 L755.7,785.1 L756.7,785.4 L757.7,784.6 L758.7,785.4 L759.7,784.4 L760.7,785.2 L761.7,784.0 L762.8,785.1 L763.8,783.8 L764.8,785.1 L765.8,784.1 L766.8,785.4 L767.8,784.6 L768.8,784.9 L769.8,783.8 L770.8,784.1 L771.8,784.4 L772.8,785.4 L773.8,784.4 L774.8,785.1 L775.8,785.4 L776.8,783.9 L777.8,784.3 L778.8,783.7 L779.9,783.7 L780.9,785.4 L781.9,783.7 L782.9,784.2 L783.9,783.7 L784.9,784.7 L785.9,784.3 L786.9,783.7 L787.9,784.8 L788.9,784.4 L789.9,784.5 L790.9,784.5 L791.9,783.9 L792.9,784.0 L793.9,783.7 L794.9,784.6 L795.9,784.6 L797.0,784.5 L798.0,785.3 L799.0,784.3 L800.0,784.3 L801.0,785.0 L802.0,783.7 L803.0,785.0 L804.0,783.7 L805.0,783.7 L805.9,781.4 L806.9,781.8 L807.8,783.1 L808.7,782.8 L809.7,780.2 L810.8,783.6 L812.0,783.8 L813.2,783.7 L814.1,781.6 L815.0,780.9 L816.0,779.6 L816.9,781.2 L817.8,779.6 L819.0,780.3 L820.1,780.5 L821.3,782.5 L822.4,782.5 L823.4,782.5 L824.5,784.6 L825.5,782.5 L826.6,783.1 L827.6,781.9 L828.6,782.4 L829.6,781.4 L830.5,777.7 L831.5,776.7 L832.5,781.5 L833.5,776.7 L834.5,780.8 L835.5,783.2 L836.5,782.5 L837.6,781.5 L838.8,781.4 L840.0,781.4 L841.1,776.2 L842.3,773.2 L843.3,779.3 L844.2,780.0 L845.2,782.5 L846.2,776.8 L847.1,778.0 L848.1,773.2 L849.3,778.9 L850.4,780.8 L851.6,781.4 L852.5,776.9 L853.5,779.1 L854.4,772.0 L855.3,770.5 L856.3,769.7 L857.4,769.7 L858.6,781.2 L859.8,781.4 L860.7,780.5 L861.6,772.5 L862.6,774.4 L863.5,777.6 L864.4,769.7 L865.6,779.9 L866.7,782.5 L867.6,777.7 L868.5,762.3 L869.3,756.9 L870.2,766.3 L871.1,774.7 L872.0,773.2 L873.0,773.7 L873.9,763.9 L874.9,763.9 L875.9,764.4 L876.8,772.7 L877.8,776.7 L879.0,774.7 L880.1,766.2 L881.1,776.2 L882.1,778.5 L883.1,777.9 L884.2,773.2 L885.4,773.5 L886.6,773.2 L887.7,781.0 L888.9,777.5 L890.1,782.5 L891.2,773.1 L892.4,773.1 L893.5,766.2 L894.7,766.2 L895.9,778.6 L897.0,782.5 L898.2,776.6 L899.4,767.4 L900.4,769.7 L901.3,768.7 L902.3,769.7 L902.9,770.9 L903.9,770.8 L904.9,771.6 L906.0,773.1 L907.0,762.7 L908.2,773.4 L909.3,777.9 L910.5,773.0 L911.7,769.7 L912.8,769.7 L914.0,776.7 L915.1,782.5 L916.3,779.7 L917.5,777.9 L918.6,774.4 L919.6,780.1 L920.6,778.6 L921.6,782.5 L922.5,775.9 L923.5,775.7 L924.5,769.7 L925.6,771.1 L926.8,775.6 L928.0,782.5 L929.1,780.1 L930.3,780.6 L931.5,772.0 L932.6,770.9 L933.8,770.9 L934.8,774.6 L935.7,781.8 L936.7,782.5 L937.9,782.9 L939.0,783.7 L940.2,784.9 L941.1,778.2 L941.9,773.2 L943.1,775.3 L944.3,779.9 L945.4,783.7 L946.6,785.5 L947.8,784.6 L948.9,786.0 L950.1,783.7 L951.3,780.6 L952.4,780.2 L953.6,781.7 L954.8,782.7 L955.9,784.9 L956.9,784.9 L957.9,784.9 L958.8,785.6 L959.8,785.2 L960.8,784.9 L961.7,784.9 L962.7,784.0 L963.7,782.0 L964.7,781.6 L965.6,777.6 L966.6,781.1 L967.6,776.7 L968.7,780.8 L969.9,784.0 L971.1,784.9 L972.0,785.7 L972.9,785.1 L973.9,784.9 L974.8,785.5 L975.7,784.9 L976.7,784.9 L977.7,784.9 L978.6,785.2 L979.6,786.2 L980.6,786.3 L981.6,786.0 L982.7,780.7 L983.9,779.8 L985.1,773.2 L986.2,773.2 L987.4,776.6 L988.5,780.2 L989.5,771.2 L990.5,773.1 L991.5,767.4 L991.5,787 L582.3,787 Z" fill="rgba(74,144,226,0.5)" stroke="none" />
<path d="M582.3,786.4 L583.2,785.9 L584.1,786.3 L585.0,785.6 L585.9,785.6 L586.7,784.9 L587.4,783.0 L588.2,784.0 L589.0,784.9 L589.8,783.0 L590.5,783.0 L591.3,784.9 L592.1,786.1 L593.1,786.1 L594.1,786.4 L595.1,786.1 L596.1,786.1 L597.1,786.4 L598.2,786.4 L599.2,786.1 L600.2,786.1 L601.2,786.1 L602.2,786.2 L603.2,786.1 L604.2,786.4 L605.2,786.3 L606.2,786.4 L607.3,786.1 L608.3,786.1 L609.3,786.1 L610.3,786.1 L611.3,786.3 L612.3,786.2 L613.3,786.1 L614.3,786.1 L615.4,786.3 L616.4,786.3 L617.4,786.2 L618.4,786.1 L619.4,786.3 L620.4,786.4 L621.4,786.1 L622.4,786.1 L623.4,786.1 L624.5,786.5 L625.5,786.3 L626.5,786.4 L627.5,786.2 L628.5,786.1 L629.5,786.1 L630.5,786.1 L631.5,786.2 L632.5,786.1 L633.6,786.1 L634.6,786.2 L635.6,786.1 L636.7,784.9 L637.9,783.3 L639.1,784.0 L640.2,785.6 L641.0,784.8 L641.8,783.3 L643.0,784.8 L644.1,786.1 L645.2,786.2 L646.3,786.1 L647.4,786.1 L648.5,786.4 L649.6,786.1 L650.7,785.7 L651.9,783.3 L653.1,783.3 L654.2,784.1 L655.4,783.8 L656.6,780.2 L657.3,779.4 L658.1,779.4 L658.9,783.8 L659.7,786.1 L660.7,786.1 L661.6,786.2 L662.6,786.1 L663.6,786.4 L664.6,786.2 L665.6,786.1 L666.6,786.3 L667.6,786.1 L668.6,786.1 L669.6,786.1 L670.6,786.1 L671.6,786.1 L672.6,786.1 L673.6,786.1 L674.6,786.2 L675.6,786.4 L676.5,786.1 L677.5,786.1 L678.5,786.3 L679.5,786.2 L680.5,786.3 L681.5,786.1 L682.5,786.4 L683.5,786.1 L684.5,786.5 L685.5,786.2 L686.5,786.1 L687.5,786.1 L688.5,786.4 L689.5,786.5 L690.5,786.1 L691.5,786.4 L692.4,786.3 L693.4,786.1 L694.4,786.3 L695.4,786.5 L696.4,786.1 L697.4,786.1 L698.4,786.1 L699.4,786.4 L700.4,786.1 L701.4,786.1 L702.4,786.1 L703.4,785.1 L704.4,784.8 L705.5,783.3 L706.7,783.5 L707.8,785.6 L709.0,784.8 L710.1,783.3 L711.3,784.7 L712.5,786.1 L713.5,786.4 L714.5,786.1 L715.6,786.1 L716.6,786.1 L717.7,786.1 L718.7,786.1 L719.9,785.0 L721.0,783.3 L722.2,784.8 L723.3,786.1 L724.5,786.1 L725.7,786.1 L726.8,784.6 L728.0,779.4 L728.8,781.7 L729.6,785.6 L730.6,785.3 L731.6,786.2 L732.6,786.0 L733.6,785.2 L734.6,785.7 L735.6,786.0 L736.6,785.2 L737.6,784.7 L738.6,785.6 L739.6,785.2 L740.6,785.3 L741.6,785.2 L742.6,785.1 L743.6,784.6 L744.7,784.7 L745.7,784.6 L746.7,784.9 L747.7,784.7 L748.7,784.7 L749.7,784.7 L750.7,784.8 L751.7,784.6 L752.7,785.8 L753.7,785.6 L754.7,784.7 L755.7,785.1 L756.7,785.4 L757.7,784.6 L758.7,785.4 L759.7,784.4 L760.7,785.2 L761.7,784.0 L762.8,785.1 L763.8,783.8 L764.8,785.1 L765.8,784.1 L766.8,785.4 L767.8,784.6 L768.8,784.9 L769.8,783.8 L770.8,784.1 L771.8,784.4 L772.8,785.4 L773.8,784.4 L774.8,785.1 L775.8,785.4 L776.8,783.9 L777.8,784.3 L778.8,783.7 L779.9,783.7 L780.9,785.4 L781.9,783.7 L782.9,784.2 L783.9,783.7 L784.9,784.7 L785.9,784.3 L786.9,783.7 L787.9,784.8 L788.9,784.4 L789.9,784.5 L790.9,784.5 L791.9,783.9 L792.9,784.0 L793.9,783.7 L794.9,784.6 L795.9,784.6 L797.0,784.5 L798.0,785.3 L799.0,784.3 L800.0,784.3 L801.0,785.0 L802.0,783.7 L803.0,785.0 L804.0,783.7 L805.0,783.7 L805.9,781.4 L806.9,781.8 L807.8,783.1 L808.7,782.8 L809.7,780.2 L810.8,783.6 L812.0,783.8 L813.2,783.7 L814.1,781.6 L815.0,780.9 L816.0,779.6 L816.9,781.2 L817.8,779.6 L819.0,780.3 L820.1,780.5 L821.3,782.5 L822.4,782.5 L823.4,782.5 L824.5,784.6 L825.5,782.5 L826.6,783.1 L827.6,781.9 L828.6,782.4 L829.6,781.4 L830.5,777.7 L831.5,776.7 L832.5,781.5 L833.5,776.7 L834.5,780.8 L835.5,783.2 L836.5,782.5 L837.6,781.5 L838.8,781.4 L840.0,781.4 L841.1,776.2 L842.3,773.2 L843.3,779.3 L844.2,780.0 L845.2,782.5 L846.2,776.8 L847.1,778.0 L848.1,773.2 L849.3,778.9 L850.4,780.8 L851.6,781.4 L852.5,776.9 L853.5,779.1 L854.4,772.0 L855.3,770.5 L856.3,769.7 L857.4,769.7 L858.6,781.2 L859.8,781.4 L860.7,780.5 L861.6,772.5 L862.6,774.4 L863.5,777.6 L864.4,769.7 L865.6,779.9 L866.7,782.5 L867.6,777.7 L868.5,762.3 L869.3,756.9 L870.2,766.3 L871.1,774.7 L872.0,773.2 L873.0,773.7 L873.9,763.9 L874.9,763.9 L875.9,764.4 L876.8,772.7 L877.8,776.7 L879.0,774.7 L880.1,766.2 L881.1,776.2 L882.1,778.5 L883.1,777.9 L884.2,773.2 L885.4,773.5 L886.6,773.2 L887.7,781.0 L888.9,777.5 L890.1,782.5 L891.2,773.1 L892.4,773.1 L893.5,766.2 L894.7,766.2 L895.9,778.6 L897.0,782.5 L898.2,776.6 L899.4,767.4 L900.4,769.7 L901.3,768.7 L902.3,769.7 L902.9,770.9 L903.9,770.8 L904.9,771.6 L906.0,773.1 L907.0,762.7 L908.2,773.4 L909.3,777.9 L910.5,773.0 L911.7,769.7 L912.8,769.7 L914.0,776.7 L915.1,782.5 L916.3,779.7 L917.5,777.9 L918.6,774.4 L919.6,780.1 L920.6,778.6 L921.6,782.5 L922.5,775.9 L923.5,775.7 L924.5,769.7 L925.6,771.1 L926.8,775.6 L928.0,782.5 L929.1,780.1 L930.3,780.6 L931.5,772.0 L932.6,770.9 L933.8,770.9 L934.8,774.6 L935.7,781.8 L936.7,782.5 L937.9,782.9 L939.0,783.7 L940.2,784.9 L941.1,778.2 L941.9,773.2 L943.1,775.3 L944.3,779.9 L945.4,783.7 L946.6,785.5 L947.8,784.6 L948.9,786.0 L950.1,783.7 L951.3,780.6 L952.4,780.2 L953.6,781.7 L954.8,782.7 L955.9,784.9 L956.9,784.9 L957.9,784.9 L958.8,785.6 L959.8,785.2 L960.8,784.9 L961.7,784.9 L962.7,784.0 L963.7,782.0 L964.7,781.6 L965.6,777.6 L966.6,781.1 L967.6,776.7 L968.7,780.8 L969.9,784.0 L971.1,784.9 L972.0,785.7 L972.9,785.1 L973.9,784.9 L974.8,785.5 L975.7,784.9 L976.7,784.9 L977.7,784.9 L978.6,785.2 L979.6,786.2 L980.6,786.3 L981.6,786.0 L982.7,780.7 L983.9,779.8 L985.1,773.2 L986.2,773.2 L987.4,776.6 L988.5,780.2 L989.5,771.2 L990.5,773.1 L991.5,767.4" fill="none" stroke="#3d8ced" stroke-width="1.3" stroke-linejoin="round"/>
<path d="M582.3,786.4 L627.0,786.4 L629.4,783.3 L631.7,786.4 L669.8,786.4 L672.1,783.3 L674.4,786.4 L690.7,786.4 L693.1,783.6 L695.4,786.4 L805.0,786.3 L877.2,786.3 L879.6,782.5 L881.9,786.3 L887.7,786.3 L889.5,783.7 L891.2,786.3 L919.2,786.3 L919.8,786.0 L921.5,782.5 L923.3,785.8 L925.0,786.0 L960.6,786.0 L962.9,783.5 L965.2,786.0 L991.5,786.3 L991.5,787 L582.3,787 Z" fill="rgba(217,52,43,0.6)" stroke="none" />
<path d="M582.3,786.4 L627.0,786.4 L629.4,783.3 L631.7,786.4 L669.8,786.4 L672.1,783.3 L674.4,786.4 L690.7,786.4 L693.1,783.6 L695.4,786.4 L805.0,786.3 L877.2,786.3 L879.6,782.5 L881.9,786.3 L887.7,786.3 L889.5,783.7 L891.2,786.3 L919.2,786.3 L919.8,786.0 L921.5,782.5 L923.3,785.8 L925.0,786.0 L960.6,786.0 L962.9,783.5 L965.2,786.0 L991.5,786.3" fill="none" stroke="#d33a3a" stroke-width="1.3" stroke-linejoin="round"/>
<line x1="582.5" y1="586" x2="582.5" y2="788" stroke="#4a4a4a" stroke-width="1"/>
<line x1="578" y1="787.5" x2="582.5" y2="787.5" stroke="#4a4a4a" stroke-width="1"/>
<text x="575.2" y="790.7" text-anchor="end">0</text>
<line x1="578" y1="753.5" x2="582.5" y2="753.5" stroke="#4a4a4a" stroke-width="1"/>
<text x="575.2" y="757.2" text-anchor="end">10</text>
<line x1="578" y1="720.5" x2="582.5" y2="720.5" stroke="#4a4a4a" stroke-width="1"/>
<text x="575.2" y="723.7" text-anchor="end">20</text>
<line x1="578" y1="686.5" x2="582.5" y2="686.5" stroke="#4a4a4a" stroke-width="1"/>
<text x="575.2" y="690.2" text-anchor="end">30</text>
<line x1="578" y1="653.5" x2="582.5" y2="653.5" stroke="#4a4a4a" stroke-width="1"/>
<text x="575.2" y="656.7" text-anchor="end">40</text>
<line x1="578" y1="619.5" x2="582.5" y2="619.5" stroke="#4a4a4a" stroke-width="1"/>
<text x="575.2" y="623.2" text-anchor="end">50</text>
<line x1="578" y1="586.5" x2="582.5" y2="586.5" stroke="#4a4a4a" stroke-width="1"/>
<text x="575.2" y="589.7" text-anchor="end">60</text>
<line x1="582" y1="787.5" x2="993" y2="787.5" stroke="#4a4a4a" stroke-width="1"/>
<line x1="582.5" y1="787" x2="582.5" y2="791" stroke="#4a4a4a" stroke-width="1"/>
<text x="582.5" y="802.0" text-anchor="middle">20200901</text>
<line x1="645.5" y1="787" x2="645.5" y2="791" stroke="#4a4a4a" stroke-width="1"/>
<text x="645.4" y="802.0" text-anchor="middle">20201029</text>
<line x1="708.5" y1="787" x2="708.5" y2="791" stroke="#4a4a4a" stroke-width="1"/>
<text x="708.3" y="802.0" text-anchor="middle">20201226</text>
<line x1="771.5" y1="787" x2="771.5" y2="791" stroke="#4a4a4a" stroke-width="1"/>
<text x="771.2" y="802.0" text-anchor="middle">20210222</text>
<line x1="833.5" y1="787" x2="833.5" y2="791" stroke="#4a4a4a" stroke-width="1"/>
<text x="834.1" y="802.0" text-anchor="middle">20210421</text>
<line x1="896.5" y1="787" x2="896.5" y2="791" stroke="#4a4a4a" stroke-width="1"/>
<text x="897.1" y="802.0" text-anchor="middle">20210618</text>
<line x1="959.5" y1="787" x2="959.5" y2="791" stroke="#4a4a4a" stroke-width="1"/>
<text x="960.0" y="802.0" text-anchor="middle">20210815</text>
<line x1="992.5" y1="787" x2="992.5" y2="791" stroke="#4a4a4a" stroke-width="1"/>
<rect x="55.5" y="867" width="408.5" height="201" fill="#85b6f3"/>
<path d="M55.0,905.8 L56.1,906.5 L57.2,900.0 L58.2,903.1 L59.3,897.5 L60.4,898.4 L61.5,899.6 L62.6,895.1 L63.7,893.8 L64.7,894.8 L65.8,892.6 L66.9,894.4 L68.0,899.8 L69.1,897.0 L70.1,898.5 L71.2,896.9 L72.3,900.6 L73.4,897.6 L74.5,896.9 L75.6,896.0 L76.6,895.8 L77.7,901.4 L78.8,906.5 L79.9,904.8 L81.0,903.8 L82.1,905.5 L83.1,904.9 L84.2,903.8 L85.3,907.1 L86.4,902.3 L87.5,894.9 L88.5,901.7 L89.6,899.7 L90.7,898.9 L91.8,897.0 L92.9,894.9 L94.0,893.4 L95.0,893.1 L96.1,889.2 L97.2,888.9 L98.3,890.8 L99.4,889.8 L100.4,890.3 L101.5,892.2 L102.6,889.4 L103.7,889.1 L104.8,887.2 L105.9,886.4 L106.9,886.9 L108.0,894.4 L109.1,889.8 L110.2,890.4 L111.3,893.2 L112.3,890.6 L113.4,891.0 L114.5,893.4 L115.6,895.4 L116.7,889.0 L117.8,888.5 L118.8,888.4 L119.9,888.2 L121.0,892.5 L122.1,891.9 L123.2,896.1 L124.2,899.3 L125.3,900.3 L126.4,896.9 L127.5,896.0 L128.6,892.7 L129.7,896.1 L130.7,903.2 L131.8,907.2 L132.9,897.8 L134.0,890.4 L135.1,889.6 L136.2,894.9 L137.2,897.2 L138.3,895.9 L139.4,896.0 L140.5,895.4 L141.6,900.6 L142.6,903.8 L143.7,900.1 L144.8,895.6 L145.9,893.5 L147.0,897.3 L148.1,896.8 L149.1,894.8 L150.2,896.4 L151.3,898.8 L152.4,898.2 L153.5,898.7 L154.5,899.5 L155.6,898.2 L156.7,898.0 L157.8,897.2 L158.9,897.9 L160.0,899.2 L161.0,896.8 L162.1,903.2 L163.2,903.0 L164.3,903.2 L165.4,906.2 L166.4,901.0 L167.5,898.0 L168.6,896.3 L169.7,895.9 L170.8,897.0 L171.9,896.1 L172.9,894.3 L174.0,893.9 L175.1,893.6 L176.2,892.6 L177.3,894.5 L178.3,891.1 L179.4,896.3 L180.5,891.2 L181.6,890.9 L182.7,888.1 L183.8,894.1 L184.8,896.1 L185.9,898.5 L187.0,900.5 L188.1,896.9 L189.2,897.5 L190.3,901.5 L191.3,902.1 L192.4,899.1 L193.5,896.6 L194.6,893.9 L195.7,895.2 L196.7,896.4 L197.8,898.0 L198.9,897.9 L200.0,897.5 L201.1,901.4 L202.2,899.6 L203.2,901.3 L204.3,899.2 L205.4,896.9 L206.5,896.6 L207.6,898.2 L208.6,901.3 L209.7,899.6 L210.8,899.8 L211.9,901.0 L213.0,899.2 L214.1,897.0 L215.1,896.8 L216.2,894.6 L217.3,898.9 L218.4,901.2 L219.5,897.2 L220.5,899.3 L221.6,896.0 L222.7,898.3 L223.8,891.3 L224.9,891.8 L226.0,891.2 L227.0,890.5 L228.1,883.2 L229.2,879.8 L230.3,884.0 L231.4,881.0 L232.4,878.7 L233.5,882.9 L234.6,886.2 L235.7,887.9 L236.8,889.0 L237.9,891.3 L238.9,890.6 L240.0,891.5 L241.1,893.6 L242.2,893.1 L243.3,892.0 L244.4,899.7 L245.4,905.0 L246.5,893.5 L247.6,882.9 L248.7,884.9 L249.8,881.7 L250.8,885.0 L251.9,885.2 L253.0,890.3 L254.1,888.9 L255.2,884.9 L256.3,886.8 L257.3,884.4 L258.4,885.4 L259.5,889.0 L260.6,892.5 L261.7,891.4 L262.7,888.0 L263.8,889.0 L264.9,886.7 L266.0,888.4 L267.1,889.3 L268.2,891.9 L269.2,890.3 L270.3,890.5 L271.4,889.0 L272.5,886.8 L273.6,888.9 L274.6,889.0 L275.7,884.6 L276.8,885.7 L277.9,885.4 L279.0,886.2 L280.1,889.5 L281.1,887.1 L282.2,886.8 L283.3,886.3 L284.4,885.9 L285.5,890.2 L286.6,885.3 L287.6,885.8 L288.7,886.9 L289.8,887.3 L290.9,890.2 L292.0,891.4 L293.0,889.1 L294.1,889.6 L295.2,891.3 L296.3,889.0 L297.4,892.4 L298.5,891.0 L299.5,888.4 L300.6,884.6 L301.7,881.5 L302.8,885.6 L303.9,884.9 L304.9,886.1 L306.0,887.9 L307.1,893.1 L308.2,889.6 L309.3,888.6 L310.4,888.1 L311.4,887.2 L312.5,891.2 L313.6,888.4 L314.7,886.5 L315.8,885.5 L316.8,886.1 L317.9,887.1 L319.0,886.7 L320.1,892.7 L321.2,892.6 L322.3,896.9 L323.3,893.9 L324.4,893.4 L325.5,893.9 L326.6,885.1 L327.7,888.7 L328.7,894.2 L329.8,893.9 L330.9,892.2 L332.0,890.3 L333.1,892.0 L334.2,892.2 L335.2,897.9 L336.3,895.1 L337.4,895.8 L338.5,898.6 L339.6,896.7 L340.7,903.8 L341.7,900.8 L342.8,900.3 L343.9,895.4 L345.0,898.6 L346.1,899.6 L347.1,902.0 L348.2,903.6 L349.3,905.5 L350.4,900.4 L351.5,906.1 L352.6,906.8 L353.6,909.1 L354.7,890.9 L355.8,894.9 L356.9,898.8 L358.0,900.0 L359.0,901.6 L360.1,896.7 L361.2,895.9 L362.3,897.6 L363.4,902.8 L364.5,902.8 L365.5,895.9 L366.6,891.7 L367.7,894.7 L368.8,901.2 L369.9,906.4 L370.9,901.7 L372.0,902.9 L373.1,900.4 L374.2,900.0 L375.3,901.1 L376.4,904.3 L377.4,904.5 L378.5,907.4 L379.6,905.8 L380.7,900.2 L381.8,900.8 L382.8,894.6 L383.9,898.4 L385.0,898.2 L386.1,901.3 L387.2,897.0 L388.3,891.7 L389.3,892.3 L390.4,896.5 L391.5,895.7 L392.6,901.6 L393.7,903.1 L394.8,904.6 L395.8,899.9 L396.9,900.1 L398.0,895.3 L399.1,896.0 L400.2,902.4 L401.2,905.0 L402.3,909.5 L403.4,897.3 L404.5,893.5 L405.6,891.3 L406.7,894.1 L407.7,897.9 L408.8,899.6 L409.9,894.9 L411.0,893.9 L412.1,888.2 L413.1,890.8 L414.2,890.7 L415.3,894.6 L416.4,890.1 L417.5,885.6 L418.6,889.9 L419.6,889.3 L420.7,894.4 L421.8,899.5 L422.9,899.8 L424.0,900.3 L425.0,903.1 L426.1,901.3 L427.2,898.8 L428.3,900.8 L429.4,896.5 L430.5,897.7 L431.5,897.4 L432.6,896.2 L433.7,891.0 L434.8,896.1 L435.9,896.9 L436.9,897.7 L438.0,896.6 L439.1,893.9 L440.2,895.4 L441.3,896.6 L442.4,894.8 L443.4,893.1 L444.5,895.0 L445.6,897.9 L446.7,897.1 L447.8,899.0 L448.9,897.3 L449.9,897.8 L451.0,892.7 L452.1,896.3 L453.2,898.3 L454.3,902.9 L455.3,896.1 L456.4,893.2 L457.5,894.6 L458.6,898.8 L459.7,897.5 L460.8,899.6 L461.8,896.4 L462.9,894.0 L464.0,893.5 L464.0,1068 L55.0,1068 Z" fill="#ed6c66" stroke="none" />
<path d="M55.0,905.8 L56.1,906.5 L57.2,900.0 L58.2,903.1 L59.3,897.5 L60.4,898.4 L61.5,899.6 L62.6,895.1 L63.7,893.8 L64.7,894.8 L65.8,892.6 L66.9,894.4 L68.0,899.8 L69.1,897.0 L70.1,898.5 L71.2,896.9 L72.3,900.6 L73.4,897.6 L74.5,896.9 L75.6,896.0 L76.6,895.8 L77.7,901.4 L78.8,906.5 L79.9,904.8 L81.0,903.8 L82.1,905.5 L83.1,904.9 L84.2,903.8 L85.3,907.1 L86.4,902.3 L87.5,894.9 L88.5,901.7 L89.6,899.7 L90.7,898.9 L91.8,897.0 L92.9,894.9 L94.0,893.4 L95.0,893.1 L96.1,889.2 L97.2,888.9 L98.3,890.8 L99.4,889.8 L100.4,890.3 L101.5,892.2 L102.6,889.4 L103.7,889.1 L104.8,887.2 L105.9,886.4 L106.9,886.9 L108.0,894.4 L109.1,889.8 L110.2,890.4 L111.3,893.2 L112.3,890.6 L113.4,891.0 L114.5,893.4 L115.6,895.4 L116.7,889.0 L117.8,888.5 L118.8,888.4 L119.9,888.2 L121.0,892.5 L122.1,891.9 L123.2,896.1 L124.2,899.3 L125.3,900.3 L126.4,896.9 L127.5,896.0 L128.6,892.7 L129.7,896.1 L130.7,903.2 L131.8,907.2 L132.9,897.8 L134.0,890.4 L135.1,889.6 L136.2,894.9 L137.2,897.2 L138.3,895.9 L139.4,896.0 L140.5,895.4 L141.6,900.6 L142.6,903.8 L143.7,900.1 L144.8,895.6 L145.9,893.5 L147.0,897.3 L148.1,896.8 L149.1,894.8 L150.2,896.4 L151.3,898.8 L152.4,898.2 L153.5,898.7 L154.5,899.5 L155.6,898.2 L156.7,898.0 L157.8,897.2 L158.9,897.9 L160.0,899.2 L161.0,896.8 L162.1,903.2 L163.2,903.0 L164.3,903.2 L165.4,906.2 L166.4,901.0 L167.5,898.0 L168.6,896.3 L169.7,895.9 L170.8,897.0 L171.9,896.1 L172.9,894.3 L174.0,893.9 L175.1,893.6 L176.2,892.6 L177.3,894.5 L178.3,891.1 L179.4,896.3 L180.5,891.2 L181.6,890.9 L182.7,888.1 L183.8,894.1 L184.8,896.1 L185.9,898.5 L187.0,900.5 L188.1,896.9 L189.2,897.5 L190.3,901.5 L191.3,902.1 L192.4,899.1 L193.5,896.6 L194.6,893.9 L195.7,895.2 L196.7,896.4 L197.8,898.0 L198.9,897.9 L200.0,897.5 L201.1,901.4 L202.2,899.6 L203.2,901.3 L204.3,899.2 L205.4,896.9 L206.5,896.6 L207.6,898.2 L208.6,901.3 L209.7,899.6 L210.8,899.8 L211.9,901.0 L213.0,899.2 L214.1,897.0 L215.1,896.8 L216.2,894.6 L217.3,898.9 L218.4,901.2 L219.5,897.2 L220.5,899.3 L221.6,896.0 L222.7,898.3 L223.8,891.3 L224.9,891.8 L226.0,891.2 L227.0,890.5 L228.1,883.2 L229.2,879.8 L230.3,884.0 L231.4,881.0 L232.4,878.7 L233.5,882.9 L234.6,886.2 L235.7,887.9 L236.8,889.0 L237.9,891.3 L238.9,890.6 L240.0,891.5 L241.1,893.6 L242.2,893.1 L243.3,892.0 L244.4,899.7 L245.4,905.0 L246.5,893.5 L247.6,882.9 L248.7,884.9 L249.8,881.7 L250.8,885.0 L251.9,885.2 L253.0,890.3 L254.1,888.9 L255.2,884.9 L256.3,886.8 L257.3,884.4 L258.4,885.4 L259.5,889.0 L260.6,892.5 L261.7,891.4 L262.7,888.0 L263.8,889.0 L264.9,886.7 L266.0,888.4 L267.1,889.3 L268.2,891.9 L269.2,890.3 L270.3,890.5 L271.4,889.0 L272.5,886.8 L273.6,888.9 L274.6,889.0 L275.7,884.6 L276.8,885.7 L277.9,885.4 L279.0,886.2 L280.1,889.5 L281.1,887.1 L282.2,886.8 L283.3,886.3 L284.4,885.9 L285.5,890.2 L286.6,885.3 L287.6,885.8 L288.7,886.9 L289.8,887.3 L290.9,890.2 L292.0,891.4 L293.0,889.1 L294.1,889.6 L295.2,891.3 L296.3,889.0 L297.4,892.4 L298.5,891.0 L299.5,888.4 L300.6,884.6 L301.7,881.5 L302.8,885.6 L303.9,884.9 L304.9,886.1 L306.0,887.9 L307.1,893.1 L308.2,889.6 L309.3,888.6 L310.4,888.1 L311.4,887.2 L312.5,891.2 L313.6,888.4 L314.7,886.5 L315.8,885.5 L316.8,886.1 L317.9,887.1 L319.0,886.7 L320.1,892.7 L321.2,892.6 L322.3,896.9 L323.3,893.9 L324.4,893.4 L325.5,893.9 L326.6,885.1 L327.7,888.7 L328.7,894.2 L329.8,893.9 L330.9,892.2 L332.0,890.3 L333.1,892.0 L334.2,892.2 L335.2,897.9 L336.3,895.1 L337.4,895.8 L338.5,898.6 L339.6,896.7 L340.7,903.8 L341.7,900.8 L342.8,900.3 L343.9,895.4 L345.0,898.6 L346.1,899.6 L347.1,902.0 L348.2,903.6 L349.3,905.5 L350.4,900.4 L351.5,906.1 L352.6,906.8 L353.6,909.1 L354.7,890.9 L355.8,894.9 L356.9,898.8 L358.0,900.0 L359.0,901.6 L360.1,896.7 L361.2,895.9 L362.3,897.6 L363.4,902.8 L364.5,902.8 L365.5,895.9 L366.6,891.7 L367.7,894.7 L368.8,901.2 L369.9,906.4 L370.9,901.7 L372.0,902.9 L373.1,900.4 L374.2,900.0 L375.3,901.1 L376.4,904.3 L377.4,904.5 L378.5,907.4 L379.6,905.8 L380.7,900.2 L381.8,900.8 L382.8,894.6 L383.9,898.4 L385.0,898.2 L386.1,901.3 L387.2,897.0 L388.3,891.7 L389.3,892.3 L390.4,896.5 L391.5,895.7 L392.6,901.6 L393.7,903.1 L394.8,904.6 L395.8,899.9 L396.9,900.1 L398.0,895.3 L399.1,896.0 L400.2,902.4 L401.2,905.0 L402.3,909.5 L403.4,897.3 L404.5,893.5 L405.6,891.3 L406.7,894.1 L407.7,897.9 L408.8,899.6 L409.9,894.9 L411.0,893.9 L412.1,888.2 L413.1,890.8 L414.2,890.7 L415.3,894.6 L416.4,890.1 L417.5,885.6 L418.6,889.9 L419.6,889.3 L420.7,894.4 L421.8,899.5 L422.9,899.8 L424.0,900.3 L425.0,903.1 L426.1,901.3 L427.2,898.8 L428.3,900.8 L429.4,896.5 L430.5,897.7 L431.5,897.4 L432.6,896.2 L433.7,891.0 L434.8,896.1 L435.9,896.9 L436.9,897.7 L438.0,896.6 L439.1,893.9 L440.2,895.4 L441.3,896.6 L442.4,894.8 L443.4,893.1 L444.5,895.0 L445.6,897.9 L446.7,897.1 L447.8,899.0 L448.9,897.3 L449.9,897.8 L451.0,892.7 L452.1,896.3 L453.2,898.3 L454.3,902.9 L455.3,896.1 L456.4,893.2 L457.5,894.6 L458.6,898.8 L459.7,897.5 L460.8,899.6 L461.8,896.4 L462.9,894.0 L464.0,893.5" fill="none" stroke="#c9463f" stroke-width="1" stroke-linejoin="round"/>
<path d="M55.0,939.9 L56.1,937.0 L57.2,931.5 L58.2,931.1 L59.3,927.2 L60.4,922.9 L61.5,922.3 L62.6,920.0 L63.7,922.0 L64.7,921.8 L65.8,924.5 L66.9,923.7 L68.0,924.5 L69.1,928.6 L70.1,929.3 L71.2,927.2 L72.3,926.6 L73.4,935.2 L74.5,932.5 L75.6,927.5 L76.6,924.2 L77.7,928.3 L78.8,932.1 L79.9,937.8 L81.0,940.7 L82.1,937.4 L83.1,934.6 L84.2,937.4 L85.3,935.9 L86.4,927.2 L87.5,928.1 L88.5,923.6 L89.6,928.4 L90.7,929.8 L91.8,924.2 L92.9,911.1 L94.0,911.4 L95.0,908.5 L96.1,911.9 L97.2,915.1 L98.3,917.1 L99.4,912.1 L100.4,910.1 L101.5,913.0 L102.6,911.5 L103.7,909.7 L104.8,910.1 L105.9,911.2 L106.9,915.7 L108.0,917.4 L109.1,912.8 L110.2,911.4 L111.3,912.3 L112.3,915.0 L113.4,916.8 L114.5,915.1 L115.6,914.7 L116.7,912.5 L117.8,909.1 L118.8,909.2 L119.9,912.6 L121.0,916.5 L122.1,916.8 L123.2,921.3 L124.2,921.2 L125.3,921.0 L126.4,923.2 L127.5,917.8 L128.6,924.1 L129.7,925.8 L130.7,929.9 L131.8,935.8 L132.9,932.2 L134.0,920.1 L135.1,919.5 L136.2,925.0 L137.2,922.0 L138.3,925.9 L139.4,926.6 L140.5,928.2 L141.6,930.1 L142.6,928.6 L143.7,924.6 L144.8,922.4 L145.9,917.2 L147.0,918.3 L148.1,912.5 L149.1,914.3 L150.2,919.9 L151.3,919.7 L152.4,925.0 L153.5,923.3 L154.5,925.9 L155.6,923.7 L156.7,925.1 L157.8,919.5 L158.9,924.9 L160.0,932.0 L161.0,930.0 L162.1,928.2 L163.2,922.6 L164.3,930.1 L165.4,935.8 L166.4,937.0 L167.5,931.8 L168.6,924.5 L169.7,920.9 L170.8,923.6 L171.9,921.4 L172.9,917.1 L174.0,918.5 L175.1,913.9 L176.2,914.8 L177.3,909.3 L178.3,913.1 L179.4,908.6 L180.5,912.7 L181.6,914.7 L182.7,912.5 L183.8,918.2 L184.8,917.3 L185.9,922.6 L187.0,921.1 L188.1,923.6 L189.2,924.9 L190.3,918.8 L191.3,921.1 L192.4,922.2 L193.5,920.5 L194.6,918.6 L195.7,918.4 L196.7,921.0 L197.8,923.5 L198.9,920.8 L200.0,917.5 L201.1,921.9 L202.2,921.4 L203.2,918.0 L204.3,917.9 L205.4,913.1 L206.5,921.1 L207.6,920.8 L208.6,921.4 L209.7,922.1 L210.8,921.0 L211.9,920.9 L213.0,920.3 L214.1,920.8 L215.1,920.6 L216.2,914.8 L217.3,917.8 L218.4,919.0 L219.5,916.2 L220.5,916.2 L221.6,914.1 L222.7,916.4 L223.8,913.6 L224.9,910.8 L226.0,900.5 L227.0,905.4 L228.1,902.4 L229.2,898.2 L230.3,899.1 L231.4,896.1 L232.4,896.9 L233.5,900.7 L234.6,902.0 L235.7,902.3 L236.8,906.2 L237.9,908.6 L238.9,906.2 L240.0,912.1 L241.1,906.7 L242.2,912.2 L243.3,913.1 L244.4,918.0 L245.4,911.0 L246.5,902.7 L247.6,899.1 L248.7,897.2 L249.8,899.5 L250.8,902.6 L251.9,899.5 L253.0,898.3 L254.1,898.1 L255.2,897.9 L256.3,893.5 L257.3,903.5 L258.4,903.9 L259.5,901.5 L260.6,904.8 L261.7,903.4 L262.7,903.3 L263.8,905.5 L264.9,903.3 L266.0,908.4 L267.1,908.4 L268.2,913.1 L269.2,912.5 L270.3,912.0 L271.4,914.5 L272.5,911.5 L273.6,908.3 L274.6,904.7 L275.7,904.1 L276.8,909.2 L277.9,910.4 L279.0,914.9 L280.1,909.3 L281.1,912.2 L282.2,907.8 L283.3,910.1 L284.4,908.6 L285.5,908.3 L286.6,906.3 L287.6,907.8 L288.7,906.7 L289.8,907.5 L290.9,909.9 L292.0,905.6 L293.0,908.3 L294.1,904.2 L295.2,909.6 L296.3,905.5 L297.4,909.7 L298.5,907.7 L299.5,909.9 L300.6,905.1 L301.7,904.9 L302.8,907.9 L303.9,905.0 L304.9,907.0 L306.0,906.3 L307.1,909.7 L308.2,907.6 L309.3,905.3 L310.4,906.1 L311.4,906.4 L312.5,908.8 L313.6,909.8 L314.7,908.5 L315.8,908.2 L316.8,904.6 L317.9,903.4 L319.0,904.6 L320.1,908.7 L321.2,911.8 L322.3,912.4 L323.3,910.0 L324.4,907.8 L325.5,910.5 L326.6,907.4 L327.7,915.8 L328.7,917.2 L329.8,914.6 L330.9,916.6 L332.0,913.2 L333.1,909.9 L334.2,907.7 L335.2,915.3 L336.3,914.2 L337.4,918.4 L338.5,916.2 L339.6,921.3 L340.7,920.6 L341.7,923.0 L342.8,928.2 L343.9,928.8 L345.0,929.7 L346.1,927.8 L347.1,932.2 L348.2,930.7 L349.3,925.5 L350.4,928.5 L351.5,933.2 L352.6,934.6 L353.6,932.7 L354.7,927.2 L355.8,928.0 L356.9,923.0 L358.0,925.2 L359.0,920.3 L360.1,923.5 L361.2,919.2 L362.3,921.5 L363.4,928.3 L364.5,931.2 L365.5,930.9 L366.6,926.7 L367.7,923.3 L368.8,924.8 L369.9,927.0 L370.9,927.8 L372.0,929.5 L373.1,927.8 L374.2,928.2 L375.3,927.0 L376.4,929.2 L377.4,932.4 L378.5,931.9 L379.6,934.5 L380.7,928.2 L381.8,926.1 L382.8,921.1 L383.9,922.4 L385.0,919.7 L386.1,922.8 L387.2,921.0 L388.3,920.4 L389.3,926.6 L390.4,923.3 L391.5,923.5 L392.6,927.8 L393.7,925.8 L394.8,930.6 L395.8,927.5 L396.9,926.7 L398.0,921.3 L399.1,921.5 L400.2,927.1 L401.2,924.2 L402.3,919.0 L403.4,918.8 L404.5,918.6 L405.6,924.9 L406.7,928.1 L407.7,925.8 L408.8,923.2 L409.9,916.6 L411.0,911.7 L412.1,909.5 L413.1,907.9 L414.2,912.9 L415.3,913.3 L416.4,913.9 L417.5,909.9 L418.6,909.2 L419.6,909.1 L420.7,914.4 L421.8,916.9 L422.9,922.1 L424.0,927.0 L425.0,925.0 L426.1,925.3 L427.2,923.9 L428.3,921.3 L429.4,920.0 L430.5,923.3 L431.5,920.5 L432.6,920.8 L433.7,922.2 L434.8,927.8 L435.9,922.2 L436.9,916.7 L438.0,917.9 L439.1,920.3 L440.2,924.9 L441.3,920.7 L442.4,913.1 L443.4,914.0 L444.5,918.4 L445.6,922.3 L446.7,926.1 L447.8,927.6 L448.9,922.6 L449.9,926.7 L451.0,922.0 L452.1,923.1 L453.2,926.8 L454.3,927.0 L455.3,931.5 L456.4,931.3 L457.5,926.7 L458.6,924.6 L459.7,927.7 L460.8,924.2 L461.8,919.8 L462.9,917.3 L464.0,918.3 L464.0,1068 L55.0,1068 Z" fill="#a5cd9c" stroke="none" />
<path d="M55.0,939.9 L56.1,937.0 L57.2,931.5 L58.2,931.1 L59.3,927.2 L60.4,922.9 L61.5,922.3 L62.6,920.0 L63.7,922.0 L64.7,921.8 L65.8,924.5 L66.9,923.7 L68.0,924.5 L69.1,928.6 L70.1,929.3 L71.2,927.2 L72.3,926.6 L73.4,935.2 L74.5,932.5 L75.6,927.5 L76.6,924.2 L77.7,928.3 L78.8,932.1 L79.9,937.8 L81.0,940.7 L82.1,937.4 L83.1,934.6 L84.2,937.4 L85.3,935.9 L86.4,927.2 L87.5,928.1 L88.5,923.6 L89.6,928.4 L90.7,929.8 L91.8,924.2 L92.9,911.1 L94.0,911.4 L95.0,908.5 L96.1,911.9 L97.2,915.1 L98.3,917.1 L99.4,912.1 L100.4,910.1 L101.5,913.0 L102.6,911.5 L103.7,909.7 L104.8,910.1 L105.9,911.2 L106.9,915.7 L108.0,917.4 L109.1,912.8 L110.2,911.4 L111.3,912.3 L112.3,915.0 L113.4,916.8 L114.5,915.1 L115.6,914.7 L116.7,912.5 L117.8,909.1 L118.8,909.2 L119.9,912.6 L121.0,916.5 L122.1,916.8 L123.2,921.3 L124.2,921.2 L125.3,921.0 L126.4,923.2 L127.5,917.8 L128.6,924.1 L129.7,925.8 L130.7,929.9 L131.8,935.8 L132.9,932.2 L134.0,920.1 L135.1,919.5 L136.2,925.0 L137.2,922.0 L138.3,925.9 L139.4,926.6 L140.5,928.2 L141.6,930.1 L142.6,928.6 L143.7,924.6 L144.8,922.4 L145.9,917.2 L147.0,918.3 L148.1,912.5 L149.1,914.3 L150.2,919.9 L151.3,919.7 L152.4,925.0 L153.5,923.3 L154.5,925.9 L155.6,923.7 L156.7,925.1 L157.8,919.5 L158.9,924.9 L160.0,932.0 L161.0,930.0 L162.1,928.2 L163.2,922.6 L164.3,930.1 L165.4,935.8 L166.4,937.0 L167.5,931.8 L168.6,924.5 L169.7,920.9 L170.8,923.6 L171.9,921.4 L172.9,917.1 L174.0,918.5 L175.1,913.9 L176.2,914.8 L177.3,909.3 L178.3,913.1 L179.4,908.6 L180.5,912.7 L181.6,914.7 L182.7,912.5 L183.8,918.2 L184.8,917.3 L185.9,922.6 L187.0,921.1 L188.1,923.6 L189.2,924.9 L190.3,918.8 L191.3,921.1 L192.4,922.2 L193.5,920.5 L194.6,918.6 L195.7,918.4 L196.7,921.0 L197.8,923.5 L198.9,920.8 L200.0,917.5 L201.1,921.9 L202.2,921.4 L203.2,918.0 L204.3,917.9 L205.4,913.1 L206.5,921.1 L207.6,920.8 L208.6,921.4 L209.7,922.1 L210.8,921.0 L211.9,920.9 L213.0,920.3 L214.1,920.8 L215.1,920.6 L216.2,914.8 L217.3,917.8 L218.4,919.0 L219.5,916.2 L220.5,916.2 L221.6,914.1 L222.7,916.4 L223.8,913.6 L224.9,910.8 L226.0,900.5 L227.0,905.4 L228.1,902.4 L229.2,898.2 L230.3,899.1 L231.4,896.1 L232.4,896.9 L233.5,900.7 L234.6,902.0 L235.7,902.3 L236.8,906.2 L237.9,908.6 L238.9,906.2 L240.0,912.1 L241.1,906.7 L242.2,912.2 L243.3,913.1 L244.4,918.0 L245.4,911.0 L246.5,902.7 L247.6,899.1 L248.7,897.2 L249.8,899.5 L250.8,902.6 L251.9,899.5 L253.0,898.3 L254.1,898.1 L255.2,897.9 L256.3,893.5 L257.3,903.5 L258.4,903.9 L259.5,901.5 L260.6,904.8 L261.7,903.4 L262.7,903.3 L263.8,905.5 L264.9,903.3 L266.0,908.4 L267.1,908.4 L268.2,913.1 L269.2,912.5 L270.3,912.0 L271.4,914.5 L272.5,911.5 L273.6,908.3 L274.6,904.7 L275.7,904.1 L276.8,909.2 L277.9,910.4 L279.0,914.9 L280.1,909.3 L281.1,912.2 L282.2,907.8 L283.3,910.1 L284.4,908.6 L285.5,908.3 L286.6,906.3 L287.6,907.8 L288.7,906.7 L289.8,907.5 L290.9,909.9 L292.0,905.6 L293.0,908.3 L294.1,904.2 L295.2,909.6 L296.3,905.5 L297.4,909.7 L298.5,907.7 L299.5,909.9 L300.6,905.1 L301.7,904.9 L302.8,907.9 L303.9,905.0 L304.9,907.0 L306.0,906.3 L307.1,909.7 L308.2,907.6 L309.3,905.3 L310.4,906.1 L311.4,906.4 L312.5,908.8 L313.6,909.8 L314.7,908.5 L315.8,908.2 L316.8,904.6 L317.9,903.4 L319.0,904.6 L320.1,908.7 L321.2,911.8 L322.3,912.4 L323.3,910.0 L324.4,907.8 L325.5,910.5 L326.6,907.4 L327.7,915.8 L328.7,917.2 L329.8,914.6 L330.9,916.6 L332.0,913.2 L333.1,909.9 L334.2,907.7 L335.2,915.3 L336.3,914.2 L337.4,918.4 L338.5,916.2 L339.6,921.3 L340.7,920.6 L341.7,923.0 L342.8,928.2 L343.9,928.8 L345.0,929.7 L346.1,927.8 L347.1,932.2 L348.2,930.7 L349.3,925.5 L350.4,928.5 L351.5,933.2 L352.6,934.6 L353.6,932.7 L354.7,927.2 L355.8,928.0 L356.9,923.0 L358.0,925.2 L359.0,920.3 L360.1,923.5 L361.2,919.2 L362.3,921.5 L363.4,928.3 L364.5,931.2 L365.5,930.9 L366.6,926.7 L367.7,923.3 L368.8,924.8 L369.9,927.0 L370.9,927.8 L372.0,929.5 L373.1,927.8 L374.2,928.2 L375.3,927.0 L376.4,929.2 L377.4,932.4 L378.5,931.9 L379.6,934.5 L380.7,928.2 L381.8,926.1 L382.8,921.1 L383.9,922.4 L385.0,919.7 L386.1,922.8 L387.2,921.0 L388.3,920.4 L389.3,926.6 L390.4,923.3 L391.5,923.5 L392.6,927.8 L393.7,925.8 L394.8,930.6 L395.8,927.5 L396.9,926.7 L398.0,921.3 L399.1,921.5 L400.2,927.1 L401.2,924.2 L402.3,919.0 L403.4,918.8 L404.5,918.6 L405.6,924.9 L406.7,928.1 L407.7,925.8 L408.8,923.2 L409.9,916.6 L411.0,911.7 L412.1,909.5 L413.1,907.9 L414.2,912.9 L415.3,913.3 L416.4,913.9 L417.5,909.9 L418.6,909.2 L419.6,909.1 L420.7,914.4 L421.8,916.9 L422.9,922.1 L424.0,927.0 L425.0,925.0 L426.1,925.3 L427.2,923.9 L428.3,921.3 L429.4,920.0 L430.5,923.3 L431.5,920.5 L432.6,920.8 L433.7,922.2 L434.8,927.8 L435.9,922.2 L436.9,916.7 L438.0,917.9 L439.1,920.3 L440.2,924.9 L441.3,920.7 L442.4,913.1 L443.4,914.0 L444.5,918.4 L445.6,922.3 L446.7,926.1 L447.8,927.6 L448.9,922.6 L449.9,926.7 L451.0,922.0 L452.1,923.1 L453.2,926.8 L454.3,927.0 L455.3,931.5 L456.4,931.3 L457.5,926.7 L458.6,924.6 L459.7,927.7 L460.8,924.2 L461.8,919.8 L462.9,917.3 L464.0,918.3" fill="none" stroke="#4f9445" stroke-width="1" stroke-linejoin="round"/>
<path d="M55.0,952.8 L56.1,953.1 L57.2,954.3 L58.2,950.8 L59.3,942.6 L60.4,944.9 L61.5,940.0 L62.6,937.3 L63.7,938.3 L64.7,943.7 L65.8,940.3 L66.9,945.4 L68.0,947.6 L69.1,948.5 L70.1,945.4 L71.2,944.3 L72.3,940.2 L73.4,948.8 L74.5,955.4 L75.6,948.8 L76.6,941.3 L77.7,942.6 L78.8,948.8 L79.9,953.8 L81.0,958.7 L82.1,951.7 L83.1,947.2 L84.2,948.1 L85.3,948.5 L86.4,943.5 L87.5,943.0 L88.5,942.8 L89.6,942.1 L90.7,942.4 L91.8,929.8 L92.9,924.8 L94.0,923.1 L95.0,923.7 L96.1,927.2 L97.2,923.9 L98.3,930.1 L99.4,929.8 L100.4,928.3 L101.5,927.2 L102.6,921.5 L103.7,922.8 L104.8,924.9 L105.9,926.9 L106.9,932.1 L108.0,930.9 L109.1,936.1 L110.2,933.0 L111.3,933.9 L112.3,928.7 L113.4,928.6 L114.5,925.7 L115.6,925.5 L116.7,925.7 L117.8,930.3 L118.8,930.0 L119.9,932.2 L121.0,933.2 L122.1,936.0 L123.2,938.8 L124.2,941.7 L125.3,941.9 L126.4,938.0 L127.5,936.0 L128.6,939.7 L129.7,942.3 L130.7,948.6 L131.8,956.2 L132.9,948.8 L134.0,943.1 L135.1,938.3 L136.2,939.5 L137.2,945.0 L138.3,946.1 L139.4,946.3 L140.5,952.9 L141.6,952.6 L142.6,950.5 L143.7,943.4 L144.8,946.3 L145.9,941.3 L147.0,937.4 L148.1,935.2 L149.1,936.8 L150.2,938.6 L151.3,945.7 L152.4,945.5 L153.5,940.8 L154.5,939.7 L155.6,944.1 L156.7,941.6 L157.8,947.7 L158.9,949.0 L160.0,948.4 L161.0,950.9 L162.1,952.2 L163.2,952.3 L164.3,954.9 L165.4,955.1 L166.4,955.5 L167.5,946.3 L168.6,943.9 L169.7,941.7 L170.8,941.1 L171.9,940.6 L172.9,937.8 L174.0,930.9 L175.1,932.6 L176.2,926.5 L177.3,927.1 L178.3,926.4 L179.4,927.7 L180.5,932.1 L181.6,936.7 L182.7,934.8 L183.8,934.7 L184.8,938.9 L185.9,936.3 L187.0,935.1 L188.1,935.7 L189.2,939.7 L190.3,939.5 L191.3,936.5 L192.4,935.0 L193.5,934.2 L194.6,929.8 L195.7,929.9 L196.7,935.0 L197.8,936.8 L198.9,940.2 L200.0,938.2 L201.1,939.8 L202.2,939.9 L203.2,935.2 L204.3,936.1 L205.4,933.8 L206.5,931.1 L207.6,934.5 L208.6,938.6 L209.7,944.5 L210.8,937.6 L211.9,942.4 L213.0,941.3 L214.1,937.0 L215.1,938.0 L216.2,935.6 L217.3,933.6 L218.4,932.6 L219.5,936.1 L220.5,931.8 L221.6,932.5 L222.7,933.8 L223.8,935.5 L224.9,941.4 L226.0,931.8 L227.0,918.4 L228.1,910.2 L229.2,911.0 L230.3,905.2 L231.4,908.6 L232.4,908.6 L233.5,907.6 L234.6,916.1 L235.7,917.8 L236.8,920.4 L237.9,922.7 L238.9,920.9 L240.0,926.5 L241.1,921.2 L242.2,921.6 L243.3,929.3 L244.4,930.0 L245.4,928.0 L246.5,916.1 L247.6,909.8 L248.7,908.2 L249.8,905.8 L250.8,907.5 L251.9,913.3 L253.0,912.3 L254.1,913.1 L255.2,905.1 L256.3,910.1 L257.3,913.1 L258.4,918.6 L259.5,915.3 L260.6,919.1 L261.7,917.6 L262.7,919.4 L263.8,922.5 L264.9,923.8 L266.0,928.5 L267.1,926.9 L268.2,929.3 L269.2,924.3 L270.3,924.9 L271.4,920.9 L272.5,926.6 L273.6,924.4 L274.6,927.2 L275.7,927.5 L276.8,928.4 L277.9,922.7 L279.0,923.8 L280.1,918.9 L281.1,921.4 L282.2,926.1 L283.3,927.2 L284.4,930.7 L285.5,928.1 L286.6,926.4 L287.6,927.6 L288.7,923.1 L289.8,918.7 L290.9,919.1 L292.0,918.9 L293.0,914.6 L294.1,916.4 L295.2,922.0 L296.3,922.1 L297.4,928.9 L298.5,925.0 L299.5,927.5 L300.6,925.9 L301.7,924.7 L302.8,919.3 L303.9,921.2 L304.9,920.3 L306.0,922.3 L307.1,926.0 L308.2,926.2 L309.3,928.1 L310.4,933.6 L311.4,926.6 L312.5,925.6 L313.6,921.9 L314.7,920.1 L315.8,917.4 L316.8,916.0 L317.9,918.7 L319.0,918.5 L320.1,920.9 L321.2,925.1 L322.3,929.5 L323.3,937.2 L324.4,932.1 L325.5,931.1 L326.6,931.6 L327.7,933.4 L328.7,940.1 L329.8,941.5 L330.9,938.8 L332.0,938.7 L333.1,934.1 L334.2,937.9 L335.2,938.1 L336.3,945.7 L337.4,944.3 L338.5,942.4 L339.6,938.7 L340.7,936.9 L341.7,940.3 L342.8,944.4 L343.9,946.2 L345.0,952.3 L346.1,948.2 L347.1,948.7 L348.2,948.0 L349.3,948.9 L350.4,949.5 L351.5,954.5 L352.6,957.3 L353.6,952.6 L354.7,946.5 L355.8,945.9 L356.9,937.6 L358.0,944.0 L359.0,944.5 L360.1,945.1 L361.2,952.3 L362.3,948.7 L363.4,952.4 L364.5,956.8 L365.5,952.0 L366.6,952.7 L367.7,943.9 L368.8,943.0 L369.9,949.0 L370.9,945.2 L372.0,952.1 L373.1,949.1 L374.2,952.6 L375.3,954.3 L376.4,957.6 L377.4,957.2 L378.5,953.8 L379.6,954.1 L380.7,952.4 L381.8,950.3 L382.8,942.8 L383.9,944.5 L385.0,947.4 L386.1,947.7 L387.2,948.9 L388.3,944.2 L389.3,944.7 L390.4,939.9 L391.5,944.2 L392.6,946.9 L393.7,955.8 L394.8,955.2 L395.8,953.4 L396.9,946.6 L398.0,942.3 L399.1,943.5 L400.2,947.7 L401.2,949.5 L402.3,945.4 L403.4,942.1 L404.5,939.0 L405.6,938.6 L406.7,940.9 L407.7,939.3 L408.8,939.5 L409.9,938.0 L411.0,934.5 L412.1,924.3 L413.1,924.2 L414.2,927.0 L415.3,935.6 L416.4,928.3 L417.5,927.1 L418.6,924.2 L419.6,929.8 L420.7,929.9 L421.8,939.9 L422.9,942.1 L424.0,946.2 L425.0,946.0 L426.1,946.7 L427.2,942.9 L428.3,942.2 L429.4,939.7 L430.5,940.6 L431.5,941.0 L432.6,943.5 L433.7,935.4 L434.8,938.9 L435.9,938.4 L436.9,943.7 L438.0,944.3 L439.1,946.9 L440.2,939.7 L441.3,934.5 L442.4,939.9 L443.4,946.1 L444.5,948.0 L445.6,949.6 L446.7,947.4 L447.8,938.6 L448.9,944.9 L449.9,942.9 L451.0,946.6 L452.1,951.4 L453.2,952.5 L454.3,957.6 L455.3,956.3 L456.4,950.8 L457.5,943.5 L458.6,944.0 L459.7,946.5 L460.8,950.7 L461.8,946.3 L462.9,935.7 L464.0,935.6 L464.0,1068 L55.0,1068 Z" fill="#d6e6fa" stroke="none" />
<path d="M55.0,952.8 L56.1,953.1 L57.2,954.3 L58.2,950.8 L59.3,942.6 L60.4,944.9 L61.5,940.0 L62.6,937.3 L63.7,938.3 L64.7,943.7 L65.8,940.3 L66.9,945.4 L68.0,947.6 L69.1,948.5 L70.1,945.4 L71.2,944.3 L72.3,940.2 L73.4,948.8 L74.5,955.4 L75.6,948.8 L76.6,941.3 L77.7,942.6 L78.8,948.8 L79.9,953.8 L81.0,958.7 L82.1,951.7 L83.1,947.2 L84.2,948.1 L85.3,948.5 L86.4,943.5 L87.5,943.0 L88.5,942.8 L89.6,942.1 L90.7,942.4 L91.8,929.8 L92.9,924.8 L94.0,923.1 L95.0,923.7 L96.1,927.2 L97.2,923.9 L98.3,930.1 L99.4,929.8 L100.4,928.3 L101.5,927.2 L102.6,921.5 L103.7,922.8 L104.8,924.9 L105.9,926.9 L106.9,932.1 L108.0,930.9 L109.1,936.1 L110.2,933.0 L111.3,933.9 L112.3,928.7 L113.4,928.6 L114.5,925.7 L115.6,925.5 L116.7,925.7 L117.8,930.3 L118.8,930.0 L119.9,932.2 L121.0,933.2 L122.1,936.0 L123.2,938.8 L124.2,941.7 L125.3,941.9 L126.4,938.0 L127.5,936.0 L128.6,939.7 L129.7,942.3 L130.7,948.6 L131.8,956.2 L132.9,948.8 L134.0,943.1 L135.1,938.3 L136.2,939.5 L137.2,945.0 L138.3,946.1 L139.4,946.3 L140.5,952.9 L141.6,952.6 L142.6,950.5 L143.7,943.4 L144.8,946.3 L145.9,941.3 L147.0,937.4 L148.1,935.2 L149.1,936.8 L150.2,938.6 L151.3,945.7 L152.4,945.5 L153.5,940.8 L154.5,939.7 L155.6,944.1 L156.7,941.6 L157.8,947.7 L158.9,949.0 L160.0,948.4 L161.0,950.9 L162.1,952.2 L163.2,952.3 L164.3,954.9 L165.4,955.1 L166.4,955.5 L167.5,946.3 L168.6,943.9 L169.7,941.7 L170.8,941.1 L171.9,940.6 L172.9,937.8 L174.0,930.9 L175.1,932.6 L176.2,926.5 L177.3,927.1 L178.3,926.4 L179.4,927.7 L180.5,932.1 L181.6,936.7 L182.7,934.8 L183.8,934.7 L184.8,938.9 L185.9,936.3 L187.0,935.1 L188.1,935.7 L189.2,939.7 L190.3,939.5 L191.3,936.5 L192.4,935.0 L193.5,934.2 L194.6,929.8 L195.7,929.9 L196.7,935.0 L197.8,936.8 L198.9,940.2 L200.0,938.2 L201.1,939.8 L202.2,939.9 L203.2,935.2 L204.3,936.1 L205.4,933.8 L206.5,931.1 L207.6,934.5 L208.6,938.6 L209.7,944.5 L210.8,937.6 L211.9,942.4 L213.0,941.3 L214.1,937.0 L215.1,938.0 L216.2,935.6 L217.3,933.6 L218.4,932.6 L219.5,936.1 L220.5,931.8 L221.6,932.5 L222.7,933.8 L223.8,935.5 L224.9,941.4 L226.0,931.8 L227.0,918.4 L228.1,910.2 L229.2,911.0 L230.3,905.2 L231.4,908.6 L232.4,908.6 L233.5,907.6 L234.6,916.1 L235.7,917.8 L236.8,920.4 L237.9,922.7 L238.9,920.9 L240.0,926.5 L241.1,921.2 L242.2,921.6 L243.3,929.3 L244.4,930.0 L245.4,928.0 L246.5,916.1 L247.6,909.8 L248.7,908.2 L249.8,905.8 L250.8,907.5 L251.9,913.3 L253.0,912.3 L254.1,913.1 L255.2,905.1 L256.3,910.1 L257.3,913.1 L258.4,918.6 L259.5,915.3 L260.6,919.1 L261.7,917.6 L262.7,919.4 L263.8,922.5 L264.9,923.8 L266.0,928.5 L267.1,926.9 L268.2,929.3 L269.2,924.3 L270.3,924.9 L271.4,920.9 L272.5,926.6 L273.6,924.4 L274.6,927.2 L275.7,927.5 L276.8,928.4 L277.9,922.7 L279.0,923.8 L280.1,918.9 L281.1,921.4 L282.2,926.1 L283.3,927.2 L284.4,930.7 L285.5,928.1 L286.6,926.4 L287.6,927.6 L288.7,923.1 L289.8,918.7 L290.9,919.1 L292.0,918.9 L293.0,914.6 L294.1,916.4 L295.2,922.0 L296.3,922.1 L297.4,928.9 L298.5,925.0 L299.5,927.5 L300.6,925.9 L301.7,924.7 L302.8,919.3 L303.9,921.2 L304.9,920.3 L306.0,922.3 L307.1,926.0 L308.2,926.2 L309.3,928.1 L310.4,933.6 L311.4,926.6 L312.5,925.6 L313.6,921.9 L314.7,920.1 L315.8,917.4 L316.8,916.0 L317.9,918.7 L319.0,918.5 L320.1,920.9 L321.2,925.1 L322.3,929.5 L323.3,937.2 L324.4,932.1 L325.5,931.1 L326.6,931.6 L327.7,933.4 L328.7,940.1 L329.8,941.5 L330.9,938.8 L332.0,938.7 L333.1,934.1 L334.2,937.9 L335.2,938.1 L336.3,945.7 L337.4,944.3 L338.5,942.4 L339.6,938.7 L340.7,936.9 L341.7,940.3 L342.8,944.4 L343.9,946.2 L345.0,952.3 L346.1,948.2 L347.1,948.7 L348.2,948.0 L349.3,948.9 L350.4,949.5 L351.5,954.5 L352.6,957.3 L353.6,952.6 L354.7,946.5 L355.8,945.9 L356.9,937.6 L358.0,944.0 L359.0,944.5 L360.1,945.1 L361.2,952.3 L362.3,948.7 L363.4,952.4 L364.5,956.8 L365.5,952.0 L366.6,952.7 L367.7,943.9 L368.8,943.0 L369.9,949.0 L370.9,945.2 L372.0,952.1 L373.1,949.1 L374.2,952.6 L375.3,954.3 L376.4,957.6 L377.4,957.2 L378.5,953.8 L379.6,954.1 L380.7,952.4 L381.8,950.3 L382.8,942.8 L383.9,944.5 L385.0,947.4 L386.1,947.7 L387.2,948.9 L388.3,944.2 L389.3,944.7 L390.4,939.9 L391.5,944.2 L392.6,946.9 L393.7,955.8 L394.8,955.2 L395.8,953.4 L396.9,946.6 L398.0,942.3 L399.1,943.5 L400.2,947.7 L401.2,949.5 L402.3,945.4 L403.4,942.1 L404.5,939.0 L405.6,938.6 L406.7,940.9 L407.7,939.3 L408.8,939.5 L409.9,938.0 L411.0,934.5 L412.1,924.3 L413.1,924.2 L414.2,927.0 L415.3,935.6 L416.4,928.3 L417.5,927.1 L418.6,924.2 L419.6,929.8 L420.7,929.9 L421.8,939.9 L422.9,942.1 L424.0,946.2 L425.0,946.0 L426.1,946.7 L427.2,942.9 L428.3,942.2 L429.4,939.7 L430.5,940.6 L431.5,941.0 L432.6,943.5 L433.7,935.4 L434.8,938.9 L435.9,938.4 L436.9,943.7 L438.0,944.3 L439.1,946.9 L440.2,939.7 L441.3,934.5 L442.4,939.9 L443.4,946.1 L444.5,948.0 L445.6,949.6 L446.7,947.4 L447.8,938.6 L448.9,944.9 L449.9,942.9 L451.0,946.6 L452.1,951.4 L453.2,952.5 L454.3,957.6 L455.3,956.3 L456.4,950.8 L457.5,943.5 L458.6,944.0 L459.7,946.5 L460.8,950.7 L461.8,946.3 L462.9,935.7 L464.0,935.6" fill="none" stroke="#6ea6e8" stroke-width="1" stroke-linejoin="round"/>
<path d="M55.0,971.0 L56.1,971.0 L57.2,979.6 L58.2,983.2 L59.3,974.3 L60.4,972.4 L61.5,969.1 L62.6,965.7 L63.7,961.1 L64.7,963.8 L65.8,962.5 L66.9,965.9 L68.0,963.3 L69.1,972.0 L70.1,965.7 L71.2,968.5 L72.3,965.3 L73.4,970.7 L74.5,970.9 L75.6,974.3 L76.6,971.2 L77.7,974.0 L78.8,977.1 L79.9,981.5 L81.0,985.6 L82.1,982.8 L83.1,981.4 L84.2,981.5 L85.3,977.5 L86.4,974.9 L87.5,966.5 L88.5,967.8 L89.6,966.6 L90.7,962.9 L91.8,954.3 L92.9,944.9 L94.0,940.8 L95.0,944.9 L96.1,944.2 L97.2,947.8 L98.3,944.6 L99.4,941.1 L100.4,945.0 L101.5,948.9 L102.6,948.5 L103.7,941.5 L104.8,954.0 L105.9,957.8 L106.9,972.4 L108.0,977.7 L109.1,978.4 L110.2,981.9 L111.3,982.2 L112.3,984.0 L113.4,989.3 L114.5,985.4 L115.6,979.9 L116.7,971.8 L117.8,970.9 L118.8,960.8 L119.9,961.8 L121.0,961.6 L122.1,966.3 L123.2,972.3 L124.2,968.6 L125.3,975.9 L126.4,977.1 L127.5,974.3 L128.6,969.8 L129.7,977.6 L130.7,984.2 L131.8,985.6 L132.9,979.9 L134.0,971.5 L135.1,972.5 L136.2,972.5 L137.2,972.1 L138.3,974.5 L139.4,984.9 L140.5,987.5 L141.6,988.7 L142.6,989.1 L143.7,987.6 L144.8,980.5 L145.9,977.5 L147.0,975.2 L148.1,977.6 L149.1,975.4 L150.2,981.0 L151.3,983.2 L152.4,983.6 L153.5,976.7 L154.5,978.0 L155.6,982.4 L156.7,979.1 L157.8,980.8 L158.9,984.3 L160.0,994.6 L161.0,989.6 L162.1,987.0 L163.2,981.9 L164.3,983.6 L165.4,979.7 L166.4,976.9 L167.5,974.6 L168.6,973.7 L169.7,977.9 L170.8,972.2 L171.9,973.9 L172.9,969.5 L174.0,964.2 L175.1,960.1 L176.2,953.5 L177.3,957.0 L178.3,954.5 L179.4,955.0 L180.5,957.8 L181.6,959.7 L182.7,965.5 L183.8,961.5 L184.8,960.9 L185.9,962.8 L187.0,960.6 L188.1,967.4 L189.2,964.0 L190.3,964.0 L191.3,963.8 L192.4,964.2 L193.5,963.3 L194.6,958.4 L195.7,965.1 L196.7,971.2 L197.8,972.8 L198.9,973.7 L200.0,970.7 L201.1,969.0 L202.2,966.4 L203.2,971.1 L204.3,970.5 L205.4,970.1 L206.5,967.1 L207.6,972.3 L208.6,974.9 L209.7,980.8 L210.8,976.1 L211.9,969.6 L213.0,967.3 L214.1,965.9 L215.1,968.2 L216.2,964.3 L217.3,964.7 L218.4,961.4 L219.5,960.1 L220.5,956.3 L221.6,954.0 L222.7,957.0 L223.8,956.2 L224.9,963.0 L226.0,970.0 L227.0,943.6 L228.1,946.6 L229.2,947.2 L230.3,946.2 L231.4,936.1 L232.4,927.0 L233.5,931.1 L234.6,939.9 L235.7,942.6 L236.8,943.8 L237.9,945.8 L238.9,943.6 L240.0,951.1 L241.1,964.3 L242.2,963.1 L243.3,967.6 L244.4,969.5 L245.4,958.2 L246.5,939.2 L247.6,929.8 L248.7,925.5 L249.8,929.6 L250.8,932.3 L251.9,935.5 L253.0,932.1 L254.1,937.1 L255.2,928.9 L256.3,928.7 L257.3,935.8 L258.4,938.4 L259.5,936.6 L260.6,937.4 L261.7,938.9 L262.7,945.1 L263.8,949.7 L264.9,961.9 L266.0,955.6 L267.1,949.2 L268.2,943.4 L269.2,945.0 L270.3,950.0 L271.4,948.3 L272.5,944.8 L273.6,936.6 L274.6,935.4 L275.7,942.6 L276.8,947.4 L277.9,955.9 L279.0,946.6 L280.1,942.5 L281.1,939.4 L282.2,938.7 L283.3,934.4 L284.4,940.2 L285.5,943.3 L286.6,947.6 L287.6,949.5 L288.7,945.6 L289.8,947.0 L290.9,943.3 L292.0,937.4 L293.0,946.3 L294.1,949.7 L295.2,953.0 L296.3,947.5 L297.4,942.0 L298.5,949.7 L299.5,953.0 L300.6,953.2 L301.7,948.5 L302.8,948.7 L303.9,949.5 L304.9,947.5 L306.0,950.2 L307.1,950.8 L308.2,947.1 L309.3,947.1 L310.4,948.1 L311.4,948.9 L312.5,951.0 L313.6,945.7 L314.7,941.0 L315.8,941.1 L316.8,939.5 L317.9,942.9 L319.0,942.5 L320.1,948.3 L321.2,955.3 L322.3,962.1 L323.3,954.8 L324.4,947.3 L325.5,949.7 L326.6,956.6 L327.7,964.6 L328.7,972.8 L329.8,977.3 L330.9,973.8 L332.0,967.8 L333.1,966.6 L334.2,970.0 L335.2,969.9 L336.3,965.0 L337.4,966.5 L338.5,968.5 L339.6,978.1 L340.7,979.7 L341.7,983.3 L342.8,985.6 L343.9,982.3 L345.0,984.8 L346.1,982.9 L347.1,977.9 L348.2,977.6 L349.3,981.4 L350.4,989.4 L351.5,991.4 L352.6,995.0 L353.6,993.7 L354.7,986.1 L355.8,980.5 L356.9,978.2 L358.0,979.5 L359.0,973.2 L360.1,981.1 L361.2,992.1 L362.3,994.0 L363.4,988.0 L364.5,989.1 L365.5,982.4 L366.6,983.3 L367.7,976.8 L368.8,978.3 L369.9,980.0 L370.9,988.0 L372.0,990.4 L373.1,986.6 L374.2,981.9 L375.3,988.3 L376.4,991.5 L377.4,1002.8 L378.5,997.4 L379.6,995.6 L380.7,991.8 L381.8,984.5 L382.8,979.7 L383.9,979.4 L385.0,982.3 L386.1,986.9 L387.2,991.8 L388.3,991.8 L389.3,987.3 L390.4,987.7 L391.5,1000.1 L392.6,993.6 L393.7,978.5 L394.8,986.3 L395.8,989.5 L396.9,989.7 L398.0,980.9 L399.1,980.0 L400.2,979.0 L401.2,982.9 L402.3,986.0 L403.4,969.4 L404.5,969.5 L405.6,969.2 L406.7,972.4 L407.7,976.1 L408.8,974.9 L409.9,971.8 L411.0,965.8 L412.1,962.8 L413.1,960.5 L414.2,963.3 L415.3,966.7 L416.4,964.9 L417.5,961.2 L418.6,956.6 L419.6,960.6 L420.7,962.7 L421.8,969.5 L422.9,974.4 L424.0,977.4 L425.0,978.8 L426.1,976.5 L427.2,974.9 L428.3,970.7 L429.4,975.4 L430.5,971.6 L431.5,978.6 L432.6,968.8 L433.7,960.1 L434.8,960.8 L435.9,966.3 L436.9,967.4 L438.0,968.7 L439.1,972.7 L440.2,977.7 L441.3,972.7 L442.4,961.4 L443.4,965.8 L444.5,975.3 L445.6,978.5 L446.7,975.9 L447.8,977.1 L448.9,970.8 L449.9,971.9 L451.0,976.8 L452.1,979.5 L453.2,985.6 L454.3,985.9 L455.3,985.4 L456.4,976.9 L457.5,973.9 L458.6,973.9 L459.7,981.6 L460.8,980.0 L461.8,977.8 L462.9,969.2 L464.0,966.2 L464.0,1068 L55.0,1068 Z" fill="#f6cbcb" stroke="none" />
<path d="M55.0,971.0 L56.1,971.0 L57.2,979.6 L58.2,983.2 L59.3,974.3 L60.4,972.4 L61.5,969.1 L62.6,965.7 L63.7,961.1 L64.7,963.8 L65.8,962.5 L66.9,965.9 L68.0,963.3 L69.1,972.0 L70.1,965.7 L71.2,968.5 L72.3,965.3 L73.4,970.7 L74.5,970.9 L75.6,974.3 L76.6,971.2 L77.7,974.0 L78.8,977.1 L79.9,981.5 L81.0,985.6 L82.1,982.8 L83.1,981.4 L84.2,981.5 L85.3,977.5 L86.4,974.9 L87.5,966.5 L88.5,967.8 L89.6,966.6 L90.7,962.9 L91.8,954.3 L92.9,944.9 L94.0,940.8 L95.0,944.9 L96.1,944.2 L97.2,947.8 L98.3,944.6 L99.4,941.1 L100.4,945.0 L101.5,948.9 L102.6,948.5 L103.7,941.5 L104.8,954.0 L105.9,957.8 L106.9,972.4 L108.0,977.7 L109.1,978.4 L110.2,981.9 L111.3,982.2 L112.3,984.0 L113.4,989.3 L114.5,985.4 L115.6,979.9 L116.7,971.8 L117.8,970.9 L118.8,960.8 L119.9,961.8 L121.0,961.6 L122.1,966.3 L123.2,972.3 L124.2,968.6 L125.3,975.9 L126.4,977.1 L127.5,974.3 L128.6,969.8 L129.7,977.6 L130.7,984.2 L131.8,985.6 L132.9,979.9 L134.0,971.5 L135.1,972.5 L136.2,972.5 L137.2,972.1 L138.3,974.5 L139.4,984.9 L140.5,987.5 L141.6,988.7 L142.6,989.1 L143.7,987.6 L144.8,980.5 L145.9,977.5 L147.0,975.2 L148.1,977.6 L149.1,975.4 L150.2,981.0 L151.3,983.2 L152.4,983.6 L153.5,976.7 L154.5,978.0 L155.6,982.4 L156.7,979.1 L157.8,980.8 L158.9,984.3 L160.0,994.6 L161.0,989.6 L162.1,987.0 L163.2,981.9 L164.3,983.6 L165.4,979.7 L166.4,976.9 L167.5,974.6 L168.6,973.7 L169.7,977.9 L170.8,972.2 L171.9,973.9 L172.9,969.5 L174.0,964.2 L175.1,960.1 L176.2,953.5 L177.3,957.0 L178.3,954.5 L179.4,955.0 L180.5,957.8 L181.6,959.7 L182.7,965.5 L183.8,961.5 L184.8,960.9 L185.9,962.8 L187.0,960.6 L188.1,967.4 L189.2,964.0 L190.3,964.0 L191.3,963.8 L192.4,964.2 L193.5,963.3 L194.6,958.4 L195.7,965.1 L196.7,971.2 L197.8,972.8 L198.9,973.7 L200.0,970.7 L201.1,969.0 L202.2,966.4 L203.2,971.1 L204.3,970.5 L205.4,970.1 L206.5,967.1 L207.6,972.3 L208.6,974.9 L209.7,980.8 L210.8,976.1 L211.9,969.6 L213.0,967.3 L214.1,965.9 L215.1,968.2 L216.2,964.3 L217.3,964.7 L218.4,961.4 L219.5,960.1 L220.5,956.3 L221.6,954.0 L222.7,957.0 L223.8,956.2 L224.9,963.0 L226.0,970.0 L227.0,943.6 L228.1,946.6 L229.2,947.2 L230.3,946.2 L231.4,936.1 L232.4,927.0 L233.5,931.1 L234.6,939.9 L235.7,942.6 L236.8,943.8 L237.9,945.8 L238.9,943.6 L240.0,951.1 L241.1,964.3 L242.2,963.1 L243.3,967.6 L244.4,969.5 L245.4,958.2 L246.5,939.2 L247.6,929.8 L248.7,925.5 L249.8,929.6 L250.8,932.3 L251.9,935.5 L253.0,932.1 L254.1,937.1 L255.2,928.9 L256.3,928.7 L257.3,935.8 L258.4,938.4 L259.5,936.6 L260.6,937.4 L261.7,938.9 L262.7,945.1 L263.8,949.7 L264.9,961.9 L266.0,955.6 L267.1,949.2 L268.2,943.4 L269.2,945.0 L270.3,950.0 L271.4,948.3 L272.5,944.8 L273.6,936.6 L274.6,935.4 L275.7,942.6 L276.8,947.4 L277.9,955.9 L279.0,946.6 L280.1,942.5 L281.1,939.4 L282.2,938.7 L283.3,934.4 L284.4,940.2 L285.5,943.3 L286.6,947.6 L287.6,949.5 L288.7,945.6 L289.8,947.0 L290.9,943.3 L292.0,937.4 L293.0,946.3 L294.1,949.7 L295.2,953.0 L296.3,947.5 L297.4,942.0 L298.5,949.7 L299.5,953.0 L300.6,953.2 L301.7,948.5 L302.8,948.7 L303.9,949.5 L304.9,947.5 L306.0,950.2 L307.1,950.8 L308.2,947.1 L309.3,947.1 L310.4,948.1 L311.4,948.9 L312.5,951.0 L313.6,945.7 L314.7,941.0 L315.8,941.1 L316.8,939.5 L317.9,942.9 L319.0,942.5 L320.1,948.3 L321.2,955.3 L322.3,962.1 L323.3,954.8 L324.4,947.3 L325.5,949.7 L326.6,956.6 L327.7,964.6 L328.7,972.8 L329.8,977.3 L330.9,973.8 L332.0,967.8 L333.1,966.6 L334.2,970.0 L335.2,969.9 L336.3,965.0 L337.4,966.5 L338.5,968.5 L339.6,978.1 L340.7,979.7 L341.7,983.3 L342.8,985.6 L343.9,982.3 L345.0,984.8 L346.1,982.9 L347.1,977.9 L348.2,977.6 L349.3,981.4 L350.4,989.4 L351.5,991.4 L352.6,995.0 L353.6,993.7 L354.7,986.1 L355.8,980.5 L356.9,978.2 L358.0,979.5 L359.0,973.2 L360.1,981.1 L361.2,992.1 L362.3,994.0 L363.4,988.0 L364.5,989.1 L365.5,982.4 L366.6,983.3 L367.7,976.8 L368.8,978.3 L369.9,980.0 L370.9,988.0 L372.0,990.4 L373.1,986.6 L374.2,981.9 L375.3,988.3 L376.4,991.5 L377.4,1002.8 L378.5,997.4 L379.6,995.6 L380.7,991.8 L381.8,984.5 L382.8,979.7 L383.9,979.4 L385.0,982.3 L386.1,986.9 L387.2,991.8 L388.3,991.8 L389.3,987.3 L390.4,987.7 L391.5,1000.1 L392.6,993.6 L393.7,978.5 L394.8,986.3 L395.8,989.5 L396.9,989.7 L398.0,980.9 L399.1,980.0 L400.2,979.0 L401.2,982.9 L402.3,986.0 L403.4,969.4 L404.5,969.5 L405.6,969.2 L406.7,972.4 L407.7,976.1 L408.8,974.9 L409.9,971.8 L411.0,965.8 L412.1,962.8 L413.1,960.5 L414.2,963.3 L415.3,966.7 L416.4,964.9 L417.5,961.2 L418.6,956.6 L419.6,960.6 L420.7,962.7 L421.8,969.5 L422.9,974.4 L424.0,977.4 L425.0,978.8 L426.1,976.5 L427.2,974.9 L428.3,970.7 L429.4,975.4 L430.5,971.6 L431.5,978.6 L432.6,968.8 L433.7,960.1 L434.8,960.8 L435.9,966.3 L436.9,967.4 L438.0,968.7 L439.1,972.7 L440.2,977.7 L441.3,972.7 L442.4,961.4 L443.4,965.8 L444.5,975.3 L445.6,978.5 L446.7,975.9 L447.8,977.1 L448.9,970.8 L449.9,971.9 L451.0,976.8 L452.1,979.5 L453.2,985.6 L454.3,985.9 L455.3,985.4 L456.4,976.9 L457.5,973.9 L458.6,973.9 L459.7,981.6 L460.8,980.0 L461.8,977.8 L462.9,969.2 L464.0,966.2" fill="none" stroke="#dc6863" stroke-width="1" stroke-linejoin="round"/>
<line x1="55.5" y1="867" x2="55.5" y2="1069" stroke="#4a4a4a" stroke-width="1"/>
<line x1="51" y1="1068.5" x2="55.5" y2="1068.5" stroke="#4a4a4a" stroke-width="1"/>
<text x="48.2" y="1071.7" text-anchor="end">0</text>
<line x1="51" y1="1027.5" x2="55.5" y2="1027.5" stroke="#4a4a4a" stroke-width="1"/>
<text x="48.2" y="1031.5" text-anchor="end">0.2</text>
<line x1="51" y1="987.5" x2="55.5" y2="987.5" stroke="#4a4a4a" stroke-width="1"/>
<text x="48.2" y="991.3" text-anchor="end">0.4</text>
<line x1="51" y1="947.5" x2="55.5" y2="947.5" stroke="#4a4a4a" stroke-width="1"/>
<text x="48.2" y="951.1" text-anchor="end">0.6</text>
<line x1="51" y1="907.5" x2="55.5" y2="907.5" stroke="#4a4a4a" stroke-width="1"/>
<text x="48.2" y="910.9" text-anchor="end">0.8</text>
<line x1="51" y1="867.5" x2="55.5" y2="867.5" stroke="#4a4a4a" stroke-width="1"/>
<text x="48.2" y="870.7" text-anchor="end">1</text>
<line x1="55" y1="1068.5" x2="466" y2="1068.5" stroke="#4a4a4a" stroke-width="1"/>
<line x1="55.5" y1="1068" x2="55.5" y2="1072" stroke="#4a4a4a" stroke-width="1"/>
<text x="55.5" y="1083.0" text-anchor="middle">20200901</text>
<line x1="118.5" y1="1068" x2="118.5" y2="1072" stroke="#4a4a4a" stroke-width="1"/>
<text x="118.4" y="1083.0" text-anchor="middle">20201029</text>
<line x1="181.5" y1="1068" x2="181.5" y2="1072" stroke="#4a4a4a" stroke-width="1"/>
<text x="181.3" y="1083.0" text-anchor="middle">20201226</text>
<line x1="244.5" y1="1068" x2="244.5" y2="1072" stroke="#4a4a4a" stroke-width="1"/>
<text x="244.2" y="1083.0" text-anchor="middle">20210222</text>
<line x1="306.5" y1="1068" x2="306.5" y2="1072" stroke="#4a4a4a" stroke-width="1"/>
<text x="307.1" y="1083.0" text-anchor="middle">20210421</text>
<line x1="369.5" y1="1068" x2="369.5" y2="1072" stroke="#4a4a4a" stroke-width="1"/>
<text x="370.1" y="1083.0" text-anchor="middle">20210618</text>
<line x1="432.5" y1="1068" x2="432.5" y2="1072" stroke="#4a4a4a" stroke-width="1"/>
<text x="433.0" y="1083.0" text-anchor="middle">20210815</text>
<line x1="465.5" y1="1068" x2="465.5" y2="1072" stroke="#4a4a4a" stroke-width="1"/>
<path d="M582.6,981.8 L583.4,985.5 L584.1,989.1 L585.0,988.0 L585.9,987.3 L586.8,980.2 L587.7,972.7 L588.6,975.1 L589.5,978.2 L590.5,974.7 L591.4,969.1 L592.3,970.7 L593.2,974.5 L593.9,971.7 L594.6,969.1 L595.9,947.3 L596.8,957.2 L597.7,965.5 L598.6,965.2 L599.5,965.5 L600.5,963.6 L601.4,955.7 L602.3,949.1 L603.2,956.8 L604.1,965.5 L605.0,963.0 L605.9,961.8 L606.8,969.7 L607.7,980.0 L608.6,973.8 L609.5,970.3 L610.5,965.5 L611.4,973.9 L612.3,983.6 L613.5,976.4 L614.5,985.7 L615.4,994.5 L616.2,986.5 L617.0,977.0 L617.8,966.8 L618.6,956.4 L619.5,954.6 L620.5,953.6 L621.4,952.7 L622.3,941.3 L623.2,927.3 L624.1,931.9 L625.0,938.2 L625.9,924.7 L626.8,909.1 L627.7,920.1 L628.6,932.7 L629.5,926.5 L630.5,920.8 L631.4,914.5 L632.3,919.0 L633.2,921.3 L634.1,923.6 L635.0,923.5 L635.9,920.7 L636.8,920.0 L637.7,925.9 L638.6,932.7 L639.5,925.4 L640.5,916.0 L641.4,907.3 L642.3,905.2 L643.2,901.8 L644.1,896.0 L645.0,892.7 L645.9,912.2 L646.8,934.5 L647.7,921.6 L648.6,909.1 L649.5,916.7 L650.5,925.5 L651.4,924.7 L652.3,926.5 L653.2,925.5 L654.1,940.4 L655.0,952.7 L655.9,952.8 L656.8,954.5 L657.7,946.0 L658.6,939.0 L659.5,932.7 L660.5,942.6 L661.4,955.3 L662.3,965.5 L663.2,946.0 L664.1,927.3 L665.0,933.0 L665.9,934.2 L666.8,940.0 L667.7,946.2 L668.6,950.9 L669.5,958.2 L670.5,960.5 L671.4,960.2 L672.3,961.8 L673.2,956.7 L674.1,953.6 L675.0,949.1 L675.9,957.6 L676.8,963.6 L677.7,954.2 L678.6,947.0 L679.5,940.0 L680.5,940.1 L681.4,937.3 L682.3,936.4 L683.2,938.7 L684.1,943.6 L684.9,943.2 L685.7,941.4 L686.5,937.9 L687.4,936.4 L688.4,943.9 L689.4,951.8 L690.5,961.8 L691.2,963.8 L692.0,965.1 L692.7,965.5 L693.2,956.4 L693.9,956.5 L694.7,955.8 L695.5,954.5 L696.4,953.5 L697.3,952.7 L698.2,952.7 L699.1,958.4 L700.0,963.6 L700.9,962.8 L701.8,959.9 L702.7,958.2 L703.6,959.6 L704.5,960.6 L705.5,963.3 L706.4,963.6 L707.3,959.6 L708.2,952.0 L709.1,947.3 L710.0,952.4 L710.9,954.5 L711.8,947.4 L712.7,938.2 L714.0,965.5 L715.0,954.8 L715.9,944.1 L716.9,934.5 L718.0,944.2 L719.1,952.7 L719.8,944.7 L720.5,936.4 L721.6,946.7 L722.7,956.4 L723.6,958.5 L724.5,959.1 L725.5,958.2 L726.4,961.9 L727.3,964.3 L728.2,967.3 L729.1,962.1 L730.0,957.7 L730.9,956.0 L731.8,950.9 L732.7,951.9 L733.6,955.1 L734.5,956.4 L735.5,956.3 L736.4,956.7 L737.3,958.2 L738.2,950.6 L739.1,941.8 L740.0,943.8 L740.9,946.5 L741.8,950.9 L742.7,954.9 L743.6,955.4 L744.5,958.2 L745.5,954.7 L746.4,953.0 L747.3,949.1 L748.2,959.7 L749.1,973.1 L750.0,983.6 L750.9,986.4 L751.8,991.6 L752.7,994.5 L753.6,980.8 L754.5,965.5 L755.5,969.7 L756.4,976.0 L757.3,981.8 L758.2,994.7 L759.1,1005.5 L760.0,1004.8 L760.9,1004.0 L761.8,1003.6 L762.7,987.7 L763.6,974.5 L764.5,970.3 L765.5,969.6 L766.4,966.6 L767.3,961.8 L768.2,977.3 L769.1,992.7 L770.0,987.8 L770.9,980.6 L771.8,976.4 L772.7,980.2 L773.6,981.6 L774.5,983.6 L775.5,980.1 L776.4,976.3 L777.3,970.9 L778.2,973.7 L779.1,978.8 L780.0,981.8 L780.9,989.6 L781.8,996.9 L782.7,1005.5 L783.6,998.0 L784.5,992.7 L785.5,1000.7 L786.4,1007.3 L787.3,1003.5 L788.2,1000.8 L789.1,998.7 L790.0,996.4 L790.9,995.5 L791.8,995.0 L792.7,994.5 L793.6,996.7 L794.5,1002.1 L795.5,1003.6 L796.4,1000.5 L797.3,1000.9 L798.2,998.2 L799.1,992.6 L800.0,985.5 L800.9,995.3 L801.8,1004.8 L802.7,1016.5 L803.6,1025.5 L804.3,1022.6 L805.0,1018.2 L805.7,1013.7 L806.4,1010.9 L807.0,1011.2 L807.7,1009.1 L808.6,1016.2 L809.5,1021.4 L810.5,1029.1 L811.4,1027.5 L812.3,1022.6 L813.2,1020.0 L814.1,1019.5 L815.0,1022.7 L815.9,1021.8 L816.8,1019.0 L817.7,1014.5 L818.6,1016.2 L819.5,1018.2 L820.5,1015.9 L821.4,1013.4 L822.3,1010.9 L823.2,1014.6 L824.1,1018.2 L825.0,1013.8 L825.9,1012.6 L826.8,1009.1 L827.7,1011.1 L828.6,1012.9 L829.5,1016.4 L830.5,1017.7 L831.4,1019.7 L832.3,1020.4 L833.2,1022.9 L834.1,1025.5 L835.0,1020.7 L835.9,1016.1 L836.8,1012.9 L837.7,1009.1 L838.6,1009.5 L839.5,1012.7 L840.5,1014.5 L841.4,1018.9 L842.3,1023.6 L843.2,1029.1 L844.1,1024.7 L845.0,1019.8 L845.9,1014.5 L846.8,1010.6 L847.7,1007.9 L848.6,1006.9 L849.5,1003.6 L850.4,1008.7 L851.2,1013.5 L852.1,1019.3 L852.9,1024.7 L853.7,1030.9 L854.8,1025.8 L855.8,1020.9 L856.8,1018.2 L857.7,1015.0 L858.6,1013.9 L859.5,1008.4 L860.5,1007.3 L861.4,1010.6 L862.3,1015.9 L863.2,1021.8 L864.1,1019.7 L865.0,1016.7 L865.9,1015.7 L866.8,1012.7 L867.7,1013.9 L868.6,1014.1 L869.5,1014.0 L870.5,1014.5 L871.4,1019.3 L872.3,1023.4 L873.2,1025.5 L874.1,1021.4 L875.0,1019.3 L875.9,1017.9 L876.8,1014.3 L877.7,1010.9 L878.6,1010.6 L879.5,1011.6 L880.5,1010.9 L881.5,1006.6 L882.5,1004.8 L883.5,1000.0 L884.3,1004.1 L885.1,1009.6 L885.9,1016.4 L886.8,1014.2 L887.7,1010.1 L888.6,1007.3 L889.5,1008.2 L890.5,1008.6 L891.4,1008.1 L892.3,1007.3 L893.2,1006.5 L894.1,1004.1 L895.0,1003.6 L895.9,1004.9 L896.8,1005.2 L897.7,1007.3 L898.6,1013.8 L899.5,1019.8 L900.5,1023.6 L901.2,1016.7 L902.0,1012.8 L902.7,1007.3 L903.2,1009.1 L904.0,1007.9 L904.8,1006.0 L905.6,1001.9 L906.4,1000.0 L906.8,1001.8 L907.7,1004.7 L908.6,1007.3 L909.5,1010.9 L910.0,1009.1 L910.8,1005.4 L911.6,1003.6 L912.4,1003.8 L913.2,1000.0 L913.6,1000.0 L914.4,1003.9 L915.2,1007.6 L915.9,1009.1 L916.4,1005.5 L917.3,1012.1 L918.2,1018.2 L918.6,1018.2 L919.4,1003.4 L920.2,991.3 L920.9,978.2 L921.8,984.9 L922.7,989.1 L923.2,989.1 L923.9,1000.1 L924.7,1012.0 L925.5,1021.8 L926.4,1016.6 L927.3,1014.0 L928.2,1010.7 L929.1,1007.3 L929.9,999.8 L930.7,992.0 L931.5,986.2 L932.4,978.2 L933.4,982.7 L934.4,986.5 L935.5,989.1 L936.4,987.0 L937.3,985.5 L938.2,990.2 L939.1,997.7 L940.0,1003.6 L940.9,1000.5 L941.8,994.6 L942.7,990.9 L943.6,994.4 L944.5,1000.1 L945.5,1005.5 L946.4,1006.1 L947.3,1006.6 L948.2,1010.0 L949.1,1010.9 L950.0,1006.3 L950.9,1005.8 L951.8,1001.8 L952.7,1005.0 L953.6,1006.4 L954.5,1007.3 L955.5,1004.9 L956.4,1000.9 L957.3,1002.7 L958.2,1004.2 L959.1,1004.5 L960.0,1005.5 L960.9,1004.4 L961.8,1001.2 L962.7,1001.3 L963.6,1000.0 L964.5,1004.6 L965.5,1004.6 L966.4,1009.1 L967.3,1006.0 L968.2,1004.9 L969.1,1001.0 L970.0,998.2 L970.9,998.3 L971.8,995.9 L972.7,994.5 L973.6,995.4 L974.5,998.7 L975.5,998.2 L976.4,1000.0 L977.3,1000.2 L978.2,998.8 L979.1,998.8 L980.0,996.4 L980.9,997.0 L981.8,997.9 L982.7,996.0 L983.6,998.4 L984.5,998.2 L985.5,996.0 L986.4,996.1 L987.3,996.4 L988.2,990.5 L989.1,982.3 L990.0,976.4 L990.9,981.8 L990.9,1068 L582.6,1068 Z" fill="#bdd9f6" stroke="none" />
<path d="M582.6,981.8 L583.4,985.5 L584.1,989.1 L585.0,988.0 L585.9,987.3 L586.8,980.2 L587.7,972.7 L588.6,975.1 L589.5,978.2 L590.5,974.7 L591.4,969.1 L592.3,970.7 L593.2,974.5 L593.9,971.7 L594.6,969.1 L595.9,947.3 L596.8,957.2 L597.7,965.5 L598.6,965.2 L599.5,965.5 L600.5,963.6 L601.4,955.7 L602.3,949.1 L603.2,956.8 L604.1,965.5 L605.0,963.0 L605.9,961.8 L606.8,969.7 L607.7,980.0 L608.6,973.8 L609.5,970.3 L610.5,965.5 L611.4,973.9 L612.3,983.6 L613.5,976.4 L614.5,985.7 L615.4,994.5 L616.2,986.5 L617.0,977.0 L617.8,966.8 L618.6,956.4 L619.5,954.6 L620.5,953.6 L621.4,952.7 L622.3,941.3 L623.2,927.3 L624.1,931.9 L625.0,938.2 L625.9,924.7 L626.8,909.1 L627.7,920.1 L628.6,932.7 L629.5,926.5 L630.5,920.8 L631.4,914.5 L632.3,919.0 L633.2,921.3 L634.1,923.6 L635.0,923.5 L635.9,920.7 L636.8,920.0 L637.7,925.9 L638.6,932.7 L639.5,925.4 L640.5,916.0 L641.4,907.3 L642.3,905.2 L643.2,901.8 L644.1,896.0 L645.0,892.7 L645.9,912.2 L646.8,934.5 L647.7,921.6 L648.6,909.1 L649.5,916.7 L650.5,925.5 L651.4,924.7 L652.3,926.5 L653.2,925.5 L654.1,940.4 L655.0,952.7 L655.9,952.8 L656.8,954.5 L657.7,946.0 L658.6,939.0 L659.5,932.7 L660.5,942.6 L661.4,955.3 L662.3,965.5 L663.2,946.0 L664.1,927.3 L665.0,933.0 L665.9,934.2 L666.8,940.0 L667.7,946.2 L668.6,950.9 L669.5,958.2 L670.5,960.5 L671.4,960.2 L672.3,961.8 L673.2,956.7 L674.1,953.6 L675.0,949.1 L675.9,957.6 L676.8,963.6 L677.7,954.2 L678.6,947.0 L679.5,940.0 L680.5,940.1 L681.4,937.3 L682.3,936.4 L683.2,938.7 L684.1,943.6 L684.9,943.2 L685.7,941.4 L686.5,937.9 L687.4,936.4 L688.4,943.9 L689.4,951.8 L690.5,961.8 L691.2,963.8 L692.0,965.1 L692.7,965.5 L693.2,956.4 L693.9,956.5 L694.7,955.8 L695.5,954.5 L696.4,953.5 L697.3,952.7 L698.2,952.7 L699.1,958.4 L700.0,963.6 L700.9,962.8 L701.8,959.9 L702.7,958.2 L703.6,959.6 L704.5,960.6 L705.5,963.3 L706.4,963.6 L707.3,959.6 L708.2,952.0 L709.1,947.3 L710.0,952.4 L710.9,954.5 L711.8,947.4 L712.7,938.2 L714.0,965.5 L715.0,954.8 L715.9,944.1 L716.9,934.5 L718.0,944.2 L719.1,952.7 L719.8,944.7 L720.5,936.4 L721.6,946.7 L722.7,956.4 L723.6,958.5 L724.5,959.1 L725.5,958.2 L726.4,961.9 L727.3,964.3 L728.2,967.3 L729.1,962.1 L730.0,957.7 L730.9,956.0 L731.8,950.9 L732.7,951.9 L733.6,955.1 L734.5,956.4 L735.5,956.3 L736.4,956.7 L737.3,958.2 L738.2,950.6 L739.1,941.8 L740.0,943.8 L740.9,946.5 L741.8,950.9 L742.7,954.9 L743.6,955.4 L744.5,958.2 L745.5,954.7 L746.4,953.0 L747.3,949.1 L748.2,959.7 L749.1,973.1 L750.0,983.6 L750.9,986.4 L751.8,991.6 L752.7,994.5 L753.6,980.8 L754.5,965.5 L755.5,969.7 L756.4,976.0 L757.3,981.8 L758.2,994.7 L759.1,1005.5 L760.0,1004.8 L760.9,1004.0 L761.8,1003.6 L762.7,987.7 L763.6,974.5 L764.5,970.3 L765.5,969.6 L766.4,966.6 L767.3,961.8 L768.2,977.3 L769.1,992.7 L770.0,987.8 L770.9,980.6 L771.8,976.4 L772.7,980.2 L773.6,981.6 L774.5,983.6 L775.5,980.1 L776.4,976.3 L777.3,970.9 L778.2,973.7 L779.1,978.8 L780.0,981.8 L780.9,989.6 L781.8,996.9 L782.7,1005.5 L783.6,998.0 L784.5,992.7 L785.5,1000.7 L786.4,1007.3 L787.3,1003.5 L788.2,1000.8 L789.1,998.7 L790.0,996.4 L790.9,995.5 L791.8,995.0 L792.7,994.5 L793.6,996.7 L794.5,1002.1 L795.5,1003.6 L796.4,1000.5 L797.3,1000.9 L798.2,998.2 L799.1,992.6 L800.0,985.5 L800.9,995.3 L801.8,1004.8 L802.7,1016.5 L803.6,1025.5 L804.3,1022.6 L805.0,1018.2 L805.7,1013.7 L806.4,1010.9 L807.0,1011.2 L807.7,1009.1 L808.6,1016.2 L809.5,1021.4 L810.5,1029.1 L811.4,1027.5 L812.3,1022.6 L813.2,1020.0 L814.1,1019.5 L815.0,1022.7 L815.9,1021.8 L816.8,1019.0 L817.7,1014.5 L818.6,1016.2 L819.5,1018.2 L820.5,1015.9 L821.4,1013.4 L822.3,1010.9 L823.2,1014.6 L824.1,1018.2 L825.0,1013.8 L825.9,1012.6 L826.8,1009.1 L827.7,1011.1 L828.6,1012.9 L829.5,1016.4 L830.5,1017.7 L831.4,1019.7 L832.3,1020.4 L833.2,1022.9 L834.1,1025.5 L835.0,1020.7 L835.9,1016.1 L836.8,1012.9 L837.7,1009.1 L838.6,1009.5 L839.5,1012.7 L840.5,1014.5 L841.4,1018.9 L842.3,1023.6 L843.2,1029.1 L844.1,1024.7 L845.0,1019.8 L845.9,1014.5 L846.8,1010.6 L847.7,1007.9 L848.6,1006.9 L849.5,1003.6 L850.4,1008.7 L851.2,1013.5 L852.1,1019.3 L852.9,1024.7 L853.7,1030.9 L854.8,1025.8 L855.8,1020.9 L856.8,1018.2 L857.7,1015.0 L858.6,1013.9 L859.5,1008.4 L860.5,1007.3 L861.4,1010.6 L862.3,1015.9 L863.2,1021.8 L864.1,1019.7 L865.0,1016.7 L865.9,1015.7 L866.8,1012.7 L867.7,1013.9 L868.6,1014.1 L869.5,1014.0 L870.5,1014.5 L871.4,1019.3 L872.3,1023.4 L873.2,1025.5 L874.1,1021.4 L875.0,1019.3 L875.9,1017.9 L876.8,1014.3 L877.7,1010.9 L878.6,1010.6 L879.5,1011.6 L880.5,1010.9 L881.5,1006.6 L882.5,1004.8 L883.5,1000.0 L884.3,1004.1 L885.1,1009.6 L885.9,1016.4 L886.8,1014.2 L887.7,1010.1 L888.6,1007.3 L889.5,1008.2 L890.5,1008.6 L891.4,1008.1 L892.3,1007.3 L893.2,1006.5 L894.1,1004.1 L895.0,1003.6 L895.9,1004.9 L896.8,1005.2 L897.7,1007.3 L898.6,1013.8 L899.5,1019.8 L900.5,1023.6 L901.2,1016.7 L902.0,1012.8 L902.7,1007.3 L903.2,1009.1 L904.0,1007.9 L904.8,1006.0 L905.6,1001.9 L906.4,1000.0 L906.8,1001.8 L907.7,1004.7 L908.6,1007.3 L909.5,1010.9 L910.0,1009.1 L910.8,1005.4 L911.6,1003.6 L912.4,1003.8 L913.2,1000.0 L913.6,1000.0 L914.4,1003.9 L915.2,1007.6 L915.9,1009.1 L916.4,1005.5 L917.3,1012.1 L918.2,1018.2 L918.6,1018.2 L919.4,1003.4 L920.2,991.3 L920.9,978.2 L921.8,984.9 L922.7,989.1 L923.2,989.1 L923.9,1000.1 L924.7,1012.0 L925.5,1021.8 L926.4,1016.6 L927.3,1014.0 L928.2,1010.7 L929.1,1007.3 L929.9,999.8 L930.7,992.0 L931.5,986.2 L932.4,978.2 L933.4,982.7 L934.4,986.5 L935.5,989.1 L936.4,987.0 L937.3,985.5 L938.2,990.2 L939.1,997.7 L940.0,1003.6 L940.9,1000.5 L941.8,994.6 L942.7,990.9 L943.6,994.4 L944.5,1000.1 L945.5,1005.5 L946.4,1006.1 L947.3,1006.6 L948.2,1010.0 L949.1,1010.9 L950.0,1006.3 L950.9,1005.8 L951.8,1001.8 L952.7,1005.0 L953.6,1006.4 L954.5,1007.3 L955.5,1004.9 L956.4,1000.9 L957.3,1002.7 L958.2,1004.2 L959.1,1004.5 L960.0,1005.5 L960.9,1004.4 L961.8,1001.2 L962.7,1001.3 L963.6,1000.0 L964.5,1004.6 L965.5,1004.6 L966.4,1009.1 L967.3,1006.0 L968.2,1004.9 L969.1,1001.0 L970.0,998.2 L970.9,998.3 L971.8,995.9 L972.7,994.5 L973.6,995.4 L974.5,998.7 L975.5,998.2 L976.4,1000.0 L977.3,1000.2 L978.2,998.8 L979.1,998.8 L980.0,996.4 L980.9,997.0 L981.8,997.9 L982.7,996.0 L983.6,998.4 L984.5,998.2 L985.5,996.0 L986.4,996.1 L987.3,996.4 L988.2,990.5 L989.1,982.3 L990.0,976.4 L990.9,981.8" fill="none" stroke="#7db1ec" stroke-width="0.9" stroke-linejoin="round"/>
<path d="M582.6,1054.5 L583.5,1054.6 L584.3,1057.2 L585.1,1058.7 L585.9,1060.0 L586.8,1061.0 L587.7,1059.8 L588.6,1059.0 L589.5,1057.3 L590.5,1057.5 L591.4,1055.1 L592.3,1057.4 L593.2,1055.2 L594.1,1055.3 L595.0,1054.5 L595.9,1053.4 L596.8,1054.5 L597.7,1056.7 L598.6,1054.4 L599.5,1054.6 L600.5,1056.4 L601.4,1056.2 L602.3,1056.7 L603.2,1057.7 L604.1,1058.1 L605.0,1057.5 L605.9,1059.1 L606.8,1057.1 L607.7,1058.3 L608.6,1057.9 L609.5,1058.6 L610.5,1058.6 L611.4,1058.2 L612.3,1058.4 L613.2,1056.8 L614.1,1055.9 L615.0,1056.3 L615.9,1056.6 L616.8,1054.5 L617.7,1055.0 L618.6,1052.5 L619.5,1053.4 L620.5,1055.6 L621.4,1055.5 L622.3,1053.6 L623.2,1053.1 L624.1,1052.9 L625.0,1052.3 L625.9,1052.9 L626.8,1052.9 L627.7,1054.5 L628.6,1056.0 L629.5,1055.5 L630.5,1053.1 L631.4,1051.6 L632.3,1054.5 L633.2,1052.7 L634.1,1054.1 L635.0,1056.0 L635.9,1054.7 L636.8,1056.4 L637.7,1057.7 L638.6,1057.5 L639.5,1057.0 L640.5,1057.0 L641.4,1057.1 L642.3,1056.2 L643.2,1058.0 L644.1,1056.4 L645.0,1054.8 L645.9,1055.8 L646.8,1055.6 L647.7,1055.9 L648.6,1057.0 L649.5,1054.2 L650.5,1055.3 L651.4,1055.5 L652.3,1055.3 L653.2,1055.0 L654.1,1055.9 L655.0,1056.2 L655.9,1055.9 L656.8,1055.5 L657.7,1055.0 L658.6,1055.5 L659.5,1057.1 L660.5,1056.3 L661.4,1055.6 L662.3,1053.3 L663.2,1054.3 L664.1,1054.5 L665.0,1056.0 L665.9,1054.9 L666.8,1056.6 L667.7,1057.3 L668.6,1057.0 L669.5,1059.1 L670.5,1060.2 L671.4,1060.2 L672.3,1057.8 L673.2,1057.3 L674.1,1057.5 L675.0,1058.2 L675.9,1059.1 L676.8,1057.5 L677.7,1059.5 L678.6,1060.3 L679.5,1057.5 L680.5,1059.1 L681.4,1059.6 L682.3,1059.3 L683.2,1058.8 L684.1,1058.7 L685.0,1057.2 L685.9,1056.4 L686.8,1059.0 L687.7,1057.3 L688.5,1056.1 L689.2,1058.8 L690.0,1057.3 L690.9,1058.5 L691.8,1057.1 L692.7,1057.5 L693.6,1056.9 L694.5,1056.8 L695.5,1058.9 L696.4,1056.4 L697.3,1056.9 L698.2,1059.8 L699.1,1058.2 L700.0,1057.8 L700.9,1058.7 L701.8,1058.9 L702.7,1059.2 L703.6,1059.9 L704.5,1059.8 L705.5,1058.1 L706.4,1058.3 L707.3,1060.8 L708.2,1059.1 L709.1,1060.5 L710.0,1058.7 L710.9,1058.0 L711.8,1058.3 L712.7,1059.8 L713.6,1057.6 L714.5,1056.8 L715.5,1057.0 L716.4,1057.2 L717.3,1058.2 L718.2,1059.7 L719.1,1057.1 L720.0,1057.1 L720.9,1059.4 L721.8,1060.0 L722.7,1060.4 L723.6,1060.2 L724.5,1060.4 L725.5,1060.2 L726.4,1059.1 L727.3,1060.6 L728.2,1058.8 L729.1,1060.2 L730.0,1057.2 L730.9,1057.7 L731.8,1060.1 L732.7,1058.2 L733.6,1058.4 L734.5,1059.0 L735.5,1058.2 L736.4,1057.7 L737.3,1056.4 L738.2,1059.1 L739.1,1056.8 L740.0,1059.2 L740.9,1057.9 L741.8,1057.6 L742.7,1059.2 L743.6,1056.8 L744.5,1057.3 L745.5,1058.4 L746.4,1056.6 L747.3,1058.9 L748.2,1057.3 L749.1,1059.5 L750.0,1058.1 L750.9,1059.8 L751.8,1060.4 L752.7,1057.8 L753.6,1059.1 L754.5,1058.5 L755.5,1060.8 L756.4,1058.9 L757.3,1057.6 L758.2,1058.2 L759.1,1058.8 L760.0,1058.7 L760.9,1059.5 L761.8,1059.8 L762.7,1059.1 L763.6,1057.4 L764.5,1056.8 L765.5,1057.0 L766.4,1059.4 L767.3,1056.4 L768.2,1058.0 L769.1,1057.5 L770.0,1056.4 L770.9,1055.6 L771.8,1057.4 L772.7,1056.9 L773.6,1055.5 L774.5,1056.3 L775.5,1056.4 L776.4,1054.4 L777.3,1052.3 L778.2,1053.6 L779.1,1056.1 L780.0,1053.7 L780.9,1056.4 L781.8,1055.1 L782.7,1055.6 L783.6,1055.7 L784.5,1056.2 L785.5,1054.3 L786.4,1054.8 L787.3,1056.3 L788.2,1054.6 L789.1,1054.8 L790.0,1055.5 L790.9,1056.1 L791.8,1055.4 L792.7,1056.4 L793.6,1056.6 L794.5,1053.2 L795.5,1053.5 L796.4,1056.6 L797.3,1054.4 L798.2,1054.7 L799.1,1054.5 L800.0,1053.6 L800.9,1057.2 L801.8,1056.4 L802.7,1057.9 L803.6,1059.7 L804.5,1060.9 L805.0,1060.9 L805.9,1061.8 L806.8,1061.6 L807.7,1058.9 L808.6,1061.9 L809.5,1061.6 L810.5,1061.2 L811.4,1061.6 L812.3,1061.8 L813.2,1059.4 L814.1,1060.0 L815.0,1061.3 L815.9,1059.9 L816.8,1061.6 L817.7,1060.9 L818.6,1061.1 L819.5,1061.3 L820.5,1059.6 L821.4,1060.0 L822.3,1059.8 L823.2,1060.9 L824.1,1059.6 L825.0,1060.1 L825.9,1061.8 L826.8,1059.8 L827.7,1059.5 L828.6,1061.1 L829.5,1060.8 L830.5,1059.5 L831.4,1061.7 L832.3,1060.0 L833.2,1061.1 L834.1,1060.4 L835.0,1059.1 L835.9,1060.8 L836.8,1059.8 L837.7,1061.5 L838.6,1062.6 L839.5,1060.7 L840.5,1060.2 L841.4,1061.8 L842.3,1061.9 L843.2,1062.5 L844.1,1059.6 L845.0,1062.2 L845.9,1062.4 L846.8,1062.3 L847.7,1059.5 L848.6,1058.6 L849.5,1060.7 L850.5,1060.0 L851.4,1059.8 L852.3,1061.5 L853.2,1059.1 L854.1,1061.2 L855.0,1062.0 L855.9,1060.8 L856.8,1060.9 L857.7,1059.8 L858.6,1061.3 L859.5,1060.9 L860.5,1062.4 L861.4,1061.1 L862.3,1061.7 L863.2,1058.4 L864.1,1059.7 L865.0,1058.2 L865.9,1060.5 L866.8,1059.9 L867.7,1060.9 L868.6,1059.1 L869.5,1058.2 L870.5,1061.0 L871.4,1060.6 L872.3,1060.2 L873.2,1060.8 L874.1,1060.9 L875.0,1059.3 L875.9,1059.6 L876.8,1061.7 L877.7,1060.0 L878.6,1058.6 L879.5,1058.5 L880.5,1060.7 L881.4,1060.1 L882.3,1059.2 L883.2,1058.6 L884.1,1058.9 L885.0,1060.7 L885.9,1060.3 L886.8,1060.0 L887.7,1060.0 L888.6,1060.4 L889.5,1061.0 L890.5,1058.0 L891.4,1060.8 L892.3,1057.9 L893.2,1058.4 L894.1,1060.5 L895.0,1057.6 L895.9,1059.1 L896.7,1058.3 L897.5,1059.6 L898.4,1061.2 L899.2,1061.4 L900.0,1060.0 L900.8,1061.4 L901.7,1059.8 L902.5,1060.9 L903.3,1059.6 L904.2,1059.3 L905.0,1059.1 L905.8,1059.0 L906.5,1058.0 L907.3,1058.2 L908.1,1058.6 L909.0,1056.6 L909.8,1057.9 L910.7,1058.9 L911.5,1058.6 L912.4,1057.4 L913.2,1058.9 L914.1,1058.2 L914.9,1057.4 L915.7,1058.5 L916.5,1060.2 L917.4,1059.8 L918.2,1059.1 L918.6,1059.1 L919.3,1054.1 L920.0,1050.0 L920.9,1050.8 L921.8,1051.1 L922.7,1049.3 L923.6,1050.9 L924.5,1051.3 L925.5,1050.5 L926.4,1049.6 L927.3,1049.7 L928.2,1047.8 L929.1,1048.2 L930.0,1048.9 L930.9,1047.2 L931.8,1045.5 L932.7,1047.1 L933.6,1046.9 L934.5,1047.4 L935.5,1049.1 L936.4,1047.8 L937.3,1049.2 L938.2,1048.2 L939.1,1049.9 L940.0,1052.0 L940.9,1052.1 L941.8,1052.7 L942.7,1052.4 L943.6,1052.2 L944.5,1054.6 L945.5,1053.9 L946.4,1053.8 L947.3,1055.5 L948.2,1055.1 L949.1,1056.1 L950.0,1054.4 L950.9,1056.4 L951.8,1055.0 L952.7,1053.6 L953.6,1055.1 L954.5,1054.5 L955.5,1053.0 L956.4,1055.1 L957.3,1053.1 L958.2,1053.4 L959.1,1053.3 L960.0,1053.7 L960.9,1055.8 L961.8,1056.0 L962.7,1054.5 L963.6,1054.5 L964.5,1055.5 L965.5,1055.6 L966.4,1054.9 L967.3,1055.8 L968.2,1055.9 L969.1,1055.1 L970.0,1054.5 L970.9,1055.1 L971.8,1054.4 L972.7,1054.5 L973.6,1053.8 L974.5,1055.1 L975.5,1053.1 L976.4,1053.0 L977.3,1052.9 L978.2,1052.9 L979.1,1054.6 L980.0,1052.7 L980.9,1053.3 L981.8,1052.0 L982.7,1050.9 L983.6,1052.7 L984.5,1050.8 L985.5,1051.8 L986.4,1052.3 L987.3,1051.8 L988.2,1052.2 L989.1,1052.4 L990.0,1051.3 L990.9,1052.7 L990.9,1068 L582.6,1068 Z" fill="#858991" stroke="none" />
<path d="M582.6,1054.5 L583.5,1054.6 L584.3,1057.2 L585.1,1058.7 L585.9,1060.0 L586.8,1061.0 L587.7,1059.8 L588.6,1059.0 L589.5,1057.3 L590.5,1057.5 L591.4,1055.1 L592.3,1057.4 L593.2,1055.2 L594.1,1055.3 L595.0,1054.5 L595.9,1053.4 L596.8,1054.5 L597.7,1056.7 L598.6,1054.4 L599.5,1054.6 L600.5,1056.4 L601.4,1056.2 L602.3,1056.7 L603.2,1057.7 L604.1,1058.1 L605.0,1057.5 L605.9,1059.1 L606.8,1057.1 L607.7,1058.3 L608.6,1057.9 L609.5,1058.6 L610.5,1058.6 L611.4,1058.2 L612.3,1058.4 L613.2,1056.8 L614.1,1055.9 L615.0,1056.3 L615.9,1056.6 L616.8,1054.5 L617.7,1055.0 L618.6,1052.5 L619.5,1053.4 L620.5,1055.6 L621.4,1055.5 L622.3,1053.6 L623.2,1053.1 L624.1,1052.9 L625.0,1052.3 L625.9,1052.9 L626.8,1052.9 L627.7,1054.5 L628.6,1056.0 L629.5,1055.5 L630.5,1053.1 L631.4,1051.6 L632.3,1054.5 L633.2,1052.7 L634.1,1054.1 L635.0,1056.0 L635.9,1054.7 L636.8,1056.4 L637.7,1057.7 L638.6,1057.5 L639.5,1057.0 L640.5,1057.0 L641.4,1057.1 L642.3,1056.2 L643.2,1058.0 L644.1,1056.4 L645.0,1054.8 L645.9,1055.8 L646.8,1055.6 L647.7,1055.9 L648.6,1057.0 L649.5,1054.2 L650.5,1055.3 L651.4,1055.5 L652.3,1055.3 L653.2,1055.0 L654.1,1055.9 L655.0,1056.2 L655.9,1055.9 L656.8,1055.5 L657.7,1055.0 L658.6,1055.5 L659.5,1057.1 L660.5,1056.3 L661.4,1055.6 L662.3,1053.3 L663.2,1054.3 L664.1,1054.5 L665.0,1056.0 L665.9,1054.9 L666.8,1056.6 L667.7,1057.3 L668.6,1057.0 L669.5,1059.1 L670.5,1060.2 L671.4,1060.2 L672.3,1057.8 L673.2,1057.3 L674.1,1057.5 L675.0,1058.2 L675.9,1059.1 L676.8,1057.5 L677.7,1059.5 L678.6,1060.3 L679.5,1057.5 L680.5,1059.1 L681.4,1059.6 L682.3,1059.3 L683.2,1058.8 L684.1,1058.7 L685.0,1057.2 L685.9,1056.4 L686.8,1059.0 L687.7,1057.3 L688.5,1056.1 L689.2,1058.8 L690.0,1057.3 L690.9,1058.5 L691.8,1057.1 L692.7,1057.5 L693.6,1056.9 L694.5,1056.8 L695.5,1058.9 L696.4,1056.4 L697.3,1056.9 L698.2,1059.8 L699.1,1058.2 L700.0,1057.8 L700.9,1058.7 L701.8,1058.9 L702.7,1059.2 L703.6,1059.9 L704.5,1059.8 L705.5,1058.1 L706.4,1058.3 L707.3,1060.8 L708.2,1059.1 L709.1,1060.5 L710.0,1058.7 L710.9,1058.0 L711.8,1058.3 L712.7,1059.8 L713.6,1057.6 L714.5,1056.8 L715.5,1057.0 L716.4,1057.2 L717.3,1058.2 L718.2,1059.7 L719.1,1057.1 L720.0,1057.1 L720.9,1059.4 L721.8,1060.0 L722.7,1060.4 L723.6,1060.2 L724.5,1060.4 L725.5,1060.2 L726.4,1059.1 L727.3,1060.6 L728.2,1058.8 L729.1,1060.2 L730.0,1057.2 L730.9,1057.7 L731.8,1060.1 L732.7,1058.2 L733.6,1058.4 L734.5,1059.0 L735.5,1058.2 L736.4,1057.7 L737.3,1056.4 L738.2,1059.1 L739.1,1056.8 L740.0,1059.2 L740.9,1057.9 L741.8,1057.6 L742.7,1059.2 L743.6,1056.8 L744.5,1057.3 L745.5,1058.4 L746.4,1056.6 L747.3,1058.9 L748.2,1057.3 L749.1,1059.5 L750.0,1058.1 L750.9,1059.8 L751.8,1060.4 L752.7,1057.8 L753.6,1059.1 L754.5,1058.5 L755.5,1060.8 L756.4,1058.9 L757.3,1057.6 L758.2,1058.2 L759.1,1058.8 L760.0,1058.7 L760.9,1059.5 L761.8,1059.8 L762.7,1059.1 L763.6,1057.4 L764.5,1056.8 L765.5,1057.0 L766.4,1059.4 L767.3,1056.4 L768.2,1058.0 L769.1,1057.5 L770.0,1056.4 L770.9,1055.6 L771.8,1057.4 L772.7,1056.9 L773.6,1055.5 L774.5,1056.3 L775.5,1056.4 L776.4,1054.4 L777.3,1052.3 L778.2,1053.6 L779.1,1056.1 L780.0,1053.7 L780.9,1056.4 L781.8,1055.1 L782.7,1055.6 L783.6,1055.7 L784.5,1056.2 L785.5,1054.3 L786.4,1054.8 L787.3,1056.3 L788.2,1054.6 L789.1,1054.8 L790.0,1055.5 L790.9,1056.1 L791.8,1055.4 L792.7,1056.4 L793.6,1056.6 L794.5,1053.2 L795.5,1053.5 L796.4,1056.6 L797.3,1054.4 L798.2,1054.7 L799.1,1054.5 L800.0,1053.6 L800.9,1057.2 L801.8,1056.4 L802.7,1057.9 L803.6,1059.7 L804.5,1060.9 L805.0,1060.9 L805.9,1061.8 L806.8,1061.6 L807.7,1058.9 L808.6,1061.9 L809.5,1061.6 L810.5,1061.2 L811.4,1061.6 L812.3,1061.8 L813.2,1059.4 L814.1,1060.0 L815.0,1061.3 L815.9,1059.9 L816.8,1061.6 L817.7,1060.9 L818.6,1061.1 L819.5,1061.3 L820.5,1059.6 L821.4,1060.0 L822.3,1059.8 L823.2,1060.9 L824.1,1059.6 L825.0,1060.1 L825.9,1061.8 L826.8,1059.8 L827.7,1059.5 L828.6,1061.1 L829.5,1060.8 L830.5,1059.5 L831.4,1061.7 L832.3,1060.0 L833.2,1061.1 L834.1,1060.4 L835.0,1059.1 L835.9,1060.8 L836.8,1059.8 L837.7,1061.5 L838.6,1062.6 L839.5,1060.7 L840.5,1060.2 L841.4,1061.8 L842.3,1061.9 L843.2,1062.5 L844.1,1059.6 L845.0,1062.2 L845.9,1062.4 L846.8,1062.3 L847.7,1059.5 L848.6,1058.6 L849.5,1060.7 L850.5,1060.0 L851.4,1059.8 L852.3,1061.5 L853.2,1059.1 L854.1,1061.2 L855.0,1062.0 L855.9,1060.8 L856.8,1060.9 L857.7,1059.8 L858.6,1061.3 L859.5,1060.9 L860.5,1062.4 L861.4,1061.1 L862.3,1061.7 L863.2,1058.4 L864.1,1059.7 L865.0,1058.2 L865.9,1060.5 L866.8,1059.9 L867.7,1060.9 L868.6,1059.1 L869.5,1058.2 L870.5,1061.0 L871.4,1060.6 L872.3,1060.2 L873.2,1060.8 L874.1,1060.9 L875.0,1059.3 L875.9,1059.6 L876.8,1061.7 L877.7,1060.0 L878.6,1058.6 L879.5,1058.5 L880.5,1060.7 L881.4,1060.1 L882.3,1059.2 L883.2,1058.6 L884.1,1058.9 L885.0,1060.7 L885.9,1060.3 L886.8,1060.0 L887.7,1060.0 L888.6,1060.4 L889.5,1061.0 L890.5,1058.0 L891.4,1060.8 L892.3,1057.9 L893.2,1058.4 L894.1,1060.5 L895.0,1057.6 L895.9,1059.1 L896.7,1058.3 L897.5,1059.6 L898.4,1061.2 L899.2,1061.4 L900.0,1060.0 L900.8,1061.4 L901.7,1059.8 L902.5,1060.9 L903.3,1059.6 L904.2,1059.3 L905.0,1059.1 L905.8,1059.0 L906.5,1058.0 L907.3,1058.2 L908.1,1058.6 L909.0,1056.6 L909.8,1057.9 L910.7,1058.9 L911.5,1058.6 L912.4,1057.4 L913.2,1058.9 L914.1,1058.2 L914.9,1057.4 L915.7,1058.5 L916.5,1060.2 L917.4,1059.8 L918.2,1059.1 L918.6,1059.1 L919.3,1054.1 L920.0,1050.0 L920.9,1050.8 L921.8,1051.1 L922.7,1049.3 L923.6,1050.9 L924.5,1051.3 L925.5,1050.5 L926.4,1049.6 L927.3,1049.7 L928.2,1047.8 L929.1,1048.2 L930.0,1048.9 L930.9,1047.2 L931.8,1045.5 L932.7,1047.1 L933.6,1046.9 L934.5,1047.4 L935.5,1049.1 L936.4,1047.8 L937.3,1049.2 L938.2,1048.2 L939.1,1049.9 L940.0,1052.0 L940.9,1052.1 L941.8,1052.7 L942.7,1052.4 L943.6,1052.2 L944.5,1054.6 L945.5,1053.9 L946.4,1053.8 L947.3,1055.5 L948.2,1055.1 L949.1,1056.1 L950.0,1054.4 L950.9,1056.4 L951.8,1055.0 L952.7,1053.6 L953.6,1055.1 L954.5,1054.5 L955.5,1053.0 L956.4,1055.1 L957.3,1053.1 L958.2,1053.4 L959.1,1053.3 L960.0,1053.7 L960.9,1055.8 L961.8,1056.0 L962.7,1054.5 L963.6,1054.5 L964.5,1055.5 L965.5,1055.6 L966.4,1054.9 L967.3,1055.8 L968.2,1055.9 L969.1,1055.1 L970.0,1054.5 L970.9,1055.1 L971.8,1054.4 L972.7,1054.5 L973.6,1053.8 L974.5,1055.1 L975.5,1053.1 L976.4,1053.0 L977.3,1052.9 L978.2,1052.9 L979.1,1054.6 L980.0,1052.7 L980.9,1053.3 L981.8,1052.0 L982.7,1050.9 L983.6,1052.7 L984.5,1050.8 L985.5,1051.8 L986.4,1052.3 L987.3,1051.8 L988.2,1052.2 L989.1,1052.4 L990.0,1051.3 L990.9,1052.7" fill="none" stroke="#7b7f87" stroke-width="1" stroke-linejoin="round"/>
<line x1="582.5" y1="867" x2="582.5" y2="1069" stroke="#4a4a4a" stroke-width="1"/>
<line x1="578" y1="1068.5" x2="582.5" y2="1068.5" stroke="#4a4a4a" stroke-width="1"/>
<text x="575.2" y="1071.7" text-anchor="end">0</text>
<line x1="578" y1="1039.5" x2="582.5" y2="1039.5" stroke="#4a4a4a" stroke-width="1"/>
<text x="575.2" y="1043.0" text-anchor="end">100</text>
<line x1="578" y1="1010.5" x2="582.5" y2="1010.5" stroke="#4a4a4a" stroke-width="1"/>
<text x="575.2" y="1014.3" text-anchor="end">200</text>
<line x1="578" y1="981.5" x2="582.5" y2="981.5" stroke="#4a4a4a" stroke-width="1"/>
<text x="575.2" y="985.6" text-anchor="end">300</text>
<line x1="578" y1="953.5" x2="582.5" y2="953.5" stroke="#4a4a4a" stroke-width="1"/>
<text x="575.2" y="956.8" text-anchor="end">400</text>
<line x1="578" y1="924.5" x2="582.5" y2="924.5" stroke="#4a4a4a" stroke-width="1"/>
<text x="575.2" y="928.1" text-anchor="end">500</text>
<line x1="578" y1="895.5" x2="582.5" y2="895.5" stroke="#4a4a4a" stroke-width="1"/>
<text x="575.2" y="899.4" text-anchor="end">600</text>
<line x1="578" y1="867.5" x2="582.5" y2="867.5" stroke="#4a4a4a" stroke-width="1"/>
<text x="575.2" y="870.7" text-anchor="end">700</text>
<line x1="582" y1="1068.5" x2="993" y2="1068.5" stroke="#4a4a4a" stroke-width="1"/>
<line x1="582.5" y1="1068" x2="582.5" y2="1072" stroke="#4a4a4a" stroke-width="1"/>
<text x="582.5" y="1083.0" text-anchor="middle">20200901</text>
<line x1="645.5" y1="1068" x2="645.5" y2="1072" stroke="#4a4a4a" stroke-width="1"/>
<text x="645.4" y="1083.0" text-anchor="middle">20201029</text>
<line x1="708.5" y1="1068" x2="708.5" y2="1072" stroke="#4a4a4a" stroke-width="1"/>
<text x="708.3" y="1083.0" text-anchor="middle">20201226</text>
<line x1="771.5" y1="1068" x2="771.5" y2="1072" stroke="#4a4a4a" stroke-width="1"/>
<text x="771.2" y="1083.0" text-anchor="middle">20210222</text>
<line x1="833.5" y1="1068" x2="833.5" y2="1072" stroke="#4a4a4a" stroke-width="1"/>
<text x="834.1" y="1083.0" text-anchor="middle">20210421</text>
<line x1="896.5" y1="1068" x2="896.5" y2="1072" stroke="#4a4a4a" stroke-width="1"/>
<text x="897.1" y="1083.0" text-anchor="middle">20210618</text>
<line x1="959.5" y1="1068" x2="959.5" y2="1072" stroke="#4a4a4a" stroke-width="1"/>
<text x="960.0" y="1083.0" text-anchor="middle">20210815</text>
<line x1="992.5" y1="1068" x2="992.5" y2="1072" stroke="#4a4a4a" stroke-width="1"/>
</svg></body></html>
